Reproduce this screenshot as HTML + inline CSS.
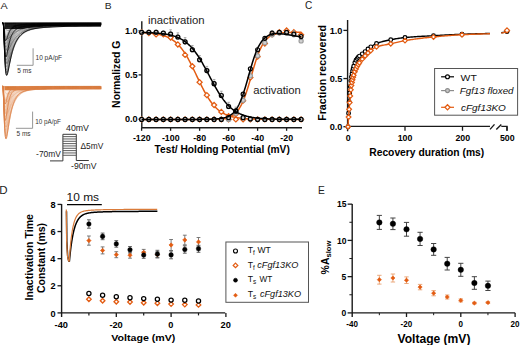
<!DOCTYPE html>
<html><head><meta charset="utf-8"><title>Figure</title>
<style>html,body{margin:0;padding:0;background:#fff;width:520px;height:345px;overflow:hidden;font-family:"Liberation Sans",sans-serif}svg{display:block}</style>
</head><body>
<svg width="520" height="345" viewBox="0 0 520 345" font-family="'Liberation Sans', sans-serif"><text x="0.5" y="8.8" font-size="9.000" font-weight="normal" font-style="normal" fill="#222" textLength="7.19" lengthAdjust="spacingAndGlyphs">A</text>
<text x="104.83" y="8.75" font-size="9.643" font-weight="normal" font-style="normal" fill="#222" textLength="6.85" lengthAdjust="spacingAndGlyphs">B</text>
<text x="305.1" y="9.4" font-size="10.714" font-weight="normal" font-style="normal" fill="#222" textLength="7.28" lengthAdjust="spacingAndGlyphs">C</text>
<text x="-0.86" y="193.75" font-size="11.643" font-weight="normal" font-style="normal" fill="#222" textLength="8.31" lengthAdjust="spacingAndGlyphs">D</text>
<text x="317.98" y="193.75" font-size="11.643" font-weight="normal" font-style="normal" fill="#222" textLength="6.85" lengthAdjust="spacingAndGlyphs">E</text>
<path d="M4.5,22.4 L6.14,22.4 L7.79,22.4 L9.43,22.4 L11.08,22.4 L12.72,22.4 L14.36,22.4 L16.01,22.4 L17.65,22.4 L19.3,22.4 L20.94,22.4 L22.58,22.4 L24.23,22.4 L25.87,22.4 L27.52,22.4 L29.16,22.4 L30.81,22.4 L32.45,22.4 L34.09,22.4 L35.74,22.4 L37.38,22.4 L39.03,22.4 L40.67,22.4 L42.31,22.4 L43.96,22.4 L45.6,22.4 L47.25,22.4 L48.89,22.4 L50.53,22.4 L52.18,22.4 L53.82,22.4 L55.47,22.4 L57.11,22.4 L58.75,22.4 L60.4,22.4 L62.04,22.4 L63.69,22.4 L65.33,22.4 L66.97,22.4 L68.62,22.4 L70.26,22.4 L71.91,22.4 L73.55,22.4 L75.19,22.4 L76.84,22.4 L78.48,22.4 L80.13,22.4 L81.77,22.4 L83.42,22.4 L85.06,22.4 L86.7,22.4 L88.35,22.4 L89.99,22.4 L91.64,22.4 L93.28,22.4 L94.92,22.4 L96.57,22.4 L98.21,22.4 L99.86,22.4 L101.5,22.4 L101.5,25.37 L99.86,25.38 L98.21,25.38 L96.57,25.39 L94.92,25.4 L93.28,25.41 L91.64,25.41 L89.99,25.42 L88.35,25.43 L86.7,25.45 L85.06,25.46 L83.42,25.47 L81.77,25.49 L80.13,25.5 L78.48,25.52 L76.84,25.54 L75.19,25.56 L73.55,25.58 L71.91,25.61 L70.26,25.63 L68.62,25.66 L66.97,25.69 L65.33,25.73 L63.69,25.76 L62.04,25.8 L60.4,25.85 L58.75,25.89 L57.11,25.94 L55.47,26 L53.82,26.06 L52.18,26.12 L50.53,26.19 L48.89,26.27 L47.25,26.35 L45.6,26.44 L43.96,26.54 L42.31,26.65 L40.67,26.76 L39.03,26.89 L37.38,27.02 L35.74,27.17 L34.09,27.33 L32.45,27.5 L30.81,27.69 L29.16,27.9 L27.52,28.12 L25.87,28.36 L24.23,28.63 L22.58,28.91 L20.94,29 L19.3,29 L17.65,29 L16.01,29 L14.36,29 L12.72,29 L11.08,29 L9.43,29 L7.79,29 L6.14,29 L4.5,29 Z" fill="#000"/>
<path d="M2.7,22.9 L3,22.9 L3.22,23.35 L3.45,25.58 L3.67,29.72 L3.89,35.19 L4.12,41.28 L4.34,47.4 L4.57,53.23 L4.79,58.49 L5.01,62.99 L5.24,66.7 L5.46,69.63 L5.68,71.83 L5.91,73.39 L6.13,74.38 L6.36,75 L6.58,75.33 L6.8,75.32 L7.03,75.04 L7.25,74.53 L7.47,73.85 L7.7,73.03 L7.92,72.1 L8.15,71.09 L8.37,70.02 L8.59,68.91 L8.82,67.78 L9.04,66.64 L9.26,65.5 L9.49,64.36 L9.71,63.24 L9.94,62.13 L10.16,61.04 L10.38,59.98 L10.61,59.02 L10.83,58.12 L11.05,57.24 L11.28,56.39 L11.5,55.55 L11.73,54.73 L11.95,53.94 L12.17,53.17 L12.4,52.42 L12.62,51.69 L12.84,50.98 L13.07,50.3 L13.29,49.63 L13.52,48.98 L13.74,48.35 L13.96,47.74 L14.19,47.15 L14.41,46.58 L14.63,46.03 L14.86,45.49 L15.08,44.97 L15.31,44.46 L15.53,43.97 L15.75,43.49 L15.98,43.03 L16.2,42.59 L16.53,41.95 L17.61,40.06 L18.69,38.43 L19.78,37.02 L20.86,35.8 L21.94,34.75 L23.02,33.83 L24.1,33.03 L25.19,32.33 L26.27,31.72 L27.35,31.19 L28.43,30.72 L29.51,30.3 L30.59,29.93 L31.68,29.61 L32.76,29.32 L33.84,29.06 L34.92,28.82 L36,28.61 L37.09,28.42 L38.17,28.25 L39.25,28.1 L40,22.9 Z" fill="#888" fill-opacity="0.25"/>
<g fill="none" stroke="#000" stroke-width="0.5" stroke-opacity="0.5"><path d="M2.7,22.9 L3,22.9 L3.22,22.9 L3.45,22.91 L3.67,22.92 L3.89,22.94 L4.12,22.96 L4.34,22.98 L4.57,23 L4.79,23.03 L5.01,23.05 L5.24,23.07 L5.46,23.08 L5.68,23.1 L5.91,23.11 L6.13,23.12 L6.36,23.13 L6.58,23.14 L6.8,23.15 L7.03,23.15 L7.25,23.15 L7.47,23.16 L7.7,23.16 L7.92,23.16 L8.15,23.16 L8.37,23.16 L8.59,23.16 L8.82,23.16 L9.04,23.16 L9.26,23.16 L9.49,23.16 L9.71,23.16 L9.94,23.16 L10.16,23.16 L10.38,23.16 L10.61,23.16 L10.83,23.16 L11.05,23.15 L11.28,23.15 L11.5,23.15 L11.73,23.15 L11.95,23.15 L12.17,23.15 L12.4,23.15 L12.62,23.14 L12.84,23.14 L13.07,23.14 L13.29,23.14 L13.52,23.14 L13.74,23.14 L13.96,23.14 L14.19,23.13 L14.41,23.13 L14.63,23.13 L14.86,23.13 L15.08,23.13 L15.31,23.13 L15.53,23.12 L15.75,23.12 L15.98,23.12 L16.2,23.12 L16.53,23.12 L17.61,23.11 L18.69,23.1 L19.78,23.1 L20.86,23.09 L21.94,23.09 L23.02,23.08 L24.1,23.08 L25.19,23.07 L26.27,23.07 L27.35,23.06 L28.43,23.06 L29.51,23.05 L30.59,23.05 L31.68,23.04 L32.76,23.04 L33.84,23.03 L34.92,23.03 L36,23.03 L37.09,23.02 L38.17,23.02 L39.25,23.02 L40.33,23.01 L41.41,23.01 L42.5,23.01 L43.58,23 L44.66,23 L45.74,23 L46.82,23 L47.91,22.99 L48.99,22.99 L50.07,22.99 L51.15,22.99 L52.23,22.99 L53.31,22.98 L54.4,22.98 L55.48,22.98 L56.56,22.98 L57.64,22.98 L58.72,22.97 L59.81,22.97 L60.89,22.97 L61.97,22.97 L63.05,22.97 L64.13,22.97 L65.22,22.96 L66.3,22.96 L67.38,22.96 L68.46,22.96 L69.54,22.96 L70.62,22.96 L71.71,22.96 L72.79,22.96 L73.87,22.95 L74.95,22.95 L76.03,22.95 L77.12,22.95 L78.2,22.95 L79.28,22.95 L80.36,22.95 L81.44,22.95 L82.53,22.95 L83.61,22.95 L84.69,22.95 L85.77,22.94 L86.85,22.94 L87.94,22.94 L89.02,22.94 L90.1,22.94 L91.18,22.94 L92.26,22.94 L93.34,22.94 L94.43,22.94 L95.51,22.94 L96.59,22.94 L97.67,22.94 L98.75,22.94 L99.84,22.94 L100.92,22.94"/><path d="M2.7,22.9 L3,22.9 L3.22,22.9 L3.45,22.92 L3.67,22.95 L3.89,22.99 L4.12,23.04 L4.34,23.1 L4.57,23.15 L4.79,23.2 L5.01,23.25 L5.24,23.3 L5.46,23.34 L5.68,23.37 L5.91,23.4 L6.13,23.43 L6.36,23.45 L6.58,23.47 L6.8,23.48 L7.03,23.49 L7.25,23.5 L7.47,23.51 L7.7,23.51 L7.92,23.52 L8.15,23.52 L8.37,23.52 L8.59,23.52 L8.82,23.52 L9.04,23.52 L9.26,23.51 L9.49,23.51 L9.71,23.51 L9.94,23.5 L10.16,23.5 L10.38,23.5 L10.61,23.49 L10.83,23.49 L11.05,23.49 L11.28,23.48 L11.5,23.48 L11.73,23.47 L11.95,23.47 L12.17,23.46 L12.4,23.46 L12.62,23.46 L12.84,23.45 L13.07,23.45 L13.29,23.44 L13.52,23.44 L13.74,23.43 L13.96,23.43 L14.19,23.43 L14.41,23.42 L14.63,23.42 L14.86,23.41 L15.08,23.41 L15.31,23.41 L15.53,23.4 L15.75,23.4 L15.98,23.39 L16.2,23.39 L16.53,23.38 L17.61,23.37 L18.69,23.35 L19.78,23.33 L20.86,23.32 L21.94,23.3 L23.02,23.29 L24.1,23.27 L25.19,23.26 L26.27,23.25 L27.35,23.23 L28.43,23.22 L29.51,23.21 L30.59,23.2 L31.68,23.19 L32.76,23.18 L33.84,23.17 L34.92,23.16 L36,23.15 L37.09,23.15 L38.17,23.14 L39.25,23.13 L40.33,23.12 L41.41,23.12 L42.5,23.11 L43.58,23.1 L44.66,23.1 L45.74,23.09 L46.82,23.09 L47.91,23.08 L48.99,23.07 L50.07,23.07 L51.15,23.07 L52.23,23.06 L53.31,23.06 L54.4,23.05 L55.48,23.05 L56.56,23.04 L57.64,23.04 L58.72,23.04 L59.81,23.03 L60.89,23.03 L61.97,23.03 L63.05,23.02 L64.13,23.02 L65.22,23.02 L66.3,23.02 L67.38,23.01 L68.46,23.01 L69.54,23.01 L70.62,23.01 L71.71,23 L72.79,23 L73.87,23 L74.95,23 L76.03,23 L77.12,23 L78.2,22.99 L79.28,22.99 L80.36,22.99 L81.44,22.99 L82.53,22.99 L83.61,22.99 L84.69,22.98 L85.77,22.98 L86.85,22.98 L87.94,22.98 L89.02,22.98 L90.1,22.98 L91.18,22.98 L92.26,22.98 L93.34,22.98 L94.43,22.97 L95.51,22.97 L96.59,22.97 L97.67,22.97 L98.75,22.97 L99.84,22.97 L100.92,22.97"/><path d="M2.7,22.9 L3,22.9 L3.22,22.91 L3.45,22.95 L3.67,23.02 L3.89,23.12 L4.12,23.25 L4.34,23.38 L4.57,23.51 L4.79,23.64 L5.01,23.76 L5.24,23.86 L5.46,23.96 L5.68,24.04 L5.91,24.11 L6.13,24.17 L6.36,24.22 L6.58,24.25 L6.8,24.29 L7.03,24.31 L7.25,24.33 L7.47,24.34 L7.7,24.35 L7.92,24.36 L8.15,24.36 L8.37,24.36 L8.59,24.35 L8.82,24.35 L9.04,24.34 L9.26,24.34 L9.49,24.33 L9.71,24.32 L9.94,24.31 L10.16,24.3 L10.38,24.29 L10.61,24.27 L10.83,24.26 L11.05,24.25 L11.28,24.24 L11.5,24.23 L11.73,24.21 L11.95,24.2 L12.17,24.19 L12.4,24.18 L12.62,24.17 L12.84,24.15 L13.07,24.14 L13.29,24.13 L13.52,24.12 L13.74,24.11 L13.96,24.1 L14.19,24.08 L14.41,24.07 L14.63,24.06 L14.86,24.05 L15.08,24.04 L15.31,24.03 L15.53,24.02 L15.75,24.01 L15.98,24 L16.2,23.99 L16.53,23.97 L17.61,23.92 L18.69,23.88 L19.78,23.83 L20.86,23.79 L21.94,23.75 L23.02,23.72 L24.1,23.68 L25.19,23.65 L26.27,23.62 L27.35,23.59 L28.43,23.56 L29.51,23.53 L30.59,23.51 L31.68,23.48 L32.76,23.46 L33.84,23.44 L34.92,23.42 L36,23.4 L37.09,23.38 L38.17,23.36 L39.25,23.35 L40.33,23.33 L41.41,23.32 L42.5,23.3 L43.58,23.29 L44.66,23.28 L45.74,23.26 L46.82,23.25 L47.91,23.24 L48.99,23.23 L50.07,23.22 L51.15,23.21 L52.23,23.2 L53.31,23.19 L54.4,23.19 L55.48,23.18 L56.56,23.17 L57.64,23.16 L58.72,23.16 L59.81,23.15 L60.89,23.15 L61.97,23.14 L63.05,23.13 L64.13,23.13 L65.22,23.12 L66.3,23.12 L67.38,23.11 L68.46,23.11 L69.54,23.11 L70.62,23.1 L71.71,23.1 L72.79,23.09 L73.87,23.09 L74.95,23.09 L76.03,23.08 L77.12,23.08 L78.2,23.08 L79.28,23.08 L80.36,23.07 L81.44,23.07 L82.53,23.07 L83.61,23.07 L84.69,23.06 L85.77,23.06 L86.85,23.06 L87.94,23.06 L89.02,23.06 L90.1,23.05 L91.18,23.05 L92.26,23.05 L93.34,23.05 L94.43,23.05 L95.51,23.05 L96.59,23.04 L97.67,23.04 L98.75,23.04 L99.84,23.04 L100.92,23.04"/><path d="M2.7,22.9 L3,22.9 L3.22,22.92 L3.45,23.01 L3.67,23.19 L3.89,23.44 L4.12,23.74 L4.34,24.05 L4.57,24.37 L4.79,24.67 L5.01,24.95 L5.24,25.19 L5.46,25.41 L5.68,25.6 L5.91,25.76 L6.13,25.89 L6.36,26 L6.58,26.08 L6.8,26.15 L7.03,26.2 L7.25,26.24 L7.47,26.26 L7.7,26.27 L7.92,26.28 L8.15,26.27 L8.37,26.27 L8.59,26.25 L8.82,26.23 L9.04,26.21 L9.26,26.19 L9.49,26.16 L9.71,26.13 L9.94,26.1 L10.16,26.07 L10.38,26.04 L10.61,26.01 L10.83,25.98 L11.05,25.94 L11.28,25.91 L11.5,25.88 L11.73,25.84 L11.95,25.81 L12.17,25.78 L12.4,25.74 L12.62,25.71 L12.84,25.68 L13.07,25.65 L13.29,25.62 L13.52,25.58 L13.74,25.55 L13.96,25.52 L14.19,25.49 L14.41,25.46 L14.63,25.43 L14.86,25.4 L15.08,25.37 L15.31,25.35 L15.53,25.32 L15.75,25.29 L15.98,25.26 L16.2,25.24 L16.53,25.2 L17.61,25.07 L18.69,24.96 L19.78,24.85 L20.86,24.75 L21.94,24.66 L23.02,24.57 L24.1,24.48 L25.19,24.41 L26.27,24.33 L27.35,24.26 L28.43,24.2 L29.51,24.14 L30.59,24.08 L31.68,24.03 L32.76,23.98 L33.84,23.94 L34.92,23.89 L36,23.85 L37.09,23.81 L38.17,23.78 L39.25,23.74 L40.33,23.71 L41.41,23.68 L42.5,23.65 L43.58,23.63 L44.66,23.6 L45.74,23.58 L46.82,23.56 L47.91,23.53 L48.99,23.51 L50.07,23.5 L51.15,23.48 L52.23,23.46 L53.31,23.45 L54.4,23.43 L55.48,23.42 L56.56,23.41 L57.64,23.39 L58.72,23.38 L59.81,23.37 L60.89,23.36 L61.97,23.35 L63.05,23.34 L64.13,23.33 L65.22,23.32 L66.3,23.31 L67.38,23.31 L68.46,23.3 L69.54,23.29 L70.62,23.29 L71.71,23.28 L72.79,23.27 L73.87,23.27 L74.95,23.26 L76.03,23.26 L77.12,23.25 L78.2,23.25 L79.28,23.24 L80.36,23.24 L81.44,23.23 L82.53,23.23 L83.61,23.23 L84.69,23.22 L85.77,23.22 L86.85,23.22 L87.94,23.21 L89.02,23.21 L90.1,23.21 L91.18,23.2 L92.26,23.2 L93.34,23.2 L94.43,23.2 L95.51,23.19 L96.59,23.19 L97.67,23.19 L98.75,23.19 L99.84,23.18 L100.92,23.18"/><path d="M2.7,22.9 L3,22.9 L3.22,22.94 L3.45,23.16 L3.67,23.58 L3.89,24.17 L4.12,24.85 L4.34,25.58 L4.57,26.3 L4.79,26.99 L5.01,27.61 L5.24,28.17 L5.46,28.66 L5.68,29.07 L5.91,29.42 L6.13,29.7 L6.36,29.93 L6.58,30.1 L6.8,30.23 L7.03,30.33 L7.25,30.39 L7.47,30.42 L7.7,30.43 L7.92,30.42 L8.15,30.4 L8.37,30.36 L8.59,30.31 L8.82,30.25 L9.04,30.19 L9.26,30.12 L9.49,30.04 L9.71,29.96 L9.94,29.88 L10.16,29.79 L10.38,29.71 L10.61,29.62 L10.83,29.54 L11.05,29.45 L11.28,29.36 L11.5,29.28 L11.73,29.19 L11.95,29.1 L12.17,29.02 L12.4,28.94 L12.62,28.85 L12.84,28.77 L13.07,28.69 L13.29,28.61 L13.52,28.53 L13.74,28.45 L13.96,28.38 L14.19,28.3 L14.41,28.23 L14.63,28.16 L14.86,28.08 L15.08,28.01 L15.31,27.94 L15.53,27.88 L15.75,27.81 L15.98,27.74 L16.2,27.68 L16.53,27.58 L17.61,27.29 L18.69,27.02 L19.78,26.76 L20.86,26.53 L21.94,26.32 L23.02,26.12 L24.1,25.94 L25.19,25.77 L26.27,25.61 L27.35,25.47 L28.43,25.33 L29.51,25.21 L30.59,25.09 L31.68,24.98 L32.76,24.88 L33.84,24.79 L34.92,24.71 L36,24.63 L37.09,24.55 L38.17,24.49 L39.25,24.42 L40.33,24.36 L41.41,24.31 L42.5,24.26 L43.58,24.21 L44.66,24.16 L45.74,24.12 L46.82,24.08 L47.91,24.05 L48.99,24.01 L50.07,23.98 L51.15,23.95 L52.23,23.92 L53.31,23.9 L54.4,23.87 L55.48,23.85 L56.56,23.83 L57.64,23.81 L58.72,23.79 L59.81,23.77 L60.89,23.75 L61.97,23.74 L63.05,23.72 L64.13,23.71 L65.22,23.69 L66.3,23.68 L67.38,23.67 L68.46,23.66 L69.54,23.65 L70.62,23.64 L71.71,23.63 L72.79,23.62 L73.87,23.61 L74.95,23.6 L76.03,23.59 L77.12,23.58 L78.2,23.58 L79.28,23.57 L80.36,23.56 L81.44,23.55 L82.53,23.55 L83.61,23.54 L84.69,23.54 L85.77,23.53 L86.85,23.52 L87.94,23.52 L89.02,23.51 L90.1,23.51 L91.18,23.51 L92.26,23.5 L93.34,23.5 L94.43,23.49 L95.51,23.49 L96.59,23.48 L97.67,23.48 L98.75,23.48 L99.84,23.47 L100.92,23.47"/><path d="M2.7,22.9 L3,22.9 L3.22,22.99 L3.45,23.47 L3.67,24.38 L3.89,25.64 L4.12,27.11 L4.34,28.66 L4.57,30.19 L4.79,31.63 L5.01,32.95 L5.24,34.1 L5.46,35.1 L5.68,35.94 L5.91,36.63 L6.13,37.18 L6.36,37.61 L6.58,37.93 L6.8,38.16 L7.03,38.31 L7.25,38.39 L7.47,38.41 L7.7,38.39 L7.92,38.33 L8.15,38.23 L8.37,38.11 L8.59,37.97 L8.82,37.81 L9.04,37.63 L9.26,37.45 L9.49,37.25 L9.71,37.05 L9.94,36.85 L10.16,36.65 L10.38,36.44 L10.61,36.23 L10.83,36.02 L11.05,35.82 L11.28,35.61 L11.5,35.41 L11.73,35.21 L11.95,35.01 L12.17,34.81 L12.4,34.62 L12.62,34.43 L12.84,34.24 L13.07,34.06 L13.29,33.88 L13.52,33.7 L13.74,33.52 L13.96,33.35 L14.19,33.18 L14.41,33.02 L14.63,32.85 L14.86,32.69 L15.08,32.54 L15.31,32.38 L15.53,32.23 L15.75,32.09 L15.98,31.94 L16.2,31.8 L16.53,31.6 L17.61,30.96 L18.69,30.39 L19.78,29.87 L20.86,29.39 L21.94,28.96 L23.02,28.56 L24.1,28.21 L25.19,27.88 L26.27,27.58 L27.35,27.3 L28.43,27.05 L29.51,26.83 L30.59,26.62 L31.68,26.43 L32.76,26.25 L33.84,26.09 L34.92,25.94 L36,25.81 L37.09,25.68 L38.17,25.57 L39.25,25.46 L40.33,25.37 L41.41,25.28 L42.5,25.2 L43.58,25.12 L44.66,25.05 L45.74,24.98 L46.82,24.92 L47.91,24.87 L48.99,24.81 L50.07,24.76 L51.15,24.72 L52.23,24.68 L53.31,24.64 L54.4,24.6 L55.48,24.57 L56.56,24.53 L57.64,24.5 L58.72,24.47 L59.81,24.45 L60.89,24.42 L61.97,24.4 L63.05,24.37 L64.13,24.35 L65.22,24.33 L66.3,24.31 L67.38,24.29 L68.46,24.28 L69.54,24.26 L70.62,24.24 L71.71,24.23 L72.79,24.21 L73.87,24.2 L74.95,24.19 L76.03,24.17 L77.12,24.16 L78.2,24.15 L79.28,24.14 L80.36,24.13 L81.44,24.12 L82.53,24.11 L83.61,24.1 L84.69,24.09 L85.77,24.08 L86.85,24.07 L87.94,24.06 L89.02,24.06 L90.1,24.05 L91.18,24.04 L92.26,24.03 L93.34,24.03 L94.43,24.02 L95.51,24.02 L96.59,24.01 L97.67,24 L98.75,24 L99.84,23.99 L100.92,23.99"/><path d="M2.7,22.9 L3,22.9 L3.22,23.08 L3.45,23.97 L3.67,25.7 L3.89,28.06 L4.12,30.8 L4.34,33.66 L4.57,36.48 L4.79,39.11 L5.01,41.48 L5.24,43.54 L5.46,45.3 L5.68,46.76 L5.91,47.94 L6.13,48.86 L6.36,49.55 L6.58,50.04 L6.8,50.36 L7.03,50.54 L7.25,50.59 L7.47,50.54 L7.7,50.41 L7.92,50.21 L8.15,49.96 L8.37,49.65 L8.59,49.32 L8.82,48.95 L9.04,48.57 L9.26,48.16 L9.49,47.75 L9.71,47.33 L9.94,46.91 L10.16,46.48 L10.38,46.06 L10.61,45.63 L10.83,45.21 L11.05,44.8 L11.28,44.39 L11.5,43.98 L11.73,43.58 L11.95,43.19 L12.17,42.8 L12.4,42.43 L12.62,42.06 L12.84,41.69 L13.07,41.34 L13.29,40.99 L13.52,40.65 L13.74,40.31 L13.96,39.99 L14.19,39.67 L14.41,39.36 L14.63,39.05 L14.86,38.75 L15.08,38.46 L15.31,38.18 L15.53,37.9 L15.75,37.63 L15.98,37.36 L16.2,37.1 L16.53,36.73 L17.61,35.59 L18.69,34.57 L19.78,33.66 L20.86,32.84 L21.94,32.11 L23.02,31.46 L24.1,30.87 L25.19,30.34 L26.27,29.86 L27.35,29.44 L28.43,29.05 L29.51,28.7 L30.59,28.39 L31.68,28.1 L32.76,27.85 L33.84,27.61 L34.92,27.4 L36,27.21 L37.09,27.03 L38.17,26.87 L39.25,26.73 L40.33,26.59 L41.41,26.47 L42.5,26.36 L43.58,26.25 L44.66,26.16 L45.74,26.07 L46.82,25.99 L47.91,25.92 L48.99,25.85 L50.07,25.78 L51.15,25.72 L52.23,25.66 L53.31,25.61 L54.4,25.56 L55.48,25.52 L56.56,25.47 L57.64,25.43 L58.72,25.39 L59.81,25.36 L60.89,25.32 L61.97,25.29 L63.05,25.26 L64.13,25.23 L65.22,25.2 L66.3,25.18 L67.38,25.15 L68.46,25.13 L69.54,25.1 L70.62,25.08 L71.71,25.06 L72.79,25.04 L73.87,25.02 L74.95,25 L76.03,24.99 L77.12,24.97 L78.2,24.95 L79.28,24.94 L80.36,24.92 L81.44,24.91 L82.53,24.9 L83.61,24.88 L84.69,24.87 L85.77,24.86 L86.85,24.85 L87.94,24.83 L89.02,24.82 L90.1,24.81 L91.18,24.8 L92.26,24.79 L93.34,24.78 L94.43,24.77 L95.51,24.77 L96.59,24.76 L97.67,24.75 L98.75,24.74 L99.84,24.73 L100.92,24.73"/><path d="M2.7,22.9 L3,22.9 L3.22,23.17 L3.45,24.58 L3.67,27.26 L3.89,30.9 L4.12,35.09 L4.34,39.45 L4.57,43.7 L4.79,47.63 L5.01,51.13 L5.24,54.16 L5.46,56.69 L5.68,58.75 L5.91,60.37 L6.13,61.6 L6.36,62.49 L6.58,63.07 L6.8,63.4 L7.03,63.51 L7.25,63.44 L7.47,63.22 L7.7,62.89 L7.92,62.45 L8.15,61.94 L8.37,61.37 L8.59,60.76 L8.82,60.1 L9.04,59.43 L9.26,58.73 L9.49,58.03 L9.71,57.32 L9.94,56.61 L10.16,55.91 L10.38,55.2 L10.61,54.51 L10.83,53.83 L11.05,53.16 L11.28,52.5 L11.5,51.85 L11.73,51.21 L11.95,50.59 L12.17,49.99 L12.4,49.39 L12.62,48.82 L12.84,48.25 L13.07,47.7 L13.29,47.17 L13.52,46.64 L13.74,46.13 L13.96,45.64 L14.19,45.15 L14.41,44.68 L14.63,44.22 L14.86,43.78 L15.08,43.34 L15.31,42.92 L15.53,42.51 L15.75,42.11 L15.98,41.72 L16.2,41.34 L16.53,40.79 L17.61,39.16 L18.69,37.72 L19.78,36.46 L20.86,35.35 L21.94,34.37 L23.02,33.5 L24.1,32.74 L25.19,32.06 L26.27,31.46 L27.35,30.93 L28.43,30.45 L29.51,30.03 L30.59,29.65 L31.68,29.32 L32.76,29.01 L33.84,28.74 L34.92,28.5 L36,28.28 L37.09,28.08 L38.17,27.9 L39.25,27.73 L40.33,27.58 L41.41,27.44 L42.5,27.32 L43.58,27.2 L44.66,27.1 L45.74,27 L46.82,26.91 L47.91,26.82 L48.99,26.74 L50.07,26.67 L51.15,26.6 L52.23,26.54 L53.31,26.48 L54.4,26.42 L55.48,26.37 L56.56,26.32 L57.64,26.27 L58.72,26.23 L59.81,26.19 L60.89,26.15 L61.97,26.11 L63.05,26.07 L64.13,26.04 L65.22,26.01 L66.3,25.98 L67.38,25.95 L68.46,25.92 L69.54,25.89 L70.62,25.87 L71.71,25.84 L72.79,25.82 L73.87,25.8 L74.95,25.78 L76.03,25.76 L77.12,25.74 L78.2,25.72 L79.28,25.7 L80.36,25.68 L81.44,25.67 L82.53,25.65 L83.61,25.64 L84.69,25.62 L85.77,25.61 L86.85,25.6 L87.94,25.58 L89.02,25.57 L90.1,25.56 L91.18,25.55 L92.26,25.54 L93.34,25.53 L94.43,25.52 L95.51,25.51 L96.59,25.5 L97.67,25.49 L98.75,25.48 L99.84,25.47 L100.92,25.46"/><path d="M2.7,22.9 L3,22.9 L3.22,23.26 L3.45,25.07 L3.67,28.52 L3.89,33.17 L4.12,38.48 L4.34,43.97 L4.57,49.26 L4.79,54.11 L5.01,58.38 L5.24,62.02 L5.46,65.01 L5.68,67.4 L5.91,69.22 L6.13,70.54 L6.36,71.43 L6.58,71.95 L6.8,72.15 L7.03,72.09 L7.25,71.82 L7.47,71.37 L7.7,70.78 L7.92,70.08 L8.15,69.29 L8.37,68.44 L8.59,67.55 L8.82,66.62 L9.04,65.66 L9.26,64.7 L9.49,63.73 L9.71,62.77 L9.94,61.81 L10.16,60.87 L10.38,59.93 L10.61,59.02 L10.83,58.12 L11.05,57.24 L11.28,56.39 L11.5,55.55 L11.73,54.73 L11.95,53.94 L12.17,53.17 L12.4,52.42 L12.62,51.69 L12.84,50.98 L13.07,50.3 L13.29,49.63 L13.52,48.98 L13.74,48.35 L13.96,47.74 L14.19,47.15 L14.41,46.58 L14.63,46.03 L14.86,45.49 L15.08,44.97 L15.31,44.46 L15.53,43.97 L15.75,43.49 L15.98,43.03 L16.2,42.59 L16.53,41.95 L17.61,40.06 L18.69,38.43 L19.78,37.02 L20.86,35.8 L21.94,34.75 L23.02,33.83 L24.1,33.03 L25.19,32.33 L26.27,31.72 L27.35,31.19 L28.43,30.72 L29.51,30.3 L30.59,29.93 L31.68,29.61 L32.76,29.32 L33.84,29.06 L34.92,28.82 L36,28.61 L37.09,28.42 L38.17,28.25 L39.25,28.1 L40.33,27.95 L41.41,27.82 L42.5,27.7 L43.58,27.59 L44.66,27.49 L45.74,27.4 L46.82,27.31 L47.91,27.23 L48.99,27.15 L50.07,27.08 L51.15,27.01 L52.23,26.95 L53.31,26.89 L54.4,26.84 L55.48,26.79 L56.56,26.74 L57.64,26.69 L58.72,26.65 L59.81,26.6 L60.89,26.57 L61.97,26.53 L63.05,26.49 L64.13,26.46 L65.22,26.43 L66.3,26.4 L67.38,26.37 L68.46,26.34 L69.54,26.32 L70.62,26.29 L71.71,26.27 L72.79,26.24 L73.87,26.22 L74.95,26.2 L76.03,26.18 L77.12,26.17 L78.2,26.15 L79.28,26.13 L80.36,26.11 L81.44,26.1 L82.53,26.09 L83.61,26.07 L84.69,26.06 L85.77,26.05 L86.85,26.03 L87.94,26.02 L89.02,26.01 L90.1,26 L91.18,25.99 L92.26,25.98 L93.34,25.97 L94.43,25.96 L95.51,25.96 L96.59,25.95 L97.67,25.94 L98.75,25.93 L99.84,25.93 L100.92,25.92"/><path d="M2.7,22.9 L3,22.9 L3.22,23.31 L3.45,25.37 L3.67,29.26 L3.89,34.48 L4.12,40.39 L4.34,46.43 L4.57,52.21 L4.79,57.44 L5.01,62 L5.24,65.81 L5.46,68.89 L5.68,71.28 L5.91,73.05 L6.13,74.26 L6.36,75 L6.58,75.33 L6.8,75.32 L7.03,75.04 L7.25,74.53 L7.47,73.85 L7.7,73.03 L7.92,72.1 L8.15,71.09 L8.37,70.02 L8.59,68.91 L8.82,67.78 L9.04,66.64 L9.26,65.5 L9.49,64.36 L9.71,63.24 L9.94,62.13 L10.16,61.04 L10.38,59.98 L10.61,58.94 L10.83,57.93 L11.05,56.94 L11.28,55.99 L11.5,55.06 L11.73,54.16 L11.95,53.29 L12.17,52.45 L12.4,51.63 L12.62,50.84 L12.84,50.08 L13.07,49.34 L13.29,48.63 L13.52,47.95 L13.74,47.28 L13.96,46.64 L14.19,46.02 L14.41,45.43 L14.63,44.85 L14.86,44.29 L15.08,43.76 L15.31,43.24 L15.53,42.74 L15.75,42.25 L15.98,41.79 L16.2,41.34 L16.53,40.7 L17.61,38.83 L18.69,37.24 L19.78,35.9 L20.86,34.75 L21.94,33.77 L23.02,32.93 L24.1,32.21 L25.19,31.59 L26.27,31.06 L27.35,30.59 L28.43,30.18 L29.51,29.82 L30.59,29.5 L31.68,29.22 L32.76,28.97 L33.84,28.75 L34.92,28.55 L36,28.37 L37.09,28.21 L38.17,28.06 L39.25,27.93 L40.33,27.8 L41.41,27.69 L42.5,27.59 L43.58,27.49 L44.66,27.4 L45.74,27.32 L46.82,27.24 L47.91,27.17 L48.99,27.1 L50.07,27.04 L51.15,26.98 L52.23,26.92 L53.31,26.87 L54.4,26.82 L55.48,26.78 L56.56,26.73 L57.64,26.69 L58.72,26.65 L59.81,26.62 L60.89,26.58 L61.97,26.55 L63.05,26.52 L64.13,26.49 L65.22,26.46 L66.3,26.44 L67.38,26.41 L68.46,26.39 L69.54,26.37 L70.62,26.35 L71.71,26.33 L72.79,26.31 L73.87,26.29 L74.95,26.27 L76.03,26.26 L77.12,26.24 L78.2,26.23 L79.28,26.22 L80.36,26.2 L81.44,26.19 L82.53,26.18 L83.61,26.17 L84.69,26.16 L85.77,26.15 L86.85,26.14 L87.94,26.13 L89.02,26.12 L90.1,26.11 L91.18,26.11 L92.26,26.1 L93.34,26.09 L94.43,26.09 L95.51,26.08 L96.59,26.08 L97.67,26.07 L98.75,26.07 L99.84,26.06 L100.92,26.06"/><path d="M2.7,22.9 L3,22.9 L3.22,23.33 L3.45,25.52 L3.67,29.61 L3.89,35.06 L4.12,41.17 L4.34,47.37 L4.57,53.23 L4.79,58.49 L5.01,62.99 L5.24,66.7 L5.46,69.63 L5.68,71.83 L5.91,73.39 L6.13,74.38 L6.36,74.89 L6.58,74.99 L6.8,74.76 L7.03,74.26 L7.25,73.55 L7.47,72.67 L7.7,71.66 L7.92,70.56 L8.15,69.4 L8.37,68.19 L8.59,66.96 L8.82,65.71 L9.04,64.46 L9.26,63.23 L9.49,62.01 L9.71,60.81 L9.94,59.64 L10.16,58.5 L10.38,57.39 L10.61,56.32 L10.83,55.27 L11.05,54.27 L11.28,53.29 L11.5,52.35 L11.73,51.44 L11.95,50.57 L12.17,49.73 L12.4,48.92 L12.62,48.14 L12.84,47.39 L13.07,46.67 L13.29,45.98 L13.52,45.31 L13.74,44.67 L13.96,44.06 L14.19,43.46 L14.41,42.89 L14.63,42.35 L14.86,41.82 L15.08,41.32 L15.31,40.83 L15.53,40.36 L15.75,39.91 L15.98,39.48 L16.2,39.06 L16.53,38.48 L17.61,36.78 L18.69,35.37 L19.78,34.19 L20.86,33.2 L21.94,32.36 L23.02,31.65 L24.1,31.05 L25.19,30.54 L26.27,30.09 L27.35,29.71 L28.43,29.37 L29.51,29.08 L30.59,28.82 L31.68,28.59 L32.76,28.39 L33.84,28.2 L34.92,28.04 L36,27.89 L37.09,27.76 L38.17,27.63 L39.25,27.52 L40.33,27.42 L41.41,27.32 L42.5,27.23 L43.58,27.15 L44.66,27.07 L45.74,27 L46.82,26.94 L47.91,26.88 L48.99,26.82 L50.07,26.77 L51.15,26.72 L52.23,26.67 L53.31,26.63 L54.4,26.59 L55.48,26.55 L56.56,26.51 L57.64,26.48 L58.72,26.45 L59.81,26.42 L60.89,26.39 L61.97,26.36 L63.05,26.34 L64.13,26.32 L65.22,26.3 L66.3,26.27 L67.38,26.26 L68.46,26.24 L69.54,26.22 L70.62,26.2 L71.71,26.19 L72.79,26.18 L73.87,26.16 L74.95,26.15 L76.03,26.14 L77.12,26.13 L78.2,26.12 L79.28,26.11 L80.36,26.1 L81.44,26.09 L82.53,26.08 L83.61,26.07 L84.69,26.07 L85.77,26.06 L86.85,26.05 L87.94,26.05 L89.02,26.04 L90.1,26.04 L91.18,26.03 L92.26,26.03 L93.34,26.02 L94.43,26.02 L95.51,26.02 L96.59,26.01 L97.67,26.01 L98.75,26 L99.84,26 L100.92,26"/><path d="M2.7,22.9 L3,22.9 L3.22,23.35 L3.45,25.58 L3.67,29.72 L3.89,35.19 L4.12,41.28 L4.34,47.4 L4.57,53.12 L4.79,58.18 L5.01,62.46 L5.24,65.92 L5.46,68.58 L5.68,70.52 L5.91,71.81 L6.13,72.54 L6.36,72.81 L6.58,72.69 L6.8,72.26 L7.03,71.57 L7.25,70.7 L7.47,69.67 L7.7,68.54 L7.92,67.33 L8.15,66.08 L8.37,64.79 L8.59,63.5 L8.82,62.2 L9.04,60.92 L9.26,59.66 L9.49,58.42 L9.71,57.22 L9.94,56.05 L10.16,54.92 L10.38,53.82 L10.61,52.77 L10.83,51.75 L11.05,50.77 L11.28,49.83 L11.5,48.93 L11.73,48.06 L11.95,47.23 L12.17,46.43 L12.4,45.67 L12.62,44.94 L12.84,44.24 L13.07,43.57 L13.29,42.93 L13.52,42.31 L13.74,41.73 L13.96,41.16 L14.19,40.62 L14.41,40.11 L14.63,39.61 L14.86,39.14 L15.08,38.69 L15.31,38.26 L15.53,37.84 L15.75,37.44 L15.98,37.06 L16.2,36.7 L16.53,36.19 L17.61,34.72 L18.69,33.51 L19.78,32.52 L20.86,31.69 L21.94,31 L23.02,30.43 L24.1,29.94 L25.19,29.52 L26.27,29.16 L27.35,28.85 L28.43,28.58 L29.51,28.34 L30.59,28.13 L31.68,27.94 L32.76,27.78 L33.84,27.62 L34.92,27.49 L36,27.37 L37.09,27.25 L38.17,27.15 L39.25,27.06 L40.33,26.97 L41.41,26.89 L42.5,26.82 L43.58,26.75 L44.66,26.69 L45.74,26.63 L46.82,26.57 L47.91,26.52 L48.99,26.48 L50.07,26.43 L51.15,26.39 L52.23,26.35 L53.31,26.32 L54.4,26.29 L55.48,26.26 L56.56,26.23 L57.64,26.2 L58.72,26.18 L59.81,26.15 L60.89,26.13 L61.97,26.11 L63.05,26.09 L64.13,26.08 L65.22,26.06 L66.3,26.04 L67.38,26.03 L68.46,26.02 L69.54,26 L70.62,25.99 L71.71,25.98 L72.79,25.97 L73.87,25.96 L74.95,25.95 L76.03,25.95 L77.12,25.94 L78.2,25.93 L79.28,25.92 L80.36,25.92 L81.44,25.91 L82.53,25.91 L83.61,25.9 L84.69,25.9 L85.77,25.89 L86.85,25.89 L87.94,25.89 L89.02,25.88 L90.1,25.88 L91.18,25.88 L92.26,25.87 L93.34,25.87 L94.43,25.87 L95.51,25.86 L96.59,25.86 L97.67,25.86 L98.75,25.86 L99.84,25.86 L100.92,25.86"/><path d="M2.7,22.9 L3,22.9 L3.22,23.35 L3.45,25.58 L3.67,29.69 L3.89,35.08 L4.12,41.04 L4.34,46.96 L4.57,52.43 L4.79,57.22 L5.01,61.2 L5.24,64.35 L5.46,66.72 L5.68,68.37 L5.91,69.4 L6.13,69.89 L6.36,69.94 L6.58,69.63 L6.8,69.02 L7.03,68.2 L7.25,67.2 L7.47,66.08 L7.7,64.87 L7.92,63.6 L8.15,62.3 L8.37,60.99 L8.59,59.68 L8.82,58.38 L9.04,57.11 L9.26,55.86 L9.49,54.65 L9.71,53.48 L9.94,52.35 L10.16,51.26 L10.38,50.21 L10.61,49.2 L10.83,48.24 L11.05,47.32 L11.28,46.44 L11.5,45.59 L11.73,44.79 L11.95,44.02 L12.17,43.29 L12.4,42.59 L12.62,41.92 L12.84,41.29 L13.07,40.68 L13.29,40.1 L13.52,39.55 L13.74,39.03 L13.96,38.53 L14.19,38.05 L14.41,37.6 L14.63,37.16 L14.86,36.75 L15.08,36.35 L15.31,35.97 L15.53,35.61 L15.75,35.27 L15.98,34.94 L16.2,34.63 L16.53,34.19 L17.61,32.94 L18.69,31.93 L19.78,31.11 L20.86,30.43 L21.94,29.86 L23.02,29.39 L24.1,28.99 L25.19,28.65 L26.27,28.36 L27.35,28.11 L28.43,27.88 L29.51,27.69 L30.59,27.51 L31.68,27.36 L32.76,27.22 L33.84,27.09 L34.92,26.98 L36,26.88 L37.09,26.78 L38.17,26.7 L39.25,26.62 L40.33,26.55 L41.41,26.48 L42.5,26.42 L43.58,26.36 L44.66,26.31 L45.74,26.26 L46.82,26.22 L47.91,26.18 L48.99,26.14 L50.07,26.1 L51.15,26.07 L52.23,26.04 L53.31,26.01 L54.4,25.99 L55.48,25.96 L56.56,25.94 L57.64,25.92 L58.72,25.9 L59.81,25.89 L60.89,25.87 L61.97,25.85 L63.05,25.84 L64.13,25.83 L65.22,25.82 L66.3,25.8 L67.38,25.79 L68.46,25.79 L69.54,25.78 L70.62,25.77 L71.71,25.76 L72.79,25.75 L73.87,25.75 L74.95,25.74 L76.03,25.74 L77.12,25.73 L78.2,25.73 L79.28,25.72 L80.36,25.72 L81.44,25.71 L82.53,25.71 L83.61,25.71 L84.69,25.7 L85.77,25.7 L86.85,25.7 L87.94,25.7 L89.02,25.69 L90.1,25.69 L91.18,25.69 L92.26,25.69 L93.34,25.69 L94.43,25.69 L95.51,25.68 L96.59,25.68 L97.67,25.68 L98.75,25.68 L99.84,25.68 L100.92,25.68"/><path d="M2.7,22.9 L3,22.9 L3.22,23.34 L3.45,25.54 L3.67,29.56 L3.89,34.8 L4.12,40.53 L4.34,46.17 L4.57,51.34 L4.79,55.8 L5.01,59.45 L5.24,62.29 L5.46,64.35 L5.68,65.73 L5.91,66.51 L6.13,66.79 L6.36,66.65 L6.58,66.18 L6.8,65.46 L7.03,64.53 L7.25,63.46 L7.47,62.29 L7.7,61.04 L7.92,59.76 L8.15,58.46 L8.37,57.16 L8.59,55.87 L8.82,54.6 L9.04,53.37 L9.26,52.17 L9.49,51.02 L9.71,49.9 L9.94,48.83 L10.16,47.81 L10.38,46.83 L10.61,45.89 L10.83,45 L11.05,44.15 L11.28,43.34 L11.5,42.57 L11.73,41.84 L11.95,41.14 L12.17,40.48 L12.4,39.86 L12.62,39.26 L12.84,38.69 L13.07,38.15 L13.29,37.64 L13.52,37.16 L13.74,36.7 L13.96,36.26 L14.19,35.84 L14.41,35.45 L14.63,35.07 L14.86,34.71 L15.08,34.37 L15.31,34.05 L15.53,33.74 L15.75,33.44 L15.98,33.16 L16.2,32.9 L16.53,32.53 L17.61,31.48 L18.69,30.63 L19.78,29.95 L20.86,29.39 L21.94,28.93 L23.02,28.54 L24.1,28.21 L25.19,27.93 L26.27,27.68 L27.35,27.47 L28.43,27.29 L29.51,27.12 L30.59,26.98 L31.68,26.85 L32.76,26.73 L33.84,26.62 L34.92,26.53 L36,26.44 L37.09,26.36 L38.17,26.29 L39.25,26.22 L40.33,26.16 L41.41,26.11 L42.5,26.06 L43.58,26.01 L44.66,25.97 L45.74,25.93 L46.82,25.89 L47.91,25.86 L48.99,25.83 L50.07,25.8 L51.15,25.77 L52.23,25.75 L53.31,25.73 L54.4,25.71 L55.48,25.69 L56.56,25.68 L57.64,25.66 L58.72,25.65 L59.81,25.63 L60.89,25.62 L61.97,25.61 L63.05,25.6 L64.13,25.59 L65.22,25.58 L66.3,25.57 L67.38,25.57 L68.46,25.56 L69.54,25.55 L70.62,25.55 L71.71,25.54 L72.79,25.54 L73.87,25.53 L74.95,25.53 L76.03,25.53 L77.12,25.52 L78.2,25.52 L79.28,25.52 L80.36,25.51 L81.44,25.51 L82.53,25.51 L83.61,25.51 L84.69,25.51 L85.77,25.5 L86.85,25.5 L87.94,25.5 L89.02,25.5 L90.1,25.5 L91.18,25.5 L92.26,25.5 L93.34,25.49 L94.43,25.49 L95.51,25.49 L96.59,25.49 L97.67,25.49 L98.75,25.49 L99.84,25.49 L100.92,25.49"/><path d="M2.7,22.9 L3,22.9 L3.22,23.34 L3.45,25.48 L3.67,29.37 L3.89,34.4 L4.12,39.86 L4.34,45.19 L4.57,50.02 L4.79,54.14 L5.01,57.46 L5.24,59.99 L5.46,61.78 L5.68,62.91 L5.91,63.47 L6.13,63.57 L6.36,63.29 L6.58,62.71 L6.8,61.9 L7.03,60.91 L7.25,59.8 L7.47,58.61 L7.7,57.37 L7.92,56.1 L8.15,54.83 L8.37,53.57 L8.59,52.33 L8.82,51.12 L9.04,49.94 L9.26,48.81 L9.49,47.72 L9.71,46.68 L9.94,45.69 L10.16,44.74 L10.38,43.84 L10.61,42.98 L10.83,42.16 L11.05,41.39 L11.28,40.66 L11.5,39.96 L11.73,39.3 L11.95,38.68 L12.17,38.09 L12.4,37.53 L12.62,37 L12.84,36.5 L13.07,36.03 L13.29,35.58 L13.52,35.16 L13.74,34.75 L13.96,34.37 L14.19,34.01 L14.41,33.67 L14.63,33.34 L14.86,33.03 L15.08,32.74 L15.31,32.46 L15.53,32.2 L15.75,31.95 L15.98,31.71 L16.2,31.49 L16.53,31.17 L17.61,30.29 L18.69,29.58 L19.78,29.01 L20.86,28.54 L21.94,28.15 L23.02,27.83 L24.1,27.55 L25.19,27.32 L26.27,27.11 L27.35,26.93 L28.43,26.77 L29.51,26.63 L30.59,26.51 L31.68,26.4 L32.76,26.3 L33.84,26.21 L34.92,26.13 L36,26.05 L37.09,25.99 L38.17,25.92 L39.25,25.87 L40.33,25.82 L41.41,25.77 L42.5,25.73 L43.58,25.69 L44.66,25.66 L45.74,25.63 L46.82,25.6 L47.91,25.57 L48.99,25.55 L50.07,25.53 L51.15,25.51 L52.23,25.49 L53.31,25.47 L54.4,25.46 L55.48,25.44 L56.56,25.43 L57.64,25.42 L58.72,25.41 L59.81,25.4 L60.89,25.39 L61.97,25.38 L63.05,25.37 L64.13,25.37 L65.22,25.36 L66.3,25.35 L67.38,25.35 L68.46,25.34 L69.54,25.34 L70.62,25.34 L71.71,25.33 L72.79,25.33 L73.87,25.33 L74.95,25.32 L76.03,25.32 L77.12,25.32 L78.2,25.32 L79.28,25.31 L80.36,25.31 L81.44,25.31 L82.53,25.31 L83.61,25.31 L84.69,25.31 L85.77,25.31 L86.85,25.3 L87.94,25.3 L89.02,25.3 L90.1,25.3 L91.18,25.3 L92.26,25.3 L93.34,25.3 L94.43,25.3 L95.51,25.3 L96.59,25.3 L97.67,25.3 L98.75,25.3 L99.84,25.3 L100.92,25.3"/><path d="M2.7,22.9 L3,22.9 L3.22,23.32 L3.45,25.37 L3.67,29.09 L3.89,33.85 L4.12,38.98 L4.34,43.96 L4.57,48.42 L4.79,52.18 L5.01,55.17 L5.24,57.4 L5.46,58.92 L5.68,59.84 L5.91,60.22 L6.13,60.18 L6.36,59.79 L6.58,59.14 L6.8,58.28 L7.03,57.28 L7.25,56.17 L7.47,55 L7.7,53.79 L7.92,52.57 L8.15,51.35 L8.37,50.15 L8.59,48.98 L8.82,47.85 L9.04,46.76 L9.26,45.71 L9.49,44.7 L9.71,43.75 L9.94,42.84 L10.16,41.97 L10.38,41.15 L10.61,40.37 L10.83,39.64 L11.05,38.95 L11.28,38.29 L11.5,37.67 L11.73,37.09 L11.95,36.53 L12.17,36.01 L12.4,35.52 L12.62,35.06 L12.84,34.62 L13.07,34.21 L13.29,33.82 L13.52,33.45 L13.74,33.1 L13.96,32.77 L14.19,32.46 L14.41,32.16 L14.63,31.89 L14.86,31.62 L15.08,31.37 L15.31,31.14 L15.53,30.91 L15.75,30.7 L15.98,30.5 L16.2,30.3 L16.53,30.04 L17.61,29.29 L18.69,28.7 L19.78,28.21 L20.86,27.82 L21.94,27.5 L23.02,27.22 L24.1,26.99 L25.19,26.79 L26.27,26.61 L27.35,26.46 L28.43,26.32 L29.51,26.2 L30.59,26.1 L31.68,26 L32.76,25.91 L33.84,25.84 L34.92,25.77 L36,25.71 L37.09,25.65 L38.17,25.6 L39.25,25.55 L40.33,25.51 L41.41,25.47 L42.5,25.44 L43.58,25.41 L44.66,25.38 L45.74,25.35 L46.82,25.33 L47.91,25.31 L48.99,25.29 L50.07,25.27 L51.15,25.26 L52.23,25.24 L53.31,25.23 L54.4,25.22 L55.48,25.21 L56.56,25.2 L57.64,25.19 L58.72,25.18 L59.81,25.17 L60.89,25.17 L61.97,25.16 L63.05,25.16 L64.13,25.15 L65.22,25.15 L66.3,25.14 L67.38,25.14 L68.46,25.14 L69.54,25.13 L70.62,25.13 L71.71,25.13 L72.79,25.12 L73.87,25.12 L74.95,25.12 L76.03,25.12 L77.12,25.12 L78.2,25.12 L79.28,25.11 L80.36,25.11 L81.44,25.11 L82.53,25.11 L83.61,25.11 L84.69,25.11 L85.77,25.11 L86.85,25.11 L87.94,25.11 L89.02,25.11 L90.1,25.11 L91.18,25.11 L92.26,25.11 L93.34,25.11 L94.43,25.11 L95.51,25.11 L96.59,25.11 L97.67,25.1 L98.75,25.1 L99.84,25.1 L100.92,25.1"/><path d="M2.7,22.9 L3,22.9 L3.22,23.3 L3.45,25.25 L3.67,28.75 L3.89,33.21 L4.12,37.99 L4.34,42.58 L4.57,46.67 L4.79,50.07 L5.01,52.74 L5.24,54.69 L5.46,55.99 L5.68,56.71 L5.91,56.96 L6.13,56.81 L6.36,56.36 L6.58,55.66 L6.8,54.8 L7.03,53.8 L7.25,52.72 L7.47,51.6 L7.7,50.44 L7.92,49.29 L8.15,48.15 L8.37,47.03 L8.59,45.94 L8.82,44.89 L9.04,43.89 L9.26,42.93 L9.49,42.01 L9.71,41.14 L9.94,40.32 L10.16,39.54 L10.38,38.8 L10.61,38.1 L10.83,37.45 L11.05,36.83 L11.28,36.25 L11.5,35.7 L11.73,35.18 L11.95,34.7 L12.17,34.24 L12.4,33.81 L12.62,33.41 L12.84,33.02 L13.07,32.67 L13.29,32.33 L13.52,32.01 L13.74,31.71 L13.96,31.42 L14.19,31.15 L14.41,30.9 L14.63,30.66 L14.86,30.44 L15.08,30.22 L15.31,30.02 L15.53,29.83 L15.75,29.65 L15.98,29.47 L16.2,29.31 L16.53,29.09 L17.61,28.45 L18.69,27.95 L19.78,27.54 L20.86,27.21 L21.94,26.93 L23.02,26.69 L24.1,26.49 L25.19,26.32 L26.27,26.17 L27.35,26.04 L28.43,25.92 L29.51,25.82 L30.59,25.73 L31.68,25.64 L32.76,25.57 L33.84,25.51 L34.92,25.45 L36,25.39 L37.09,25.35 L38.17,25.3 L39.25,25.26 L40.33,25.23 L41.41,25.2 L42.5,25.17 L43.58,25.14 L44.66,25.12 L45.74,25.1 L46.82,25.08 L47.91,25.07 L48.99,25.05 L50.07,25.04 L51.15,25.02 L52.23,25.01 L53.31,25 L54.4,24.99 L55.48,24.99 L56.56,24.98 L57.64,24.97 L58.72,24.97 L59.81,24.96 L60.89,24.96 L61.97,24.95 L63.05,24.95 L64.13,24.94 L65.22,24.94 L66.3,24.94 L67.38,24.93 L68.46,24.93 L69.54,24.93 L70.62,24.93 L71.71,24.93 L72.79,24.92 L73.87,24.92 L74.95,24.92 L76.03,24.92 L77.12,24.92 L78.2,24.92 L79.28,24.92 L80.36,24.92 L81.44,24.92 L82.53,24.92 L83.61,24.92 L84.69,24.91 L85.77,24.91 L86.85,24.91 L87.94,24.91 L89.02,24.91 L90.1,24.91 L91.18,24.91 L92.26,24.91 L93.34,24.91 L94.43,24.91 L95.51,24.91 L96.59,24.91 L97.67,24.91 L98.75,24.91 L99.84,24.91 L100.92,24.91"/><path d="M2.7,22.9 L3,22.9 L3.22,23.28 L3.45,25.09 L3.67,28.35 L3.89,32.48 L4.12,36.87 L4.34,41.07 L4.57,44.77 L4.79,47.83 L5.01,50.19 L5.24,51.89 L5.46,52.98 L5.68,53.55 L5.91,53.69 L6.13,53.47 L6.36,52.98 L6.58,52.28 L6.8,51.43 L7.03,50.47 L7.25,49.45 L7.47,48.38 L7.7,47.31 L7.92,46.23 L8.15,45.18 L8.37,44.15 L8.59,43.15 L8.82,42.2 L9.04,41.29 L9.26,40.42 L9.49,39.59 L9.71,38.81 L9.94,38.07 L10.16,37.37 L10.38,36.72 L10.61,36.1 L10.83,35.52 L11.05,34.97 L11.28,34.46 L11.5,33.98 L11.73,33.53 L11.95,33.1 L12.17,32.71 L12.4,32.33 L12.62,31.98 L12.84,31.65 L13.07,31.34 L13.29,31.04 L13.52,30.77 L13.74,30.51 L13.96,30.26 L14.19,30.03 L14.41,29.82 L14.63,29.61 L14.86,29.42 L15.08,29.24 L15.31,29.06 L15.53,28.9 L15.75,28.74 L15.98,28.6 L16.2,28.46 L16.53,28.26 L17.61,27.72 L18.69,27.3 L19.78,26.95 L20.86,26.66 L21.94,26.42 L23.02,26.22 L24.1,26.05 L25.19,25.9 L26.27,25.77 L27.35,25.66 L28.43,25.56 L29.51,25.47 L30.59,25.39 L31.68,25.32 L32.76,25.26 L33.84,25.2 L34.92,25.15 L36,25.11 L37.09,25.07 L38.17,25.03 L39.25,25 L40.33,24.97 L41.41,24.94 L42.5,24.92 L43.58,24.9 L44.66,24.88 L45.74,24.86 L46.82,24.85 L47.91,24.84 L48.99,24.82 L50.07,24.81 L51.15,24.8 L52.23,24.79 L53.31,24.79 L54.4,24.78 L55.48,24.77 L56.56,24.77 L57.64,24.76 L58.72,24.76 L59.81,24.75 L60.89,24.75 L61.97,24.75 L63.05,24.74 L64.13,24.74 L65.22,24.74 L66.3,24.74 L67.38,24.73 L68.46,24.73 L69.54,24.73 L70.62,24.73 L71.71,24.73 L72.79,24.73 L73.87,24.73 L74.95,24.72 L76.03,24.72 L77.12,24.72 L78.2,24.72 L79.28,24.72 L80.36,24.72 L81.44,24.72 L82.53,24.72 L83.61,24.72 L84.69,24.72 L85.77,24.72 L86.85,24.72 L87.94,24.72 L89.02,24.72 L90.1,24.72 L91.18,24.72 L92.26,24.72 L93.34,24.72 L94.43,24.72 L95.51,24.72 L96.59,24.72 L97.67,24.72 L98.75,24.72 L99.84,24.72 L100.92,24.72"/><path d="M2.7,22.9 L3,22.9 L3.22,23.25 L3.45,24.92 L3.67,27.9 L3.89,31.66 L4.12,35.64 L4.34,39.42 L4.57,42.73 L4.79,45.44 L5.01,47.51 L5.24,48.98 L5.46,49.89 L5.68,50.34 L5.91,50.39 L6.13,50.13 L6.36,49.63 L6.58,48.95 L6.8,48.14 L7.03,47.24 L7.25,46.29 L7.47,45.31 L7.7,44.32 L7.92,43.35 L8.15,42.39 L8.37,41.46 L8.59,40.56 L8.82,39.7 L9.04,38.89 L9.26,38.11 L9.49,37.38 L9.71,36.69 L9.94,36.03 L10.16,35.42 L10.38,34.84 L10.61,34.3 L10.83,33.79 L11.05,33.31 L11.28,32.87 L11.5,32.45 L11.73,32.05 L11.95,31.69 L12.17,31.34 L12.4,31.02 L12.62,30.71 L12.84,30.43 L13.07,30.16 L13.29,29.91 L13.52,29.67 L13.74,29.45 L13.96,29.24 L14.19,29.04 L14.41,28.86 L14.63,28.68 L14.86,28.52 L15.08,28.36 L15.31,28.22 L15.53,28.08 L15.75,27.94 L15.98,27.82 L16.2,27.7 L16.53,27.54 L17.61,27.08 L18.69,26.71 L19.78,26.42 L20.86,26.17 L21.94,25.97 L23.02,25.79 L24.1,25.65 L25.19,25.52 L26.27,25.41 L27.35,25.31 L28.43,25.22 L29.51,25.15 L30.59,25.08 L31.68,25.02 L32.76,24.97 L33.84,24.92 L34.92,24.88 L36,24.84 L37.09,24.81 L38.17,24.78 L39.25,24.75 L40.33,24.72 L41.41,24.7 L42.5,24.68 L43.58,24.67 L44.66,24.65 L45.74,24.64 L46.82,24.63 L47.91,24.61 L48.99,24.61 L50.07,24.6 L51.15,24.59 L52.23,24.58 L53.31,24.58 L54.4,24.57 L55.48,24.57 L56.56,24.56 L57.64,24.56 L58.72,24.55 L59.81,24.55 L60.89,24.55 L61.97,24.54 L63.05,24.54 L64.13,24.54 L65.22,24.54 L66.3,24.54 L67.38,24.54 L68.46,24.53 L69.54,24.53 L70.62,24.53 L71.71,24.53 L72.79,24.53 L73.87,24.53 L74.95,24.53 L76.03,24.53 L77.12,24.53 L78.2,24.53 L79.28,24.53 L80.36,24.53 L81.44,24.53 L82.53,24.53 L83.61,24.53 L84.69,24.53 L85.77,24.53 L86.85,24.53 L87.94,24.53 L89.02,24.52 L90.1,24.52 L91.18,24.52 L92.26,24.52 L93.34,24.52 L94.43,24.52 L95.51,24.52 L96.59,24.52 L97.67,24.52 L98.75,24.52 L99.84,24.52 L100.92,24.52"/><path d="M2.7,22.9 L3,22.9 L3.22,23.21 L3.45,24.72 L3.67,27.39 L3.89,30.76 L4.12,34.3 L4.34,37.65 L4.57,40.56 L4.79,42.93 L5.01,44.73 L5.24,45.97 L5.46,46.73 L5.68,47.07 L5.91,47.07 L6.13,46.79 L6.36,46.31 L6.58,45.67 L6.8,44.92 L7.03,44.1 L7.25,43.24 L7.47,42.35 L7.7,41.47 L7.92,40.59 L8.15,39.74 L8.37,38.92 L8.59,38.12 L8.82,37.37 L9.04,36.65 L9.26,35.97 L9.49,35.33 L9.71,34.72 L9.94,34.15 L10.16,33.62 L10.38,33.12 L10.61,32.65 L10.83,32.21 L11.05,31.8 L11.28,31.41 L11.5,31.05 L11.73,30.72 L11.95,30.4 L12.17,30.1 L12.4,29.83 L12.62,29.57 L12.84,29.33 L13.07,29.1 L13.29,28.88 L13.52,28.68 L13.74,28.49 L13.96,28.32 L14.19,28.15 L14.41,27.99 L14.63,27.84 L14.86,27.7 L15.08,27.57 L15.31,27.45 L15.53,27.33 L15.75,27.22 L15.98,27.11 L16.2,27.01 L16.53,26.87 L17.61,26.48 L18.69,26.18 L19.78,25.92 L20.86,25.72 L21.94,25.54 L23.02,25.4 L24.1,25.27 L25.19,25.16 L26.27,25.07 L27.35,24.98 L28.43,24.91 L29.51,24.84 L30.59,24.79 L31.68,24.74 L32.76,24.69 L33.84,24.65 L34.92,24.62 L36,24.58 L37.09,24.56 L38.17,24.53 L39.25,24.51 L40.33,24.49 L41.41,24.47 L42.5,24.46 L43.58,24.44 L44.66,24.43 L45.74,24.42 L46.82,24.41 L47.91,24.4 L48.99,24.39 L50.07,24.39 L51.15,24.38 L52.23,24.37 L53.31,24.37 L54.4,24.37 L55.48,24.36 L56.56,24.36 L57.64,24.36 L58.72,24.35 L59.81,24.35 L60.89,24.35 L61.97,24.35 L63.05,24.34 L64.13,24.34 L65.22,24.34 L66.3,24.34 L67.38,24.34 L68.46,24.34 L69.54,24.34 L70.62,24.34 L71.71,24.34 L72.79,24.34 L73.87,24.33 L74.95,24.33 L76.03,24.33 L77.12,24.33 L78.2,24.33 L79.28,24.33 L80.36,24.33 L81.44,24.33 L82.53,24.33 L83.61,24.33 L84.69,24.33 L85.77,24.33 L86.85,24.33 L87.94,24.33 L89.02,24.33 L90.1,24.33 L91.18,24.33 L92.26,24.33 L93.34,24.33 L94.43,24.33 L95.51,24.33 L96.59,24.33 L97.67,24.33 L98.75,24.33 L99.84,24.33 L100.92,24.33"/><path d="M2.7,22.9 L3,22.9 L3.22,23.18 L3.45,24.5 L3.67,26.85 L3.89,29.8 L4.12,32.89 L4.34,35.8 L4.57,38.32 L4.79,40.35 L5.01,41.88 L5.24,42.93 L5.46,43.55 L5.68,43.8 L5.91,43.77 L6.13,43.49 L6.36,43.04 L6.58,42.46 L6.8,41.79 L7.03,41.06 L7.25,40.3 L7.47,39.52 L7.7,38.74 L7.92,37.98 L8.15,37.23 L8.37,36.52 L8.59,35.83 L8.82,35.18 L9.04,34.56 L9.26,33.97 L9.49,33.42 L9.71,32.9 L9.94,32.41 L10.16,31.96 L10.38,31.53 L10.61,31.13 L10.83,30.76 L11.05,30.41 L11.28,30.08 L11.5,29.78 L11.73,29.49 L11.95,29.22 L12.17,28.97 L12.4,28.74 L12.62,28.52 L12.84,28.32 L13.07,28.13 L13.29,27.95 L13.52,27.78 L13.74,27.62 L13.96,27.47 L14.19,27.33 L14.41,27.2 L14.63,27.07 L14.86,26.96 L15.08,26.85 L15.31,26.74 L15.53,26.64 L15.75,26.55 L15.98,26.46 L16.2,26.38 L16.53,26.26 L17.61,25.94 L18.69,25.68 L19.78,25.47 L20.86,25.29 L21.94,25.15 L23.02,25.02 L24.1,24.92 L25.19,24.82 L26.27,24.74 L27.35,24.67 L28.43,24.61 L29.51,24.56 L30.59,24.51 L31.68,24.47 L32.76,24.43 L33.84,24.4 L34.92,24.37 L36,24.34 L37.09,24.32 L38.17,24.3 L39.25,24.28 L40.33,24.26 L41.41,24.25 L42.5,24.24 L43.58,24.23 L44.66,24.22 L45.74,24.21 L46.82,24.2 L47.91,24.19 L48.99,24.19 L50.07,24.18 L51.15,24.18 L52.23,24.17 L53.31,24.17 L54.4,24.16 L55.48,24.16 L56.56,24.16 L57.64,24.16 L58.72,24.15 L59.81,24.15 L60.89,24.15 L61.97,24.15 L63.05,24.15 L64.13,24.15 L65.22,24.15 L66.3,24.14 L67.38,24.14 L68.46,24.14 L69.54,24.14 L70.62,24.14 L71.71,24.14 L72.79,24.14 L73.87,24.14 L74.95,24.14 L76.03,24.14 L77.12,24.14 L78.2,24.14 L79.28,24.14 L80.36,24.14 L81.44,24.14 L82.53,24.14 L83.61,24.14 L84.69,24.14 L85.77,24.14 L86.85,24.14 L87.94,24.14 L89.02,24.14 L90.1,24.14 L91.18,24.14 L92.26,24.14 L93.34,24.14 L94.43,24.14 L95.51,24.14 L96.59,24.14 L97.67,24.14 L98.75,24.14 L99.84,24.14 L100.92,24.14"/><path d="M2.7,22.9 L3,22.9 L3.22,23.14 L3.45,24.28 L3.67,26.29 L3.89,28.8 L4.12,31.42 L4.34,33.89 L4.57,36.01 L4.79,37.72 L5.01,38.99 L5.24,39.85 L5.46,40.35 L5.68,40.54 L5.91,40.48 L6.13,40.23 L6.36,39.83 L6.58,39.32 L6.8,38.73 L7.03,38.1 L7.25,37.44 L7.47,36.78 L7.7,36.12 L7.92,35.47 L8.15,34.83 L8.37,34.23 L8.59,33.65 L8.82,33.1 L9.04,32.57 L9.26,32.08 L9.49,31.62 L9.71,31.19 L9.94,30.78 L10.16,30.4 L10.38,30.04 L10.61,29.71 L10.83,29.4 L11.05,29.11 L11.28,28.84 L11.5,28.58 L11.73,28.35 L11.95,28.13 L12.17,27.92 L12.4,27.73 L12.62,27.55 L12.84,27.38 L13.07,27.22 L13.29,27.07 L13.52,26.93 L13.74,26.8 L13.96,26.68 L14.19,26.56 L14.41,26.46 L14.63,26.35 L14.86,26.26 L15.08,26.17 L15.31,26.08 L15.53,26 L15.75,25.92 L15.98,25.85 L16.2,25.78 L16.53,25.69 L17.61,25.42 L18.69,25.21 L19.78,25.03 L20.86,24.89 L21.94,24.77 L23.02,24.67 L24.1,24.58 L25.19,24.5 L26.27,24.44 L27.35,24.38 L28.43,24.33 L29.51,24.28 L30.59,24.24 L31.68,24.21 L32.76,24.18 L33.84,24.15 L34.92,24.13 L36,24.11 L37.09,24.09 L38.17,24.07 L39.25,24.06 L40.33,24.04 L41.41,24.03 L42.5,24.02 L43.58,24.01 L44.66,24 L45.74,24 L46.82,23.99 L47.91,23.99 L48.99,23.98 L50.07,23.98 L51.15,23.97 L52.23,23.97 L53.31,23.97 L54.4,23.96 L55.48,23.96 L56.56,23.96 L57.64,23.96 L58.72,23.96 L59.81,23.95 L60.89,23.95 L61.97,23.95 L63.05,23.95 L64.13,23.95 L65.22,23.95 L66.3,23.95 L67.38,23.95 L68.46,23.95 L69.54,23.95 L70.62,23.95 L71.71,23.95 L72.79,23.95 L73.87,23.95 L74.95,23.95 L76.03,23.95 L77.12,23.95 L78.2,23.95 L79.28,23.94 L80.36,23.94 L81.44,23.94 L82.53,23.94 L83.61,23.94 L84.69,23.94 L85.77,23.94 L86.85,23.94 L87.94,23.94 L89.02,23.94 L90.1,23.94 L91.18,23.94 L92.26,23.94 L93.34,23.94 L94.43,23.94 L95.51,23.94 L96.59,23.94 L97.67,23.94 L98.75,23.94 L99.84,23.94 L100.92,23.94"/><path d="M2.7,22.9 L3,22.9 L3.22,23.1 L3.45,24.04 L3.67,25.69 L3.89,27.76 L4.12,29.91 L4.34,31.92 L4.57,33.65 L4.79,35.03 L5.01,36.06 L5.24,36.74 L5.46,37.13 L5.68,37.27 L5.91,37.21 L6.13,36.98 L6.36,36.64 L6.58,36.22 L6.8,35.73 L7.03,35.21 L7.25,34.66 L7.47,34.11 L7.7,33.57 L7.92,33.04 L8.15,32.52 L8.37,32.02 L8.59,31.55 L8.82,31.1 L9.04,30.68 L9.26,30.28 L9.49,29.9 L9.71,29.55 L9.94,29.22 L10.16,28.92 L10.38,28.63 L10.61,28.36 L10.83,28.11 L11.05,27.88 L11.28,27.66 L11.5,27.45 L11.73,27.26 L11.95,27.09 L12.17,26.92 L12.4,26.77 L12.62,26.62 L12.84,26.49 L13.07,26.36 L13.29,26.24 L13.52,26.13 L13.74,26.03 L13.96,25.93 L14.19,25.84 L14.41,25.75 L14.63,25.67 L14.86,25.6 L15.08,25.52 L15.31,25.45 L15.53,25.39 L15.75,25.33 L15.98,25.27 L16.2,25.22 L16.53,25.14 L17.61,24.93 L18.69,24.76 L19.78,24.62 L20.86,24.5 L21.94,24.41 L23.02,24.32 L24.1,24.25 L25.19,24.19 L26.27,24.14 L27.35,24.09 L28.43,24.05 L29.51,24.02 L30.59,23.98 L31.68,23.96 L32.76,23.93 L33.84,23.91 L34.92,23.89 L36,23.88 L37.09,23.86 L38.17,23.85 L39.25,23.84 L40.33,23.83 L41.41,23.82 L42.5,23.81 L43.58,23.8 L44.66,23.8 L45.74,23.79 L46.82,23.79 L47.91,23.78 L48.99,23.78 L50.07,23.78 L51.15,23.77 L52.23,23.77 L53.31,23.77 L54.4,23.77 L55.48,23.76 L56.56,23.76 L57.64,23.76 L58.72,23.76 L59.81,23.76 L60.89,23.76 L61.97,23.76 L63.05,23.76 L64.13,23.76 L65.22,23.75 L66.3,23.75 L67.38,23.75 L68.46,23.75 L69.54,23.75 L70.62,23.75 L71.71,23.75 L72.79,23.75 L73.87,23.75 L74.95,23.75 L76.03,23.75 L77.12,23.75 L78.2,23.75 L79.28,23.75 L80.36,23.75 L81.44,23.75 L82.53,23.75 L83.61,23.75 L84.69,23.75 L85.77,23.75 L86.85,23.75 L87.94,23.75 L89.02,23.75 L90.1,23.75 L91.18,23.75 L92.26,23.75 L93.34,23.75 L94.43,23.75 L95.51,23.75 L96.59,23.75 L97.67,23.75 L98.75,23.75 L99.84,23.75 L100.92,23.75"/></g>
<g fill="none" stroke="#000" stroke-width="0.9" stroke-opacity="0.9"><path d="M2.7,22.9 L3,22.9 L3.22,23.3 L3.45,25.25 L3.67,28.75 L3.89,33.21 L4.12,37.99 L4.34,42.58 L4.57,46.67 L4.79,50.07 L5.01,52.74 L5.24,54.69 L5.46,55.99 L5.68,56.71 L5.91,56.96 L6.13,56.81 L6.36,56.36 L6.58,55.66 L6.8,54.8 L7.03,53.8 L7.25,52.72 L7.47,51.6 L7.7,50.44 L7.92,49.29 L8.15,48.15 L8.37,47.03 L8.59,45.94 L8.82,44.89 L9.04,43.89 L9.26,42.93 L9.49,42.01 L9.71,41.14 L9.94,40.32 L10.16,39.54 L10.38,38.8 L10.61,38.1 L10.83,37.45 L11.05,36.83 L11.28,36.25 L11.5,35.7 L11.73,35.18 L11.95,34.7 L12.17,34.24 L12.4,33.81 L12.62,33.41 L12.84,33.02 L13.07,32.67 L13.29,32.33 L13.52,32.01 L13.74,31.71 L13.96,31.42 L14.19,31.15 L14.41,30.9 L14.63,30.66 L14.86,30.44 L15.08,30.22 L15.31,30.02 L15.53,29.83 L15.75,29.65 L15.98,29.47 L16.2,29.31 L16.53,29.09 L17.61,28.45 L18.69,27.95 L19.78,27.54 L20.86,27.21 L21.94,26.93 L23.02,26.69 L24.1,26.49 L25.19,26.32 L26.27,26.17 L27.35,26.04 L28.43,25.92 L29.51,25.82 L30.59,25.73 L31.68,25.64 L32.76,25.57 L33.84,25.51 L34.92,25.45 L36,25.39 L37.09,25.35 L38.17,25.3 L39.25,25.26 L40.33,25.23 L41.41,25.2 L42.5,25.17 L43.58,25.14 L44.66,25.12 L45.74,25.1 L46.82,25.08 L47.91,25.07 L48.99,25.05 L50.07,25.04 L51.15,25.02 L52.23,25.01 L53.31,25 L54.4,24.99 L55.48,24.99 L56.56,24.98 L57.64,24.97 L58.72,24.97 L59.81,24.96 L60.89,24.96 L61.97,24.95 L63.05,24.95 L64.13,24.94 L65.22,24.94 L66.3,24.94 L67.38,24.93 L68.46,24.93 L69.54,24.93 L70.62,24.93 L71.71,24.93 L72.79,24.92 L73.87,24.92 L74.95,24.92 L76.03,24.92 L77.12,24.92 L78.2,24.92 L79.28,24.92 L80.36,24.92 L81.44,24.92 L82.53,24.92 L83.61,24.92 L84.69,24.91 L85.77,24.91 L86.85,24.91 L87.94,24.91 L89.02,24.91 L90.1,24.91 L91.18,24.91 L92.26,24.91 L93.34,24.91 L94.43,24.91 L95.51,24.91 L96.59,24.91 L97.67,24.91 L98.75,24.91 L99.84,24.91 L100.92,24.91"/><path d="M2.7,22.9 L3,22.9 L3.22,23.14 L3.45,24.28 L3.67,26.29 L3.89,28.8 L4.12,31.42 L4.34,33.89 L4.57,36.01 L4.79,37.72 L5.01,38.99 L5.24,39.85 L5.46,40.35 L5.68,40.54 L5.91,40.48 L6.13,40.23 L6.36,39.83 L6.58,39.32 L6.8,38.73 L7.03,38.1 L7.25,37.44 L7.47,36.78 L7.7,36.12 L7.92,35.47 L8.15,34.83 L8.37,34.23 L8.59,33.65 L8.82,33.1 L9.04,32.57 L9.26,32.08 L9.49,31.62 L9.71,31.19 L9.94,30.78 L10.16,30.4 L10.38,30.04 L10.61,29.71 L10.83,29.4 L11.05,29.11 L11.28,28.84 L11.5,28.58 L11.73,28.35 L11.95,28.13 L12.17,27.92 L12.4,27.73 L12.62,27.55 L12.84,27.38 L13.07,27.22 L13.29,27.07 L13.52,26.93 L13.74,26.8 L13.96,26.68 L14.19,26.56 L14.41,26.46 L14.63,26.35 L14.86,26.26 L15.08,26.17 L15.31,26.08 L15.53,26 L15.75,25.92 L15.98,25.85 L16.2,25.78 L16.53,25.69 L17.61,25.42 L18.69,25.21 L19.78,25.03 L20.86,24.89 L21.94,24.77 L23.02,24.67 L24.1,24.58 L25.19,24.5 L26.27,24.44 L27.35,24.38 L28.43,24.33 L29.51,24.28 L30.59,24.24 L31.68,24.21 L32.76,24.18 L33.84,24.15 L34.92,24.13 L36,24.11 L37.09,24.09 L38.17,24.07 L39.25,24.06 L40.33,24.04 L41.41,24.03 L42.5,24.02 L43.58,24.01 L44.66,24 L45.74,24 L46.82,23.99 L47.91,23.99 L48.99,23.98 L50.07,23.98 L51.15,23.97 L52.23,23.97 L53.31,23.97 L54.4,23.96 L55.48,23.96 L56.56,23.96 L57.64,23.96 L58.72,23.96 L59.81,23.95 L60.89,23.95 L61.97,23.95 L63.05,23.95 L64.13,23.95 L65.22,23.95 L66.3,23.95 L67.38,23.95 L68.46,23.95 L69.54,23.95 L70.62,23.95 L71.71,23.95 L72.79,23.95 L73.87,23.95 L74.95,23.95 L76.03,23.95 L77.12,23.95 L78.2,23.95 L79.28,23.94 L80.36,23.94 L81.44,23.94 L82.53,23.94 L83.61,23.94 L84.69,23.94 L85.77,23.94 L86.85,23.94 L87.94,23.94 L89.02,23.94 L90.1,23.94 L91.18,23.94 L92.26,23.94 L93.34,23.94 L94.43,23.94 L95.51,23.94 L96.59,23.94 L97.67,23.94 L98.75,23.94 L99.84,23.94 L100.92,23.94"/><path d="M2.7,22.9 L3,22.9 L3.22,23.31 L3.45,25.37 L3.67,29.26 L3.89,34.48 L4.12,40.39 L4.34,46.43 L4.57,52.21 L4.79,57.44 L5.01,62 L5.24,65.81 L5.46,68.89 L5.68,71.28 L5.91,73.05 L6.13,74.26 L6.36,75 L6.58,75.33 L6.8,75.32 L7.03,75.04 L7.25,74.53 L7.47,73.85 L7.7,73.03 L7.92,72.1 L8.15,71.09 L8.37,70.02 L8.59,68.91 L8.82,67.78 L9.04,66.64 L9.26,65.5 L9.49,64.36 L9.71,63.24 L9.94,62.13 L10.16,61.04 L10.38,59.98 L10.61,58.94 L10.83,57.93 L11.05,56.94 L11.28,55.99 L11.5,55.06 L11.73,54.16 L11.95,53.29 L12.17,52.45 L12.4,51.63 L12.62,50.84 L12.84,50.08 L13.07,49.34 L13.29,48.63 L13.52,47.95 L13.74,47.28 L13.96,46.64 L14.19,46.02 L14.41,45.43 L14.63,44.85 L14.86,44.29 L15.08,43.76 L15.31,43.24 L15.53,42.74 L15.75,42.25 L15.98,41.79 L16.2,41.34 L16.53,40.7 L17.61,38.83 L18.69,37.24 L19.78,35.9 L20.86,34.75 L21.94,33.77 L23.02,32.93 L24.1,32.21 L25.19,31.59 L26.27,31.06 L27.35,30.59 L28.43,30.18 L29.51,29.82 L30.59,29.5 L31.68,29.22 L32.76,28.97 L33.84,28.75 L34.92,28.55 L36,28.37 L37.09,28.21 L38.17,28.06 L39.25,27.93 L40.33,27.8 L41.41,27.69 L42.5,27.59 L43.58,27.49 L44.66,27.4 L45.74,27.32 L46.82,27.24 L47.91,27.17 L48.99,27.1 L50.07,27.04 L51.15,26.98 L52.23,26.92 L53.31,26.87 L54.4,26.82 L55.48,26.78 L56.56,26.73 L57.64,26.69 L58.72,26.65 L59.81,26.62 L60.89,26.58 L61.97,26.55 L63.05,26.52 L64.13,26.49 L65.22,26.46 L66.3,26.44 L67.38,26.41 L68.46,26.39 L69.54,26.37 L70.62,26.35 L71.71,26.33 L72.79,26.31 L73.87,26.29 L74.95,26.27 L76.03,26.26 L77.12,26.24 L78.2,26.23 L79.28,26.22 L80.36,26.2 L81.44,26.19 L82.53,26.18 L83.61,26.17 L84.69,26.16 L85.77,26.15 L86.85,26.14 L87.94,26.13 L89.02,26.12 L90.1,26.11 L91.18,26.11 L92.26,26.1 L93.34,26.09 L94.43,26.09 L95.51,26.08 L96.59,26.08 L97.67,26.07 L98.75,26.07 L99.84,26.06 L100.92,26.06"/></g>
<path d="M4.5,86.2 L6.14,86.2 L7.79,86.2 L9.43,86.2 L11.08,86.2 L12.72,86.2 L14.36,86.2 L16.01,86.2 L17.65,86.2 L19.3,86.2 L20.94,86.2 L22.58,86.2 L24.23,86.2 L25.87,86.2 L27.52,86.2 L29.16,86.2 L30.81,86.2 L32.45,86.2 L34.09,86.2 L35.74,86.2 L37.38,86.2 L39.03,86.2 L40.67,86.2 L42.31,86.2 L43.96,86.2 L45.6,86.2 L47.25,86.2 L48.89,86.2 L50.53,86.2 L52.18,86.2 L53.82,86.2 L55.47,86.2 L57.11,86.2 L58.75,86.2 L60.4,86.2 L62.04,86.2 L63.69,86.2 L65.33,86.2 L66.97,86.2 L68.62,86.2 L70.26,86.2 L71.91,86.2 L73.55,86.2 L75.19,86.2 L76.84,86.2 L78.48,86.2 L80.13,86.2 L81.77,86.2 L83.42,86.2 L85.06,86.2 L86.7,86.2 L88.35,86.2 L89.99,86.2 L91.64,86.2 L93.28,86.2 L94.92,86.2 L96.57,86.2 L98.21,86.2 L99.86,86.2 L101.5,86.2 L101.5,89.2 L99.86,89.2 L98.21,89.2 L96.57,89.2 L94.92,89.2 L93.28,89.2 L91.64,89.2 L89.99,89.2 L88.35,89.21 L86.7,89.21 L85.06,89.21 L83.42,89.21 L81.77,89.21 L80.13,89.21 L78.48,89.21 L76.84,89.21 L75.19,89.22 L73.55,89.22 L71.91,89.22 L70.26,89.22 L68.62,89.23 L66.97,89.23 L65.33,89.23 L63.69,89.24 L62.04,89.25 L60.4,89.25 L58.75,89.26 L57.11,89.27 L55.47,89.28 L53.82,89.29 L52.18,89.3 L50.53,89.32 L48.89,89.34 L47.25,89.36 L45.6,89.38 L43.96,89.41 L42.31,89.44 L40.67,89.47 L39.03,89.51 L37.38,89.56 L35.74,89.61 L34.09,89.67 L32.45,89.74 L30.81,89.82 L29.16,89.91 L27.52,90.01 L25.87,90.13 L24.23,90.2 L22.58,90.2 L20.94,90.2 L19.3,90.2 L17.65,90.2 L16.01,90.2 L14.36,90.2 L12.72,90.2 L11.08,90.2 L9.43,90.2 L7.79,90.2 L6.14,90.2 L4.5,90.2 Z" fill="#D6722F"/>
<path d="M2.4,86.3 L2.7,86.3 L2.92,86.85 L3.15,89.54 L3.37,94.39 L3.59,100.6 L3.82,107.38 L4.04,113.99 L4.27,119.96 L4.49,125.22 L4.71,129.57 L4.94,132.96 L5.16,135.44 L5.38,137.09 L5.61,138.03 L5.83,138.64 L6.06,138.78 L6.28,138.51 L6.5,137.91 L6.73,137.05 L6.95,135.98 L7.17,134.77 L7.4,133.44 L7.62,132.04 L7.85,130.6 L8.07,129.13 L8.29,127.65 L8.52,126.18 L8.74,124.82 L8.96,123.58 L9.19,122.36 L9.41,121.17 L9.64,120 L9.86,118.86 L10.08,117.76 L10.31,116.69 L10.53,115.65 L10.75,114.64 L10.98,113.67 L11.2,112.74 L11.43,111.83 L11.65,110.96 L11.87,110.13 L12.1,109.32 L12.32,108.55 L12.54,107.8 L12.77,107.09 L12.99,106.4 L13.22,105.73 L13.44,105.1 L13.66,104.49 L13.89,103.9 L14.11,103.34 L14.33,102.8 L14.56,102.28 L14.78,101.78 L15.01,101.3 L15.23,100.83 L15.45,100.39 L15.68,99.97 L15.9,99.56 L16.23,98.99 L17.31,97.38 L18.39,96.08 L19.48,94.98 L20.56,94.05 L21.64,93.27 L22.72,92.6 L23.8,92.03 L24.89,91.54 L25.97,91.13 L27.05,90.81 L28.13,90.54 L29.21,90.31 L30.29,90.12 L31.38,89.96 L32.46,89.82 L33.54,89.69 L34.62,89.59 L35.7,89.5 L36.79,89.41 L37.87,89.34 L38.95,89.28 L40,86.3 Z" fill="#EBA878" fill-opacity="0.22"/>
<g fill="none" stroke="#DC7F45" stroke-width="0.5" stroke-opacity="0.5"><path d="M2.4,86.3 L2.7,86.3 L2.92,86.3 L3.15,86.31 L3.37,86.32 L3.59,86.34 L3.82,86.36 L4.04,86.39 L4.27,86.41 L4.49,86.43 L4.71,86.45 L4.94,86.47 L5.16,86.49 L5.38,86.5 L5.61,86.52 L5.83,86.53 L6.06,86.54 L6.28,86.54 L6.5,86.55 L6.73,86.55 L6.95,86.56 L7.17,86.56 L7.4,86.56 L7.62,86.56 L7.85,86.56 L8.07,86.56 L8.29,86.56 L8.52,86.56 L8.74,86.56 L8.96,86.56 L9.19,86.56 L9.41,86.56 L9.64,86.56 L9.86,86.56 L10.08,86.55 L10.31,86.55 L10.53,86.55 L10.75,86.55 L10.98,86.55 L11.2,86.54 L11.43,86.54 L11.65,86.54 L11.87,86.54 L12.1,86.54 L12.32,86.53 L12.54,86.53 L12.77,86.53 L12.99,86.53 L13.22,86.53 L13.44,86.52 L13.66,86.52 L13.89,86.52 L14.11,86.52 L14.33,86.52 L14.56,86.51 L14.78,86.51 L15.01,86.51 L15.23,86.51 L15.45,86.51 L15.68,86.51 L15.9,86.5 L16.23,86.5 L17.31,86.49 L18.39,86.49 L19.48,86.48 L20.56,86.47 L21.64,86.46 L22.72,86.46 L23.8,86.45 L24.89,86.44 L25.97,86.44 L27.05,86.43 L28.13,86.43 L29.21,86.42 L30.29,86.42 L31.38,86.41 L32.46,86.41 L33.54,86.4 L34.62,86.4 L35.7,86.4 L36.79,86.39 L37.87,86.39 L38.95,86.39 L40.03,86.38 L41.11,86.38 L42.2,86.38 L43.28,86.37 L44.36,86.37 L45.44,86.37 L46.52,86.37 L47.61,86.37 L48.69,86.36 L49.77,86.36 L50.85,86.36 L51.93,86.36 L53.01,86.36 L54.1,86.35 L55.18,86.35 L56.26,86.35 L57.34,86.35 L58.42,86.35 L59.51,86.35 L60.59,86.34 L61.67,86.34 L62.75,86.34 L63.83,86.34 L64.92,86.34 L66,86.34 L67.08,86.34 L68.16,86.34 L69.24,86.34 L70.32,86.33 L71.41,86.33 L72.49,86.33 L73.57,86.33 L74.65,86.33 L75.73,86.33 L76.82,86.33 L77.9,86.33 L78.98,86.33 L80.06,86.33 L81.14,86.33 L82.23,86.33 L83.31,86.33 L84.39,86.33 L85.47,86.33 L86.55,86.33 L87.64,86.32 L88.72,86.32 L89.8,86.32 L90.88,86.32 L91.96,86.32 L93.04,86.32 L94.13,86.32 L95.21,86.32 L96.29,86.32 L97.37,86.32 L98.45,86.32 L99.54,86.32 L100.62,86.32"/><path d="M2.4,86.3 L2.7,86.3 L2.92,86.3 L3.15,86.32 L3.37,86.35 L3.59,86.4 L3.82,86.45 L4.04,86.51 L4.27,86.56 L4.49,86.62 L4.71,86.67 L4.94,86.71 L5.16,86.75 L5.38,86.79 L5.61,86.82 L5.83,86.84 L6.06,86.86 L6.28,86.88 L6.5,86.89 L6.73,86.9 L6.95,86.91 L7.17,86.91 L7.4,86.92 L7.62,86.92 L7.85,86.92 L8.07,86.92 L8.29,86.92 L8.52,86.91 L8.74,86.91 L8.96,86.91 L9.19,86.9 L9.41,86.9 L9.64,86.89 L9.86,86.89 L10.08,86.88 L10.31,86.88 L10.53,86.87 L10.75,86.87 L10.98,86.86 L11.2,86.85 L11.43,86.85 L11.65,86.84 L11.87,86.84 L12.1,86.83 L12.32,86.83 L12.54,86.82 L12.77,86.82 L12.99,86.81 L13.22,86.8 L13.44,86.8 L13.66,86.79 L13.89,86.79 L14.11,86.78 L14.33,86.78 L14.56,86.77 L14.78,86.77 L15.01,86.76 L15.23,86.76 L15.45,86.75 L15.68,86.75 L15.9,86.74 L16.23,86.74 L17.31,86.72 L18.39,86.69 L19.48,86.68 L20.56,86.66 L21.64,86.64 L22.72,86.62 L23.8,86.61 L24.89,86.59 L25.97,86.58 L27.05,86.57 L28.13,86.55 L29.21,86.54 L30.29,86.53 L31.38,86.52 L32.46,86.51 L33.54,86.5 L34.62,86.49 L35.7,86.48 L36.79,86.47 L37.87,86.47 L38.95,86.46 L40.03,86.45 L41.11,86.45 L42.2,86.44 L43.28,86.44 L44.36,86.43 L45.44,86.43 L46.52,86.42 L47.61,86.42 L48.69,86.41 L49.77,86.41 L50.85,86.4 L51.93,86.4 L53.01,86.4 L54.1,86.39 L55.18,86.39 L56.26,86.39 L57.34,86.38 L58.42,86.38 L59.51,86.38 L60.59,86.38 L61.67,86.37 L62.75,86.37 L63.83,86.37 L64.92,86.37 L66,86.37 L67.08,86.37 L68.16,86.36 L69.24,86.36 L70.32,86.36 L71.41,86.36 L72.49,86.36 L73.57,86.36 L74.65,86.36 L75.73,86.35 L76.82,86.35 L77.9,86.35 L78.98,86.35 L80.06,86.35 L81.14,86.35 L82.23,86.35 L83.31,86.35 L84.39,86.35 L85.47,86.35 L86.55,86.35 L87.64,86.35 L88.72,86.34 L89.8,86.34 L90.88,86.34 L91.96,86.34 L93.04,86.34 L94.13,86.34 L95.21,86.34 L96.29,86.34 L97.37,86.34 L98.45,86.34 L99.54,86.34 L100.62,86.34"/><path d="M2.4,86.3 L2.7,86.3 L2.92,86.31 L3.15,86.35 L3.37,86.43 L3.59,86.54 L3.82,86.67 L4.04,86.81 L4.27,86.94 L4.49,87.08 L4.71,87.2 L4.94,87.3 L5.16,87.4 L5.38,87.48 L5.61,87.55 L5.83,87.6 L6.06,87.65 L6.28,87.68 L6.5,87.71 L6.73,87.73 L6.95,87.74 L7.17,87.75 L7.4,87.76 L7.62,87.76 L7.85,87.75 L8.07,87.75 L8.29,87.74 L8.52,87.73 L8.74,87.72 L8.96,87.71 L9.19,87.7 L9.41,87.68 L9.64,87.67 L9.86,87.65 L10.08,87.64 L10.31,87.62 L10.53,87.61 L10.75,87.59 L10.98,87.57 L11.2,87.56 L11.43,87.54 L11.65,87.53 L11.87,87.51 L12.1,87.5 L12.32,87.48 L12.54,87.47 L12.77,87.45 L12.99,87.44 L13.22,87.42 L13.44,87.41 L13.66,87.39 L13.89,87.38 L14.11,87.36 L14.33,87.35 L14.56,87.34 L14.78,87.32 L15.01,87.31 L15.23,87.3 L15.45,87.28 L15.68,87.27 L15.9,87.26 L16.23,87.24 L17.31,87.18 L18.39,87.13 L19.48,87.08 L20.56,87.04 L21.64,86.99 L22.72,86.95 L23.8,86.92 L24.89,86.88 L25.97,86.85 L27.05,86.82 L28.13,86.79 L29.21,86.76 L30.29,86.74 L31.38,86.71 L32.46,86.69 L33.54,86.67 L34.62,86.65 L35.7,86.64 L36.79,86.62 L37.87,86.61 L38.95,86.59 L40.03,86.58 L41.11,86.56 L42.2,86.55 L43.28,86.54 L44.36,86.53 L45.44,86.52 L46.52,86.51 L47.61,86.51 L48.69,86.5 L49.77,86.49 L50.85,86.48 L51.93,86.48 L53.01,86.47 L54.1,86.47 L55.18,86.46 L56.26,86.45 L57.34,86.45 L58.42,86.45 L59.51,86.44 L60.59,86.44 L61.67,86.43 L62.75,86.43 L63.83,86.43 L64.92,86.42 L66,86.42 L67.08,86.42 L68.16,86.42 L69.24,86.41 L70.32,86.41 L71.41,86.41 L72.49,86.41 L73.57,86.41 L74.65,86.4 L75.73,86.4 L76.82,86.4 L77.9,86.4 L78.98,86.4 L80.06,86.4 L81.14,86.4 L82.23,86.4 L83.31,86.39 L84.39,86.39 L85.47,86.39 L86.55,86.39 L87.64,86.39 L88.72,86.39 L89.8,86.39 L90.88,86.39 L91.96,86.39 L93.04,86.39 L94.13,86.39 L95.21,86.38 L96.29,86.38 L97.37,86.38 L98.45,86.38 L99.54,86.38 L100.62,86.38"/><path d="M2.4,86.3 L2.7,86.3 L2.92,86.32 L3.15,86.42 L3.37,86.61 L3.59,86.88 L3.82,87.2 L4.04,87.53 L4.27,87.86 L4.49,88.17 L4.71,88.45 L4.94,88.7 L5.16,88.92 L5.38,89.11 L5.61,89.26 L5.83,89.38 L6.06,89.48 L6.28,89.55 L6.5,89.61 L6.73,89.64 L6.95,89.67 L7.17,89.68 L7.4,89.68 L7.62,89.67 L7.85,89.65 L8.07,89.63 L8.29,89.6 L8.52,89.57 L8.74,89.53 L8.96,89.5 L9.19,89.46 L9.41,89.42 L9.64,89.38 L9.86,89.33 L10.08,89.29 L10.31,89.25 L10.53,89.21 L10.75,89.16 L10.98,89.12 L11.2,89.08 L11.43,89.03 L11.65,88.99 L11.87,88.95 L12.1,88.91 L12.32,88.87 L12.54,88.83 L12.77,88.79 L12.99,88.75 L13.22,88.71 L13.44,88.68 L13.66,88.64 L13.89,88.6 L14.11,88.57 L14.33,88.53 L14.56,88.5 L14.78,88.46 L15.01,88.43 L15.23,88.4 L15.45,88.36 L15.68,88.33 L15.9,88.3 L16.23,88.26 L17.31,88.12 L18.39,87.99 L19.48,87.87 L20.56,87.76 L21.64,87.66 L22.72,87.57 L23.8,87.48 L24.89,87.4 L25.97,87.33 L27.05,87.27 L28.13,87.21 L29.21,87.15 L30.29,87.1 L31.38,87.05 L32.46,87.01 L33.54,86.97 L34.62,86.93 L35.7,86.9 L36.79,86.87 L37.87,86.84 L38.95,86.81 L40.03,86.79 L41.11,86.76 L42.2,86.74 L43.28,86.72 L44.36,86.71 L45.44,86.69 L46.52,86.68 L47.61,86.66 L48.69,86.65 L49.77,86.64 L50.85,86.62 L51.93,86.61 L53.01,86.61 L54.1,86.6 L55.18,86.59 L56.26,86.58 L57.34,86.57 L58.42,86.57 L59.51,86.56 L60.59,86.55 L61.67,86.55 L62.75,86.54 L63.83,86.54 L64.92,86.54 L66,86.53 L67.08,86.53 L68.16,86.52 L69.24,86.52 L70.32,86.52 L71.41,86.52 L72.49,86.51 L73.57,86.51 L74.65,86.51 L75.73,86.51 L76.82,86.5 L77.9,86.5 L78.98,86.5 L80.06,86.5 L81.14,86.5 L82.23,86.49 L83.31,86.49 L84.39,86.49 L85.47,86.49 L86.55,86.49 L87.64,86.49 L88.72,86.49 L89.8,86.49 L90.88,86.48 L91.96,86.48 L93.04,86.48 L94.13,86.48 L95.21,86.48 L96.29,86.48 L97.37,86.48 L98.45,86.48 L99.54,86.48 L100.62,86.48"/><path d="M2.4,86.3 L2.7,86.3 L2.92,86.35 L3.15,86.58 L3.37,87.04 L3.59,87.67 L3.82,88.4 L4.04,89.17 L4.27,89.93 L4.49,90.64 L4.71,91.28 L4.94,91.85 L5.16,92.33 L5.38,92.73 L5.61,93.05 L5.83,93.31 L6.06,93.51 L6.28,93.65 L6.5,93.75 L6.73,93.81 L6.95,93.83 L7.17,93.83 L7.4,93.8 L7.62,93.75 L7.85,93.69 L8.07,93.62 L8.29,93.53 L8.52,93.44 L8.74,93.34 L8.96,93.24 L9.19,93.13 L9.41,93.02 L9.64,92.91 L9.86,92.8 L10.08,92.68 L10.31,92.57 L10.53,92.46 L10.75,92.35 L10.98,92.24 L11.2,92.13 L11.43,92.02 L11.65,91.92 L11.87,91.81 L12.1,91.71 L12.32,91.61 L12.54,91.51 L12.77,91.42 L12.99,91.32 L13.22,91.23 L13.44,91.14 L13.66,91.05 L13.89,90.96 L14.11,90.87 L14.33,90.79 L14.56,90.7 L14.78,90.62 L15.01,90.54 L15.23,90.46 L15.45,90.39 L15.68,90.31 L15.9,90.24 L16.23,90.14 L17.31,89.81 L18.39,89.52 L19.48,89.26 L20.56,89.02 L21.64,88.8 L22.72,88.61 L23.8,88.43 L24.89,88.28 L25.97,88.13 L27.05,88 L28.13,87.88 L29.21,87.78 L30.29,87.68 L31.38,87.59 L32.46,87.52 L33.54,87.44 L34.62,87.38 L35.7,87.32 L36.79,87.27 L37.87,87.22 L38.95,87.17 L40.03,87.13 L41.11,87.1 L42.2,87.06 L43.28,87.03 L44.36,87 L45.44,86.98 L46.52,86.96 L47.61,86.93 L48.69,86.92 L49.77,86.9 L50.85,86.88 L51.93,86.87 L53.01,86.85 L54.1,86.84 L55.18,86.83 L56.26,86.82 L57.34,86.81 L58.42,86.8 L59.51,86.79 L60.59,86.78 L61.67,86.78 L62.75,86.77 L63.83,86.76 L64.92,86.76 L66,86.75 L67.08,86.75 L68.16,86.74 L69.24,86.74 L70.32,86.73 L71.41,86.73 L72.49,86.73 L73.57,86.72 L74.65,86.72 L75.73,86.72 L76.82,86.71 L77.9,86.71 L78.98,86.71 L80.06,86.7 L81.14,86.7 L82.23,86.7 L83.31,86.7 L84.39,86.7 L85.47,86.69 L86.55,86.69 L87.64,86.69 L88.72,86.69 L89.8,86.69 L90.88,86.69 L91.96,86.68 L93.04,86.68 L94.13,86.68 L95.21,86.68 L96.29,86.68 L97.37,86.68 L98.45,86.68 L99.54,86.68 L100.62,86.67"/><path d="M2.4,86.3 L2.7,86.3 L2.92,86.4 L3.15,86.93 L3.37,87.93 L3.59,89.3 L3.82,90.88 L4.04,92.53 L4.27,94.14 L4.49,95.64 L4.71,96.97 L4.94,98.13 L5.16,99.11 L5.38,99.9 L5.61,100.54 L5.83,101.02 L6.06,101.37 L6.28,101.61 L6.5,101.75 L6.73,101.81 L6.95,101.8 L7.17,101.73 L7.4,101.61 L7.62,101.46 L7.85,101.27 L8.07,101.06 L8.29,100.84 L8.52,100.6 L8.74,100.34 L8.96,100.09 L9.19,99.82 L9.41,99.55 L9.64,99.29 L9.86,99.02 L10.08,98.75 L10.31,98.49 L10.53,98.23 L10.75,97.97 L10.98,97.71 L11.2,97.47 L11.43,97.22 L11.65,96.98 L11.87,96.75 L12.1,96.52 L12.32,96.29 L12.54,96.07 L12.77,95.85 L12.99,95.64 L13.22,95.44 L13.44,95.24 L13.66,95.04 L13.89,94.85 L14.11,94.67 L14.33,94.48 L14.56,94.31 L14.78,94.13 L15.01,93.96 L15.23,93.8 L15.45,93.64 L15.68,93.48 L15.9,93.33 L16.23,93.11 L17.31,92.45 L18.39,91.86 L19.48,91.34 L20.56,90.88 L21.64,90.48 L22.72,90.11 L23.8,89.79 L24.89,89.51 L25.97,89.26 L27.05,89.03 L28.13,88.83 L29.21,88.66 L30.29,88.5 L31.38,88.36 L32.46,88.23 L33.54,88.12 L34.62,88.02 L35.7,87.93 L36.79,87.85 L37.87,87.78 L38.95,87.72 L40.03,87.66 L41.11,87.61 L42.2,87.56 L43.28,87.52 L44.36,87.48 L45.44,87.45 L46.52,87.42 L47.61,87.39 L48.69,87.36 L49.77,87.34 L50.85,87.32 L51.93,87.3 L53.01,87.28 L54.1,87.27 L55.18,87.25 L56.26,87.24 L57.34,87.23 L58.42,87.21 L59.51,87.2 L60.59,87.19 L61.67,87.18 L62.75,87.18 L63.83,87.17 L64.92,87.16 L66,87.15 L67.08,87.15 L68.16,87.14 L69.24,87.13 L70.32,87.13 L71.41,87.12 L72.49,87.12 L73.57,87.11 L74.65,87.11 L75.73,87.1 L76.82,87.1 L77.9,87.1 L78.98,87.09 L80.06,87.09 L81.14,87.09 L82.23,87.08 L83.31,87.08 L84.39,87.08 L85.47,87.07 L86.55,87.07 L87.64,87.07 L88.72,87.07 L89.8,87.06 L90.88,87.06 L91.96,87.06 L93.04,87.06 L94.13,87.06 L95.21,87.05 L96.29,87.05 L97.37,87.05 L98.45,87.05 L99.54,87.05 L100.62,87.04"/><path d="M2.4,86.3 L2.7,86.3 L2.92,86.5 L3.15,87.51 L3.37,89.42 L3.59,92.01 L3.82,94.98 L4.04,98.04 L4.27,101 L4.49,103.73 L4.71,106.13 L4.94,108.18 L5.16,109.88 L5.38,111.23 L5.61,112.27 L5.83,113.03 L6.06,113.55 L6.28,113.85 L6.5,113.98 L6.73,113.96 L6.95,113.81 L7.17,113.57 L7.4,113.25 L7.62,112.86 L7.85,112.42 L8.07,111.94 L8.29,111.44 L8.52,110.92 L8.74,110.38 L8.96,109.83 L9.19,109.28 L9.41,108.73 L9.64,108.19 L9.86,107.65 L10.08,107.11 L10.31,106.59 L10.53,106.07 L10.75,105.57 L10.98,105.07 L11.2,104.59 L11.43,104.12 L11.65,103.66 L11.87,103.21 L12.1,102.77 L12.32,102.35 L12.54,101.93 L12.77,101.53 L12.99,101.14 L13.22,100.76 L13.44,100.39 L13.66,100.03 L13.89,99.69 L14.11,99.35 L14.33,99.02 L14.56,98.7 L14.78,98.39 L15.01,98.09 L15.23,97.8 L15.45,97.52 L15.68,97.24 L15.9,96.98 L16.23,96.6 L17.31,95.46 L18.39,94.48 L19.48,93.63 L20.56,92.9 L21.64,92.26 L22.72,91.7 L23.8,91.22 L24.89,90.8 L25.97,90.44 L27.05,90.12 L28.13,89.84 L29.21,89.6 L30.29,89.39 L31.38,89.2 L32.46,89.04 L33.54,88.9 L34.62,88.77 L35.7,88.66 L36.79,88.56 L37.87,88.48 L38.95,88.4 L40.03,88.33 L41.11,88.27 L42.2,88.22 L43.28,88.17 L44.36,88.12 L45.44,88.08 L46.52,88.05 L47.61,88.02 L48.69,87.99 L49.77,87.96 L50.85,87.94 L51.93,87.91 L53.01,87.89 L54.1,87.87 L55.18,87.86 L56.26,87.84 L57.34,87.83 L58.42,87.81 L59.51,87.8 L60.59,87.79 L61.67,87.78 L62.75,87.76 L63.83,87.75 L64.92,87.75 L66,87.74 L67.08,87.73 L68.16,87.72 L69.24,87.71 L70.32,87.71 L71.41,87.7 L72.49,87.69 L73.57,87.69 L74.65,87.68 L75.73,87.68 L76.82,87.67 L77.9,87.66 L78.98,87.66 L80.06,87.66 L81.14,87.65 L82.23,87.65 L83.31,87.64 L84.39,87.64 L85.47,87.64 L86.55,87.63 L87.64,87.63 L88.72,87.63 L89.8,87.62 L90.88,87.62 L91.96,87.62 L93.04,87.61 L94.13,87.61 L95.21,87.61 L96.29,87.61 L97.37,87.61 L98.45,87.6 L99.54,87.6 L100.62,87.6"/><path d="M2.4,86.3 L2.7,86.3 L2.92,86.61 L3.15,88.21 L3.37,91.21 L3.59,95.25 L3.82,99.82 L4.04,104.5 L4.27,108.98 L4.49,113.04 L4.71,116.57 L4.94,119.53 L5.16,121.92 L5.38,123.77 L5.61,125.14 L5.83,126.08 L6.06,126.64 L6.28,126.89 L6.5,126.87 L6.73,126.64 L6.95,126.23 L7.17,125.68 L7.4,125.02 L7.62,124.28 L7.85,123.47 L8.07,122.62 L8.29,121.74 L8.52,120.83 L8.74,119.92 L8.96,119.01 L9.19,118.09 L9.41,117.19 L9.64,116.3 L9.86,115.43 L10.08,114.57 L10.31,113.74 L10.53,112.92 L10.75,112.13 L10.98,111.36 L11.2,110.61 L11.43,109.88 L11.65,109.17 L11.87,108.49 L12.1,107.83 L12.32,107.19 L12.54,106.57 L12.77,105.97 L12.99,105.39 L13.22,104.83 L13.44,104.29 L13.66,103.77 L13.89,103.27 L14.11,102.78 L14.33,102.31 L14.56,101.85 L14.78,101.41 L15.01,100.99 L15.23,100.58 L15.45,100.18 L15.68,99.8 L15.9,99.43 L16.23,98.91 L17.31,97.38 L18.39,96.08 L19.48,94.98 L20.56,94.05 L21.64,93.27 L22.72,92.6 L23.8,92.03 L24.89,91.54 L25.97,91.13 L27.05,90.78 L28.13,90.47 L29.21,90.21 L30.29,89.99 L31.38,89.8 L32.46,89.63 L33.54,89.49 L34.62,89.36 L35.7,89.25 L36.79,89.15 L37.87,89.07 L38.95,88.99 L40.03,88.93 L41.11,88.87 L42.2,88.81 L43.28,88.76 L44.36,88.72 L45.44,88.68 L46.52,88.65 L47.61,88.62 L48.69,88.59 L49.77,88.56 L50.85,88.53 L51.93,88.51 L53.01,88.49 L54.1,88.47 L55.18,88.45 L56.26,88.44 L57.34,88.42 L58.42,88.4 L59.51,88.39 L60.59,88.38 L61.67,88.37 L62.75,88.35 L63.83,88.34 L64.92,88.33 L66,88.32 L67.08,88.31 L68.16,88.31 L69.24,88.3 L70.32,88.29 L71.41,88.28 L72.49,88.27 L73.57,88.27 L74.65,88.26 L75.73,88.26 L76.82,88.25 L77.9,88.24 L78.98,88.24 L80.06,88.23 L81.14,88.23 L82.23,88.23 L83.31,88.22 L84.39,88.22 L85.47,88.21 L86.55,88.21 L87.64,88.21 L88.72,88.2 L89.8,88.2 L90.88,88.2 L91.96,88.2 L93.04,88.19 L94.13,88.19 L95.21,88.19 L96.29,88.19 L97.37,88.18 L98.45,88.18 L99.54,88.18 L100.62,88.18"/><path d="M2.4,86.3 L2.7,86.3 L2.92,86.72 L3.15,88.81 L3.37,92.71 L3.59,97.91 L3.82,103.75 L4.04,109.66 L4.27,115.24 L4.49,120.22 L4.71,124.49 L4.94,127.99 L5.16,130.74 L5.38,132.79 L5.61,134.22 L5.83,135.1 L6.06,135.52 L6.28,135.56 L6.5,135.27 L6.73,134.73 L6.95,133.98 L7.17,133.08 L7.4,132.05 L7.62,130.94 L7.85,129.76 L8.07,128.55 L8.29,127.31 L8.52,126.06 L8.74,124.82 L8.96,123.58 L9.19,122.36 L9.41,121.17 L9.64,120 L9.86,118.86 L10.08,117.76 L10.31,116.69 L10.53,115.65 L10.75,114.64 L10.98,113.67 L11.2,112.74 L11.43,111.83 L11.65,110.96 L11.87,110.13 L12.1,109.32 L12.32,108.55 L12.54,107.8 L12.77,107.09 L12.99,106.4 L13.22,105.73 L13.44,105.1 L13.66,104.49 L13.89,103.9 L14.11,103.34 L14.33,102.8 L14.56,102.28 L14.78,101.78 L15.01,101.3 L15.23,100.83 L15.45,100.39 L15.68,99.97 L15.9,99.56 L16.23,98.99 L17.31,97.33 L18.39,95.96 L19.48,94.83 L20.56,93.9 L21.64,93.12 L22.72,92.48 L23.8,91.94 L24.89,91.5 L25.97,91.12 L27.05,90.81 L28.13,90.54 L29.21,90.31 L30.29,90.12 L31.38,89.96 L32.46,89.82 L33.54,89.69 L34.62,89.59 L35.7,89.5 L36.79,89.41 L37.87,89.34 L38.95,89.28 L40.03,89.22 L41.11,89.17 L42.2,89.13 L43.28,89.09 L44.36,89.05 L45.44,89.01 L46.52,88.98 L47.61,88.95 L48.69,88.93 L49.77,88.9 L50.85,88.88 L51.93,88.86 L53.01,88.84 L54.1,88.82 L55.18,88.8 L56.26,88.79 L57.34,88.77 L58.42,88.76 L59.51,88.75 L60.59,88.73 L61.67,88.72 L62.75,88.71 L63.83,88.7 L64.92,88.69 L66,88.68 L67.08,88.68 L68.16,88.67 L69.24,88.66 L70.32,88.65 L71.41,88.65 L72.49,88.64 L73.57,88.63 L74.65,88.63 L75.73,88.62 L76.82,88.62 L77.9,88.61 L78.98,88.61 L80.06,88.61 L81.14,88.6 L82.23,88.6 L83.31,88.59 L84.39,88.59 L85.47,88.59 L86.55,88.58 L87.64,88.58 L88.72,88.58 L89.8,88.58 L90.88,88.57 L91.96,88.57 L93.04,88.57 L94.13,88.57 L95.21,88.57 L96.29,88.57 L97.37,88.56 L98.45,88.56 L99.54,88.56 L100.62,88.56"/><path d="M2.4,86.3 L2.7,86.3 L2.92,86.78 L3.15,89.19 L3.37,93.65 L3.59,99.52 L3.82,106.05 L4.04,112.58 L4.27,118.65 L4.49,124 L4.71,128.49 L4.94,132.08 L5.16,134.81 L5.38,136.75 L5.61,137.99 L5.83,138.64 L6.06,138.78 L6.28,138.51 L6.5,137.91 L6.73,137.05 L6.95,135.98 L7.17,134.77 L7.4,133.44 L7.62,132.04 L7.85,130.6 L8.07,129.13 L8.29,127.65 L8.52,126.18 L8.74,124.73 L8.96,123.3 L9.19,121.91 L9.41,120.56 L9.64,119.25 L9.86,117.98 L10.08,116.76 L10.31,115.58 L10.53,114.45 L10.75,113.36 L10.98,112.32 L11.2,111.32 L11.43,110.36 L11.65,109.45 L11.87,108.57 L12.1,107.73 L12.32,106.93 L12.54,106.16 L12.77,105.43 L12.99,104.73 L13.22,104.06 L13.44,103.43 L13.66,102.82 L13.89,102.23 L14.11,101.68 L14.33,101.15 L14.56,100.64 L14.78,100.15 L15.01,99.69 L15.23,99.25 L15.45,98.83 L15.68,98.43 L15.9,98.04 L16.23,97.5 L17.31,95.98 L18.39,94.75 L19.48,93.76 L20.56,92.96 L21.64,92.31 L22.72,91.78 L23.8,91.35 L24.89,90.99 L25.97,90.7 L27.05,90.45 L28.13,90.25 L29.21,90.07 L30.29,89.93 L31.38,89.8 L32.46,89.69 L33.54,89.6 L34.62,89.52 L35.7,89.45 L36.79,89.38 L37.87,89.33 L38.95,89.28 L40.03,89.23 L41.11,89.19 L42.2,89.15 L43.28,89.12 L44.36,89.09 L45.44,89.06 L46.52,89.03 L47.61,89.01 L48.69,88.99 L49.77,88.97 L50.85,88.95 L51.93,88.93 L53.01,88.91 L54.1,88.9 L55.18,88.89 L56.26,88.87 L57.34,88.86 L58.42,88.85 L59.51,88.84 L60.59,88.83 L61.67,88.82 L62.75,88.81 L63.83,88.8 L64.92,88.79 L66,88.79 L67.08,88.78 L68.16,88.77 L69.24,88.77 L70.32,88.76 L71.41,88.76 L72.49,88.75 L73.57,88.75 L74.65,88.74 L75.73,88.74 L76.82,88.74 L77.9,88.73 L78.98,88.73 L80.06,88.73 L81.14,88.72 L82.23,88.72 L83.31,88.72 L84.39,88.72 L85.47,88.72 L86.55,88.71 L87.64,88.71 L88.72,88.71 L89.8,88.71 L90.88,88.71 L91.96,88.71 L93.04,88.7 L94.13,88.7 L95.21,88.7 L96.29,88.7 L97.37,88.7 L98.45,88.7 L99.54,88.7 L100.62,88.7"/><path d="M2.4,86.3 L2.7,86.3 L2.92,86.82 L3.15,89.4 L3.37,94.13 L3.59,100.3 L3.82,107.08 L4.04,113.77 L4.27,119.91 L4.49,125.22 L4.71,129.57 L4.94,132.96 L5.16,135.44 L5.38,137.09 L5.61,138.03 L5.83,138.35 L6.06,138.18 L6.28,137.61 L6.5,136.72 L6.73,135.59 L6.95,134.27 L7.17,132.83 L7.4,131.3 L7.62,129.72 L7.85,128.11 L8.07,126.5 L8.29,124.91 L8.52,123.33 L8.74,121.8 L8.96,120.31 L9.19,118.86 L9.41,117.47 L9.64,116.13 L9.86,114.85 L10.08,113.62 L10.31,112.44 L10.53,111.32 L10.75,110.25 L10.98,109.23 L11.2,108.25 L11.43,107.33 L11.65,106.45 L11.87,105.61 L12.1,104.82 L12.32,104.07 L12.54,103.35 L12.77,102.67 L12.99,102.02 L13.22,101.41 L13.44,100.83 L13.66,100.27 L13.89,99.75 L14.11,99.25 L14.33,98.77 L14.56,98.32 L14.78,97.9 L15.01,97.49 L15.23,97.11 L15.45,96.74 L15.68,96.39 L15.9,96.06 L16.23,95.61 L17.31,94.32 L18.39,93.32 L19.48,92.53 L20.56,91.9 L21.64,91.4 L22.72,91 L23.8,90.67 L24.89,90.4 L25.97,90.19 L27.05,90.01 L28.13,89.86 L29.21,89.73 L30.29,89.62 L31.38,89.53 L32.46,89.44 L33.54,89.37 L34.62,89.31 L35.7,89.26 L36.79,89.21 L37.87,89.16 L38.95,89.12 L40.03,89.09 L41.11,89.05 L42.2,89.02 L43.28,89 L44.36,88.97 L45.44,88.95 L46.52,88.93 L47.61,88.91 L48.69,88.89 L49.77,88.87 L50.85,88.86 L51.93,88.84 L53.01,88.83 L54.1,88.82 L55.18,88.81 L56.26,88.8 L57.34,88.79 L58.42,88.78 L59.51,88.77 L60.59,88.76 L61.67,88.76 L62.75,88.75 L63.83,88.74 L64.92,88.74 L66,88.73 L67.08,88.73 L68.16,88.72 L69.24,88.72 L70.32,88.72 L71.41,88.71 L72.49,88.71 L73.57,88.71 L74.65,88.7 L75.73,88.7 L76.82,88.7 L77.9,88.7 L78.98,88.7 L80.06,88.69 L81.14,88.69 L82.23,88.69 L83.31,88.69 L84.39,88.69 L85.47,88.69 L86.55,88.68 L87.64,88.68 L88.72,88.68 L89.8,88.68 L90.88,88.68 L91.96,88.68 L93.04,88.68 L94.13,88.68 L95.21,88.68 L96.29,88.68 L97.37,88.68 L98.45,88.68 L99.54,88.68 L100.62,88.68"/><path d="M2.4,86.3 L2.7,86.3 L2.92,86.84 L3.15,89.51 L3.37,94.35 L3.59,100.6 L3.82,107.38 L4.04,113.99 L4.27,119.96 L4.49,125.02 L4.71,129.09 L4.94,132.15 L5.16,134.28 L5.38,135.58 L5.61,136.18 L5.83,136.18 L6.06,135.72 L6.28,134.88 L6.5,133.75 L6.73,132.41 L6.95,130.92 L7.17,129.33 L7.4,127.68 L7.62,126 L7.85,124.33 L8.07,122.66 L8.29,121.03 L8.52,119.45 L8.74,117.91 L8.96,116.43 L9.19,115.01 L9.41,113.65 L9.64,112.35 L9.86,111.12 L10.08,109.94 L10.31,108.83 L10.53,107.77 L10.75,106.77 L10.98,105.82 L11.2,104.93 L11.43,104.08 L11.65,103.28 L11.87,102.52 L12.1,101.81 L12.32,101.13 L12.54,100.5 L12.77,99.9 L12.99,99.33 L13.22,98.79 L13.44,98.29 L13.66,97.81 L13.89,97.36 L14.11,96.93 L14.33,96.53 L14.56,96.15 L14.78,95.79 L15.01,95.45 L15.23,95.13 L15.45,94.83 L15.68,94.55 L15.9,94.28 L16.23,93.9 L17.31,92.88 L18.39,92.09 L19.48,91.48 L20.56,91 L21.64,90.63 L22.72,90.33 L23.8,90.09 L24.89,89.89 L25.97,89.73 L27.05,89.59 L28.13,89.48 L29.21,89.39 L30.29,89.3 L31.38,89.23 L32.46,89.17 L33.54,89.11 L34.62,89.06 L35.7,89.02 L36.79,88.98 L37.87,88.95 L38.95,88.91 L40.03,88.88 L41.11,88.86 L42.2,88.83 L43.28,88.81 L44.36,88.79 L45.44,88.77 L46.52,88.76 L47.61,88.74 L48.69,88.73 L49.77,88.72 L50.85,88.7 L51.93,88.69 L53.01,88.68 L54.1,88.67 L55.18,88.67 L56.26,88.66 L57.34,88.65 L58.42,88.65 L59.51,88.64 L60.59,88.63 L61.67,88.63 L62.75,88.62 L63.83,88.62 L64.92,88.62 L66,88.61 L67.08,88.61 L68.16,88.61 L69.24,88.6 L70.32,88.6 L71.41,88.6 L72.49,88.6 L73.57,88.6 L74.65,88.59 L75.73,88.59 L76.82,88.59 L77.9,88.59 L78.98,88.59 L80.06,88.59 L81.14,88.59 L82.23,88.59 L83.31,88.58 L84.39,88.58 L85.47,88.58 L86.55,88.58 L87.64,88.58 L88.72,88.58 L89.8,88.58 L90.88,88.58 L91.96,88.58 L93.04,88.58 L94.13,88.58 L95.21,88.58 L96.29,88.58 L97.37,88.58 L98.45,88.58 L99.54,88.58 L100.62,88.58"/><path d="M2.4,86.3 L2.7,86.3 L2.92,86.85 L3.15,89.54 L3.37,94.39 L3.59,100.58 L3.82,107.21 L4.04,113.59 L4.27,119.27 L4.49,123.99 L4.71,127.68 L4.94,130.36 L5.16,132.13 L5.38,133.08 L5.61,133.36 L5.83,133.08 L6.06,132.37 L6.28,131.32 L6.5,130.02 L6.73,128.54 L6.95,126.95 L7.17,125.28 L7.4,123.58 L7.62,121.88 L7.85,120.19 L8.07,118.54 L8.29,116.94 L8.52,115.4 L8.74,113.92 L8.96,112.5 L9.19,111.15 L9.41,109.87 L9.64,108.66 L9.86,107.51 L10.08,106.43 L10.31,105.4 L10.53,104.44 L10.75,103.54 L10.98,102.68 L11.2,101.88 L11.43,101.13 L11.65,100.43 L11.87,99.76 L12.1,99.14 L12.32,98.55 L12.54,98.01 L12.77,97.49 L12.99,97.01 L13.22,96.55 L13.44,96.13 L13.66,95.73 L13.89,95.35 L14.11,95 L14.33,94.67 L14.56,94.35 L14.78,94.06 L15.01,93.79 L15.23,93.53 L15.45,93.28 L15.68,93.05 L15.9,92.84 L16.23,92.54 L17.31,91.74 L18.39,91.13 L19.48,90.66 L20.56,90.3 L21.64,90.02 L22.72,89.79 L23.8,89.61 L24.89,89.46 L25.97,89.34 L27.05,89.24 L28.13,89.15 L29.21,89.08 L30.29,89.01 L31.38,88.95 L32.46,88.9 L33.54,88.86 L34.62,88.82 L35.7,88.78 L36.79,88.75 L37.87,88.72 L38.95,88.7 L40.03,88.67 L41.11,88.65 L42.2,88.63 L43.28,88.62 L44.36,88.6 L45.44,88.59 L46.52,88.57 L47.61,88.56 L48.69,88.55 L49.77,88.54 L50.85,88.53 L51.93,88.53 L53.01,88.52 L54.1,88.51 L55.18,88.51 L56.26,88.5 L57.34,88.5 L58.42,88.49 L59.51,88.49 L60.59,88.48 L61.67,88.48 L62.75,88.48 L63.83,88.47 L64.92,88.47 L66,88.47 L67.08,88.47 L68.16,88.47 L69.24,88.46 L70.32,88.46 L71.41,88.46 L72.49,88.46 L73.57,88.46 L74.65,88.46 L75.73,88.46 L76.82,88.46 L77.9,88.45 L78.98,88.45 L80.06,88.45 L81.14,88.45 L82.23,88.45 L83.31,88.45 L84.39,88.45 L85.47,88.45 L86.55,88.45 L87.64,88.45 L88.72,88.45 L89.8,88.45 L90.88,88.45 L91.96,88.45 L93.04,88.45 L94.13,88.45 L95.21,88.45 L96.29,88.45 L97.37,88.45 L98.45,88.45 L99.54,88.45 L100.62,88.45"/><path d="M2.4,86.3 L2.7,86.3 L2.92,86.85 L3.15,89.53 L3.37,94.31 L3.59,100.36 L3.82,106.76 L4.04,112.84 L4.27,118.15 L4.49,122.49 L4.71,125.8 L4.94,128.1 L5.16,129.52 L5.38,130.16 L5.61,130.16 L5.83,129.65 L6.06,128.75 L6.28,127.55 L6.5,126.14 L6.73,124.58 L6.95,122.94 L7.17,121.25 L7.4,119.55 L7.62,117.87 L7.85,116.23 L8.07,114.64 L8.29,113.1 L8.52,111.64 L8.74,110.24 L8.96,108.92 L9.19,107.67 L9.41,106.48 L9.64,105.37 L9.86,104.33 L10.08,103.35 L10.31,102.43 L10.53,101.57 L10.75,100.77 L10.98,100.02 L11.2,99.32 L11.43,98.66 L11.65,98.05 L11.87,97.48 L12.1,96.94 L12.32,96.44 L12.54,95.98 L12.77,95.54 L12.99,95.14 L13.22,94.76 L13.44,94.4 L13.66,94.07 L13.89,93.76 L14.11,93.47 L14.33,93.2 L14.56,92.95 L14.78,92.71 L15.01,92.49 L15.23,92.28 L15.45,92.09 L15.68,91.9 L15.9,91.73 L16.23,91.5 L17.31,90.86 L18.39,90.39 L19.48,90.03 L20.56,89.76 L21.64,89.54 L22.72,89.37 L23.8,89.23 L24.89,89.11 L25.97,89.01 L27.05,88.93 L28.13,88.86 L29.21,88.8 L30.29,88.75 L31.38,88.7 L32.46,88.66 L33.54,88.62 L34.62,88.59 L35.7,88.56 L36.79,88.53 L37.87,88.51 L38.95,88.49 L40.03,88.47 L41.11,88.46 L42.2,88.44 L43.28,88.43 L44.36,88.41 L45.44,88.4 L46.52,88.39 L47.61,88.38 L48.69,88.38 L49.77,88.37 L50.85,88.36 L51.93,88.36 L53.01,88.35 L54.1,88.35 L55.18,88.34 L56.26,88.34 L57.34,88.34 L58.42,88.33 L59.51,88.33 L60.59,88.33 L61.67,88.33 L62.75,88.32 L63.83,88.32 L64.92,88.32 L66,88.32 L67.08,88.32 L68.16,88.32 L69.24,88.31 L70.32,88.31 L71.41,88.31 L72.49,88.31 L73.57,88.31 L74.65,88.31 L75.73,88.31 L76.82,88.31 L77.9,88.31 L78.98,88.31 L80.06,88.31 L81.14,88.31 L82.23,88.31 L83.31,88.31 L84.39,88.31 L85.47,88.31 L86.55,88.31 L87.64,88.31 L88.72,88.31 L89.8,88.31 L90.88,88.31 L91.96,88.31 L93.04,88.31 L94.13,88.31 L95.21,88.31 L96.29,88.31 L97.37,88.31 L98.45,88.31 L99.54,88.31 L100.62,88.31"/><path d="M2.4,86.3 L2.7,86.3 L2.92,86.85 L3.15,89.47 L3.37,94.12 L3.59,99.94 L3.82,106.03 L4.04,111.75 L4.27,116.67 L4.49,120.61 L4.71,123.52 L4.94,125.48 L5.16,126.57 L5.38,126.94 L5.61,126.73 L5.83,126.04 L6.06,125.01 L6.28,123.72 L6.5,122.25 L6.73,120.67 L6.95,119.03 L7.17,117.37 L7.4,115.73 L7.62,114.11 L7.85,112.55 L8.07,111.04 L8.29,109.61 L8.52,108.24 L8.74,106.95 L8.96,105.74 L9.19,104.6 L9.41,103.53 L9.64,102.53 L9.86,101.6 L10.08,100.72 L10.31,99.91 L10.53,99.16 L10.75,98.45 L10.98,97.8 L11.2,97.19 L11.43,96.63 L11.65,96.1 L11.87,95.62 L12.1,95.16 L12.32,94.74 L12.54,94.35 L12.77,93.99 L12.99,93.65 L13.22,93.33 L13.44,93.04 L13.66,92.77 L13.89,92.51 L14.11,92.28 L14.33,92.06 L14.56,91.85 L14.78,91.66 L15.01,91.48 L15.23,91.31 L15.45,91.16 L15.68,91.01 L15.9,90.87 L16.23,90.69 L17.31,90.19 L18.39,89.82 L19.48,89.54 L20.56,89.32 L21.64,89.15 L22.72,89.01 L23.8,88.9 L24.89,88.8 L25.97,88.73 L27.05,88.66 L28.13,88.6 L29.21,88.55 L30.29,88.51 L31.38,88.47 L32.46,88.43 L33.54,88.4 L34.62,88.38 L35.7,88.35 L36.79,88.33 L37.87,88.31 L38.95,88.3 L40.03,88.28 L41.11,88.27 L42.2,88.26 L43.28,88.25 L44.36,88.24 L45.44,88.23 L46.52,88.22 L47.61,88.21 L48.69,88.21 L49.77,88.2 L50.85,88.2 L51.93,88.19 L53.01,88.19 L54.1,88.19 L55.18,88.18 L56.26,88.18 L57.34,88.18 L58.42,88.18 L59.51,88.17 L60.59,88.17 L61.67,88.17 L62.75,88.17 L63.83,88.17 L64.92,88.17 L66,88.17 L67.08,88.16 L68.16,88.16 L69.24,88.16 L70.32,88.16 L71.41,88.16 L72.49,88.16 L73.57,88.16 L74.65,88.16 L75.73,88.16 L76.82,88.16 L77.9,88.16 L78.98,88.16 L80.06,88.16 L81.14,88.16 L82.23,88.16 L83.31,88.16 L84.39,88.16 L85.47,88.16 L86.55,88.16 L87.64,88.16 L88.72,88.16 L89.8,88.16 L90.88,88.16 L91.96,88.16 L93.04,88.16 L94.13,88.16 L95.21,88.16 L96.29,88.16 L97.37,88.16 L98.45,88.16 L99.54,88.16 L100.62,88.16"/><path d="M2.4,86.3 L2.7,86.3 L2.92,86.83 L3.15,89.38 L3.37,93.85 L3.59,99.39 L3.82,105.13 L4.04,110.45 L4.27,114.97 L4.49,118.52 L4.71,121.08 L4.94,122.71 L5.16,123.54 L5.38,123.69 L5.61,123.3 L5.83,122.5 L6.06,121.38 L6.28,120.05 L6.5,118.58 L6.73,117.02 L6.95,115.42 L7.17,113.83 L7.4,112.26 L7.62,110.73 L7.85,109.27 L8.07,107.87 L8.29,106.54 L8.52,105.29 L8.74,104.12 L8.96,103.02 L9.19,101.99 L9.41,101.03 L9.64,100.14 L9.86,99.31 L10.08,98.54 L10.31,97.83 L10.53,97.17 L10.75,96.56 L10.98,96 L11.2,95.47 L11.43,94.99 L11.65,94.54 L11.87,94.13 L12.1,93.74 L12.32,93.39 L12.54,93.06 L12.77,92.76 L12.99,92.47 L13.22,92.21 L13.44,91.97 L13.66,91.75 L13.89,91.54 L14.11,91.34 L14.33,91.16 L14.56,91 L14.78,90.84 L15.01,90.7 L15.23,90.56 L15.45,90.43 L15.68,90.32 L15.9,90.21 L16.23,90.06 L17.31,89.66 L18.39,89.36 L19.48,89.13 L20.56,88.96 L21.64,88.82 L22.72,88.71 L23.8,88.61 L24.89,88.54 L25.97,88.47 L27.05,88.41 L28.13,88.37 L29.21,88.32 L30.29,88.29 L31.38,88.25 L32.46,88.23 L33.54,88.2 L34.62,88.18 L35.7,88.16 L36.79,88.14 L37.87,88.13 L38.95,88.11 L40.03,88.1 L41.11,88.09 L42.2,88.08 L43.28,88.07 L44.36,88.07 L45.44,88.06 L46.52,88.05 L47.61,88.05 L48.69,88.04 L49.77,88.04 L50.85,88.04 L51.93,88.03 L53.01,88.03 L54.1,88.03 L55.18,88.03 L56.26,88.02 L57.34,88.02 L58.42,88.02 L59.51,88.02 L60.59,88.02 L61.67,88.02 L62.75,88.02 L63.83,88.02 L64.92,88.01 L66,88.01 L67.08,88.01 L68.16,88.01 L69.24,88.01 L70.32,88.01 L71.41,88.01 L72.49,88.01 L73.57,88.01 L74.65,88.01 L75.73,88.01 L76.82,88.01 L77.9,88.01 L78.98,88.01 L80.06,88.01 L81.14,88.01 L82.23,88.01 L83.31,88.01 L84.39,88.01 L85.47,88.01 L86.55,88.01 L87.64,88.01 L88.72,88.01 L89.8,88.01 L90.88,88.01 L91.96,88.01 L93.04,88.01 L94.13,88.01 L95.21,88.01 L96.29,88.01 L97.37,88.01 L98.45,88.01 L99.54,88.01 L100.62,88.01"/><path d="M2.4,86.3 L2.7,86.3 L2.92,86.81 L3.15,89.24 L3.37,93.47 L3.59,98.67 L3.82,104.01 L4.04,108.9 L4.27,113 L4.49,116.16 L4.71,118.38 L4.94,119.73 L5.16,120.33 L5.38,120.32 L5.61,119.82 L5.83,118.94 L6.06,117.8 L6.28,116.48 L6.5,115.04 L6.73,113.54 L6.95,112.03 L7.17,110.53 L7.4,109.06 L7.62,107.65 L7.85,106.3 L8.07,105.02 L8.29,103.81 L8.52,102.68 L8.74,101.63 L8.96,100.64 L9.19,99.73 L9.41,98.88 L9.64,98.09 L9.86,97.37 L10.08,96.7 L10.31,96.08 L10.53,95.51 L10.75,94.98 L10.98,94.5 L11.2,94.05 L11.43,93.64 L11.65,93.26 L11.87,92.91 L12.1,92.58 L12.32,92.29 L12.54,92.01 L12.77,91.76 L12.99,91.52 L13.22,91.31 L13.44,91.1 L13.66,90.92 L13.89,90.75 L14.11,90.59 L14.33,90.44 L14.56,90.3 L14.78,90.18 L15.01,90.06 L15.23,89.95 L15.45,89.84 L15.68,89.75 L15.9,89.66 L16.23,89.54 L17.31,89.21 L18.39,88.97 L19.48,88.79 L20.56,88.64 L21.64,88.53 L22.72,88.44 L23.8,88.36 L24.89,88.29 L25.97,88.24 L27.05,88.19 L28.13,88.15 L29.21,88.11 L30.29,88.08 L31.38,88.05 L32.46,88.03 L33.54,88.01 L34.62,87.99 L35.7,87.98 L36.79,87.96 L37.87,87.95 L38.95,87.94 L40.03,87.93 L41.11,87.92 L42.2,87.91 L43.28,87.91 L44.36,87.9 L45.44,87.9 L46.52,87.89 L47.61,87.89 L48.69,87.88 L49.77,87.88 L50.85,87.88 L51.93,87.88 L53.01,87.87 L54.1,87.87 L55.18,87.87 L56.26,87.87 L57.34,87.87 L58.42,87.87 L59.51,87.87 L60.59,87.87 L61.67,87.86 L62.75,87.86 L63.83,87.86 L64.92,87.86 L66,87.86 L67.08,87.86 L68.16,87.86 L69.24,87.86 L70.32,87.86 L71.41,87.86 L72.49,87.86 L73.57,87.86 L74.65,87.86 L75.73,87.86 L76.82,87.86 L77.9,87.86 L78.98,87.86 L80.06,87.86 L81.14,87.86 L82.23,87.86 L83.31,87.86 L84.39,87.86 L85.47,87.86 L86.55,87.86 L87.64,87.86 L88.72,87.86 L89.8,87.86 L90.88,87.86 L91.96,87.86 L93.04,87.86 L94.13,87.86 L95.21,87.86 L96.29,87.86 L97.37,87.86 L98.45,87.86 L99.54,87.86 L100.62,87.86"/><path d="M2.4,86.3 L2.7,86.3 L2.92,86.78 L3.15,89.06 L3.37,93 L3.59,97.81 L3.82,102.72 L4.04,107.16 L4.27,110.84 L4.49,113.63 L4.71,115.54 L4.94,116.64 L5.16,117.06 L5.38,116.93 L5.61,116.36 L5.83,115.46 L6.06,114.34 L6.28,113.06 L6.5,111.69 L6.73,110.29 L6.95,108.87 L7.17,107.49 L7.4,106.14 L7.62,104.86 L7.85,103.63 L8.07,102.48 L8.29,101.4 L8.52,100.39 L8.74,99.45 L8.96,98.58 L9.19,97.77 L9.41,97.03 L9.64,96.34 L9.86,95.71 L10.08,95.13 L10.31,94.6 L10.53,94.11 L10.75,93.66 L10.98,93.24 L11.2,92.86 L11.43,92.51 L11.65,92.19 L11.87,91.89 L12.1,91.62 L12.32,91.37 L12.54,91.14 L12.77,90.93 L12.99,90.74 L13.22,90.56 L13.44,90.39 L13.66,90.24 L13.89,90.09 L14.11,89.96 L14.33,89.84 L14.56,89.73 L14.78,89.62 L15.01,89.53 L15.23,89.43 L15.45,89.35 L15.68,89.27 L15.9,89.2 L16.23,89.1 L17.31,88.83 L18.39,88.64 L19.48,88.48 L20.56,88.36 L21.64,88.27 L22.72,88.19 L23.8,88.12 L24.89,88.07 L25.97,88.02 L27.05,87.98 L28.13,87.94 L29.21,87.91 L30.29,87.89 L31.38,87.87 L32.46,87.85 L33.54,87.83 L34.62,87.81 L35.7,87.8 L36.79,87.79 L37.87,87.78 L38.95,87.77 L40.03,87.76 L41.11,87.76 L42.2,87.75 L43.28,87.74 L44.36,87.74 L45.44,87.74 L46.52,87.73 L47.61,87.73 L48.69,87.73 L49.77,87.73 L50.85,87.72 L51.93,87.72 L53.01,87.72 L54.1,87.72 L55.18,87.72 L56.26,87.72 L57.34,87.72 L58.42,87.71 L59.51,87.71 L60.59,87.71 L61.67,87.71 L62.75,87.71 L63.83,87.71 L64.92,87.71 L66,87.71 L67.08,87.71 L68.16,87.71 L69.24,87.71 L70.32,87.71 L71.41,87.71 L72.49,87.71 L73.57,87.71 L74.65,87.71 L75.73,87.71 L76.82,87.71 L77.9,87.71 L78.98,87.71 L80.06,87.71 L81.14,87.71 L82.23,87.71 L83.31,87.71 L84.39,87.71 L85.47,87.71 L86.55,87.71 L87.64,87.71 L88.72,87.71 L89.8,87.71 L90.88,87.71 L91.96,87.71 L93.04,87.71 L94.13,87.71 L95.21,87.71 L96.29,87.71 L97.37,87.71 L98.45,87.71 L99.54,87.71 L100.62,87.71"/><path d="M2.4,86.3 L2.7,86.3 L2.92,86.75 L3.15,88.85 L3.37,92.47 L3.59,96.86 L3.82,101.3 L4.04,105.29 L4.27,108.55 L4.49,110.99 L4.71,112.61 L4.94,113.51 L5.16,113.79 L5.38,113.58 L5.61,112.98 L5.83,112.1 L6.06,111.02 L6.28,109.82 L6.5,108.55 L6.73,107.25 L6.95,105.96 L7.17,104.7 L7.4,103.49 L7.62,102.33 L7.85,101.24 L8.07,100.22 L8.29,99.26 L8.52,98.37 L8.74,97.54 L8.96,96.78 L9.19,96.08 L9.41,95.43 L9.64,94.84 L9.86,94.29 L10.08,93.79 L10.31,93.34 L10.53,92.92 L10.75,92.53 L10.98,92.18 L11.2,91.86 L11.43,91.56 L11.65,91.29 L11.87,91.04 L12.1,90.81 L12.32,90.6 L12.54,90.41 L12.77,90.23 L12.99,90.07 L13.22,89.92 L13.44,89.78 L13.66,89.66 L13.89,89.54 L14.11,89.43 L14.33,89.33 L14.56,89.24 L14.78,89.15 L15.01,89.07 L15.23,88.99 L15.45,88.92 L15.68,88.86 L15.9,88.8 L16.23,88.72 L17.31,88.5 L18.39,88.33 L19.48,88.21 L20.56,88.11 L21.64,88.02 L22.72,87.96 L23.8,87.9 L24.89,87.86 L25.97,87.82 L27.05,87.78 L28.13,87.75 L29.21,87.73 L30.29,87.7 L31.38,87.68 L32.46,87.67 L33.54,87.65 L34.62,87.64 L35.7,87.63 L36.79,87.62 L37.87,87.61 L38.95,87.61 L40.03,87.6 L41.11,87.6 L42.2,87.59 L43.28,87.59 L44.36,87.58 L45.44,87.58 L46.52,87.58 L47.61,87.57 L48.69,87.57 L49.77,87.57 L50.85,87.57 L51.93,87.57 L53.01,87.57 L54.1,87.57 L55.18,87.57 L56.26,87.56 L57.34,87.56 L58.42,87.56 L59.51,87.56 L60.59,87.56 L61.67,87.56 L62.75,87.56 L63.83,87.56 L64.92,87.56 L66,87.56 L67.08,87.56 L68.16,87.56 L69.24,87.56 L70.32,87.56 L71.41,87.56 L72.49,87.56 L73.57,87.56 L74.65,87.56 L75.73,87.56 L76.82,87.56 L77.9,87.56 L78.98,87.56 L80.06,87.56 L81.14,87.56 L82.23,87.56 L83.31,87.56 L84.39,87.56 L85.47,87.56 L86.55,87.56 L87.64,87.56 L88.72,87.56 L89.8,87.56 L90.88,87.56 L91.96,87.56 L93.04,87.56 L94.13,87.56 L95.21,87.56 L96.29,87.56 L97.37,87.56 L98.45,87.56 L99.54,87.56 L100.62,87.56"/><path d="M2.4,86.3 L2.7,86.3 L2.92,86.71 L3.15,88.61 L3.37,91.87 L3.59,95.81 L3.82,99.76 L4.04,103.29 L4.27,106.14 L4.49,108.25 L4.71,109.62 L4.94,110.35 L5.16,110.52 L5.38,110.26 L5.61,109.66 L5.83,108.83 L6.06,107.83 L6.28,106.73 L6.5,105.58 L6.73,104.41 L6.95,103.25 L7.17,102.13 L7.4,101.05 L7.62,100.03 L7.85,99.07 L8.07,98.17 L8.29,97.33 L8.52,96.56 L8.74,95.84 L8.96,95.18 L9.19,94.58 L9.41,94.02 L9.64,93.52 L9.86,93.05 L10.08,92.62 L10.31,92.23 L10.53,91.88 L10.75,91.55 L10.98,91.26 L11.2,90.98 L11.43,90.74 L11.65,90.51 L11.87,90.3 L12.1,90.11 L12.32,89.94 L12.54,89.78 L12.77,89.63 L12.99,89.49 L13.22,89.37 L13.44,89.25 L13.66,89.15 L13.89,89.05 L14.11,88.96 L14.33,88.88 L14.56,88.8 L14.78,88.73 L15.01,88.66 L15.23,88.6 L15.45,88.55 L15.68,88.49 L15.9,88.44 L16.23,88.37 L17.31,88.19 L18.39,88.06 L19.48,87.95 L20.56,87.87 L21.64,87.8 L22.72,87.74 L23.8,87.69 L24.89,87.65 L25.97,87.62 L27.05,87.59 L28.13,87.57 L29.21,87.54 L30.29,87.53 L31.38,87.51 L32.46,87.5 L33.54,87.49 L34.62,87.47 L35.7,87.47 L36.79,87.46 L37.87,87.45 L38.95,87.45 L40.03,87.44 L41.11,87.44 L42.2,87.43 L43.28,87.43 L44.36,87.43 L45.44,87.42 L46.52,87.42 L47.61,87.42 L48.69,87.42 L49.77,87.42 L50.85,87.42 L51.93,87.42 L53.01,87.42 L54.1,87.41 L55.18,87.41 L56.26,87.41 L57.34,87.41 L58.42,87.41 L59.51,87.41 L60.59,87.41 L61.67,87.41 L62.75,87.41 L63.83,87.41 L64.92,87.41 L66,87.41 L67.08,87.41 L68.16,87.41 L69.24,87.41 L70.32,87.41 L71.41,87.41 L72.49,87.41 L73.57,87.41 L74.65,87.41 L75.73,87.41 L76.82,87.41 L77.9,87.41 L78.98,87.41 L80.06,87.41 L81.14,87.41 L82.23,87.41 L83.31,87.41 L84.39,87.41 L85.47,87.41 L86.55,87.41 L87.64,87.41 L88.72,87.41 L89.8,87.41 L90.88,87.41 L91.96,87.41 L93.04,87.41 L94.13,87.41 L95.21,87.41 L96.29,87.41 L97.37,87.41 L98.45,87.41 L99.54,87.41 L100.62,87.41"/><path d="M2.4,86.3 L2.7,86.3 L2.92,86.66 L3.15,88.35 L3.37,91.22 L3.59,94.68 L3.82,98.13 L4.04,101.18 L4.27,103.64 L4.49,105.43 L4.71,106.58 L4.94,107.15 L5.16,107.25 L5.38,106.97 L5.61,106.41 L5.83,105.64 L6.06,104.74 L6.28,103.76 L6.5,102.74 L6.73,101.71 L6.95,100.7 L7.17,99.72 L7.4,98.78 L7.62,97.9 L7.85,97.07 L8.07,96.29 L8.29,95.58 L8.52,94.91 L8.74,94.3 L8.96,93.74 L9.19,93.23 L9.41,92.76 L9.64,92.33 L9.86,91.94 L10.08,91.58 L10.31,91.25 L10.53,90.96 L10.75,90.68 L10.98,90.44 L11.2,90.21 L11.43,90 L11.65,89.82 L11.87,89.64 L12.1,89.49 L12.32,89.34 L12.54,89.21 L12.77,89.09 L12.99,88.98 L13.22,88.87 L13.44,88.78 L13.66,88.69 L13.89,88.61 L14.11,88.54 L14.33,88.47 L14.56,88.41 L14.78,88.35 L15.01,88.3 L15.23,88.25 L15.45,88.2 L15.68,88.15 L15.9,88.11 L16.23,88.06 L17.31,87.91 L18.39,87.79 L19.48,87.71 L20.56,87.64 L21.64,87.58 L22.72,87.53 L23.8,87.49 L24.89,87.46 L25.97,87.43 L27.05,87.41 L28.13,87.39 L29.21,87.37 L30.29,87.35 L31.38,87.34 L32.46,87.33 L33.54,87.32 L34.62,87.31 L35.7,87.3 L36.79,87.3 L37.87,87.29 L38.95,87.29 L40.03,87.28 L41.11,87.28 L42.2,87.28 L43.28,87.28 L44.36,87.27 L45.44,87.27 L46.52,87.27 L47.61,87.27 L48.69,87.27 L49.77,87.27 L50.85,87.27 L51.93,87.26 L53.01,87.26 L54.1,87.26 L55.18,87.26 L56.26,87.26 L57.34,87.26 L58.42,87.26 L59.51,87.26 L60.59,87.26 L61.67,87.26 L62.75,87.26 L63.83,87.26 L64.92,87.26 L66,87.26 L67.08,87.26 L68.16,87.26 L69.24,87.26 L70.32,87.26 L71.41,87.26 L72.49,87.26 L73.57,87.26 L74.65,87.26 L75.73,87.26 L76.82,87.26 L77.9,87.26 L78.98,87.26 L80.06,87.26 L81.14,87.26 L82.23,87.26 L83.31,87.26 L84.39,87.26 L85.47,87.26 L86.55,87.26 L87.64,87.26 L88.72,87.26 L89.8,87.26 L90.88,87.26 L91.96,87.26 L93.04,87.26 L94.13,87.26 L95.21,87.26 L96.29,87.26 L97.37,87.26 L98.45,87.26 L99.54,87.26 L100.62,87.26"/><path d="M2.4,86.3 L2.7,86.3 L2.92,86.61 L3.15,88.06 L3.37,90.53 L3.59,93.48 L3.82,96.41 L4.04,98.99 L4.27,101.06 L4.49,102.54 L4.71,103.48 L4.94,103.93 L5.16,103.97 L5.38,103.7 L5.61,103.19 L5.83,102.52 L6.06,101.73 L6.28,100.89 L6.5,100.01 L6.73,99.13 L6.95,98.26 L7.17,97.43 L7.4,96.64 L7.62,95.89 L7.85,95.2 L8.07,94.55 L8.29,93.95 L8.52,93.39 L8.74,92.88 L8.96,92.42 L9.19,91.99 L9.41,91.6 L9.64,91.25 L9.86,90.92 L10.08,90.63 L10.31,90.36 L10.53,90.12 L10.75,89.89 L10.98,89.69 L11.2,89.51 L11.43,89.34 L11.65,89.18 L11.87,89.04 L12.1,88.92 L12.32,88.8 L12.54,88.69 L12.77,88.59 L12.99,88.5 L13.22,88.42 L13.44,88.34 L13.66,88.27 L13.89,88.21 L14.11,88.15 L14.33,88.09 L14.56,88.04 L14.78,88 L15.01,87.95 L15.23,87.91 L15.45,87.87 L15.68,87.84 L15.9,87.8 L16.23,87.76 L17.31,87.64 L18.39,87.55 L19.48,87.47 L20.56,87.42 L21.64,87.37 L22.72,87.33 L23.8,87.3 L24.89,87.27 L25.97,87.25 L27.05,87.23 L28.13,87.21 L29.21,87.2 L30.29,87.18 L31.38,87.17 L32.46,87.16 L33.54,87.16 L34.62,87.15 L35.7,87.14 L36.79,87.14 L37.87,87.14 L38.95,87.13 L40.03,87.13 L41.11,87.13 L42.2,87.12 L43.28,87.12 L44.36,87.12 L45.44,87.12 L46.52,87.12 L47.61,87.12 L48.69,87.12 L49.77,87.11 L50.85,87.11 L51.93,87.11 L53.01,87.11 L54.1,87.11 L55.18,87.11 L56.26,87.11 L57.34,87.11 L58.42,87.11 L59.51,87.11 L60.59,87.11 L61.67,87.11 L62.75,87.11 L63.83,87.11 L64.92,87.11 L66,87.11 L67.08,87.11 L68.16,87.11 L69.24,87.11 L70.32,87.11 L71.41,87.11 L72.49,87.11 L73.57,87.11 L74.65,87.11 L75.73,87.11 L76.82,87.11 L77.9,87.11 L78.98,87.11 L80.06,87.11 L81.14,87.11 L82.23,87.11 L83.31,87.11 L84.39,87.11 L85.47,87.11 L86.55,87.11 L87.64,87.11 L88.72,87.11 L89.8,87.11 L90.88,87.11 L91.96,87.11 L93.04,87.11 L94.13,87.11 L95.21,87.11 L96.29,87.11 L97.37,87.11 L98.45,87.11 L99.54,87.11 L100.62,87.11"/><path d="M2.4,86.3 L2.7,86.3 L2.92,86.56 L3.15,87.76 L3.37,89.79 L3.59,92.21 L3.82,94.61 L4.04,96.72 L4.27,98.39 L4.49,99.58 L4.71,100.32 L4.94,100.66 L5.16,100.67 L5.38,100.43 L5.61,100 L5.83,99.43 L6.06,98.77 L6.28,98.07 L6.5,97.34 L6.73,96.62 L6.95,95.91 L7.17,95.23 L7.4,94.59 L7.62,93.98 L7.85,93.41 L8.07,92.89 L8.29,92.4 L8.52,91.96 L8.74,91.55 L8.96,91.17 L9.19,90.83 L9.41,90.52 L9.64,90.24 L9.86,89.98 L10.08,89.74 L10.31,89.53 L10.53,89.33 L10.75,89.16 L10.98,89 L11.2,88.85 L11.43,88.72 L11.65,88.6 L11.87,88.48 L12.1,88.38 L12.32,88.29 L12.54,88.21 L12.77,88.13 L12.99,88.06 L13.22,87.99 L13.44,87.93 L13.66,87.88 L13.89,87.83 L14.11,87.78 L14.33,87.74 L14.56,87.7 L14.78,87.66 L15.01,87.63 L15.23,87.59 L15.45,87.56 L15.68,87.54 L15.9,87.51 L16.23,87.47 L17.31,87.38 L18.39,87.3 L19.48,87.25 L20.56,87.2 L21.64,87.16 L22.72,87.13 L23.8,87.11 L24.89,87.09 L25.97,87.07 L27.05,87.05 L28.13,87.04 L29.21,87.03 L30.29,87.02 L31.38,87.01 L32.46,87 L33.54,87 L34.62,86.99 L35.7,86.99 L36.79,86.98 L37.87,86.98 L38.95,86.98 L40.03,86.97 L41.11,86.97 L42.2,86.97 L43.28,86.97 L44.36,86.97 L45.44,86.97 L46.52,86.97 L47.61,86.96 L48.69,86.96 L49.77,86.96 L50.85,86.96 L51.93,86.96 L53.01,86.96 L54.1,86.96 L55.18,86.96 L56.26,86.96 L57.34,86.96 L58.42,86.96 L59.51,86.96 L60.59,86.96 L61.67,86.96 L62.75,86.96 L63.83,86.96 L64.92,86.96 L66,86.96 L67.08,86.96 L68.16,86.96 L69.24,86.96 L70.32,86.96 L71.41,86.96 L72.49,86.96 L73.57,86.96 L74.65,86.96 L75.73,86.96 L76.82,86.96 L77.9,86.96 L78.98,86.96 L80.06,86.96 L81.14,86.96 L82.23,86.96 L83.31,86.96 L84.39,86.96 L85.47,86.96 L86.55,86.96 L87.64,86.96 L88.72,86.96 L89.8,86.96 L90.88,86.96 L91.96,86.96 L93.04,86.96 L94.13,86.96 L95.21,86.96 L96.29,86.96 L97.37,86.96 L98.45,86.96 L99.54,86.96 L100.62,86.96"/></g>
<g fill="none" stroke="#DC7F45" stroke-width="0.9" stroke-opacity="0.9"><path d="M2.4,86.3 L2.7,86.3 L2.92,86.81 L3.15,89.24 L3.37,93.47 L3.59,98.67 L3.82,104.01 L4.04,108.9 L4.27,113 L4.49,116.16 L4.71,118.38 L4.94,119.73 L5.16,120.33 L5.38,120.32 L5.61,119.82 L5.83,118.94 L6.06,117.8 L6.28,116.48 L6.5,115.04 L6.73,113.54 L6.95,112.03 L7.17,110.53 L7.4,109.06 L7.62,107.65 L7.85,106.3 L8.07,105.02 L8.29,103.81 L8.52,102.68 L8.74,101.63 L8.96,100.64 L9.19,99.73 L9.41,98.88 L9.64,98.09 L9.86,97.37 L10.08,96.7 L10.31,96.08 L10.53,95.51 L10.75,94.98 L10.98,94.5 L11.2,94.05 L11.43,93.64 L11.65,93.26 L11.87,92.91 L12.1,92.58 L12.32,92.29 L12.54,92.01 L12.77,91.76 L12.99,91.52 L13.22,91.31 L13.44,91.1 L13.66,90.92 L13.89,90.75 L14.11,90.59 L14.33,90.44 L14.56,90.3 L14.78,90.18 L15.01,90.06 L15.23,89.95 L15.45,89.84 L15.68,89.75 L15.9,89.66 L16.23,89.54 L17.31,89.21 L18.39,88.97 L19.48,88.79 L20.56,88.64 L21.64,88.53 L22.72,88.44 L23.8,88.36 L24.89,88.29 L25.97,88.24 L27.05,88.19 L28.13,88.15 L29.21,88.11 L30.29,88.08 L31.38,88.05 L32.46,88.03 L33.54,88.01 L34.62,87.99 L35.7,87.98 L36.79,87.96 L37.87,87.95 L38.95,87.94 L40.03,87.93 L41.11,87.92 L42.2,87.91 L43.28,87.91 L44.36,87.9 L45.44,87.9 L46.52,87.89 L47.61,87.89 L48.69,87.88 L49.77,87.88 L50.85,87.88 L51.93,87.88 L53.01,87.87 L54.1,87.87 L55.18,87.87 L56.26,87.87 L57.34,87.87 L58.42,87.87 L59.51,87.87 L60.59,87.87 L61.67,87.86 L62.75,87.86 L63.83,87.86 L64.92,87.86 L66,87.86 L67.08,87.86 L68.16,87.86 L69.24,87.86 L70.32,87.86 L71.41,87.86 L72.49,87.86 L73.57,87.86 L74.65,87.86 L75.73,87.86 L76.82,87.86 L77.9,87.86 L78.98,87.86 L80.06,87.86 L81.14,87.86 L82.23,87.86 L83.31,87.86 L84.39,87.86 L85.47,87.86 L86.55,87.86 L87.64,87.86 L88.72,87.86 L89.8,87.86 L90.88,87.86 L91.96,87.86 L93.04,87.86 L94.13,87.86 L95.21,87.86 L96.29,87.86 L97.37,87.86 L98.45,87.86 L99.54,87.86 L100.62,87.86"/><path d="M2.4,86.3 L2.7,86.3 L2.92,86.61 L3.15,88.06 L3.37,90.53 L3.59,93.48 L3.82,96.41 L4.04,98.99 L4.27,101.06 L4.49,102.54 L4.71,103.48 L4.94,103.93 L5.16,103.97 L5.38,103.7 L5.61,103.19 L5.83,102.52 L6.06,101.73 L6.28,100.89 L6.5,100.01 L6.73,99.13 L6.95,98.26 L7.17,97.43 L7.4,96.64 L7.62,95.89 L7.85,95.2 L8.07,94.55 L8.29,93.95 L8.52,93.39 L8.74,92.88 L8.96,92.42 L9.19,91.99 L9.41,91.6 L9.64,91.25 L9.86,90.92 L10.08,90.63 L10.31,90.36 L10.53,90.12 L10.75,89.89 L10.98,89.69 L11.2,89.51 L11.43,89.34 L11.65,89.18 L11.87,89.04 L12.1,88.92 L12.32,88.8 L12.54,88.69 L12.77,88.59 L12.99,88.5 L13.22,88.42 L13.44,88.34 L13.66,88.27 L13.89,88.21 L14.11,88.15 L14.33,88.09 L14.56,88.04 L14.78,88 L15.01,87.95 L15.23,87.91 L15.45,87.87 L15.68,87.84 L15.9,87.8 L16.23,87.76 L17.31,87.64 L18.39,87.55 L19.48,87.47 L20.56,87.42 L21.64,87.37 L22.72,87.33 L23.8,87.3 L24.89,87.27 L25.97,87.25 L27.05,87.23 L28.13,87.21 L29.21,87.2 L30.29,87.18 L31.38,87.17 L32.46,87.16 L33.54,87.16 L34.62,87.15 L35.7,87.14 L36.79,87.14 L37.87,87.14 L38.95,87.13 L40.03,87.13 L41.11,87.13 L42.2,87.12 L43.28,87.12 L44.36,87.12 L45.44,87.12 L46.52,87.12 L47.61,87.12 L48.69,87.12 L49.77,87.11 L50.85,87.11 L51.93,87.11 L53.01,87.11 L54.1,87.11 L55.18,87.11 L56.26,87.11 L57.34,87.11 L58.42,87.11 L59.51,87.11 L60.59,87.11 L61.67,87.11 L62.75,87.11 L63.83,87.11 L64.92,87.11 L66,87.11 L67.08,87.11 L68.16,87.11 L69.24,87.11 L70.32,87.11 L71.41,87.11 L72.49,87.11 L73.57,87.11 L74.65,87.11 L75.73,87.11 L76.82,87.11 L77.9,87.11 L78.98,87.11 L80.06,87.11 L81.14,87.11 L82.23,87.11 L83.31,87.11 L84.39,87.11 L85.47,87.11 L86.55,87.11 L87.64,87.11 L88.72,87.11 L89.8,87.11 L90.88,87.11 L91.96,87.11 L93.04,87.11 L94.13,87.11 L95.21,87.11 L96.29,87.11 L97.37,87.11 L98.45,87.11 L99.54,87.11 L100.62,87.11"/><path d="M2.4,86.3 L2.7,86.3 L2.92,86.78 L3.15,89.19 L3.37,93.65 L3.59,99.52 L3.82,106.05 L4.04,112.58 L4.27,118.65 L4.49,124 L4.71,128.49 L4.94,132.08 L5.16,134.81 L5.38,136.75 L5.61,137.99 L5.83,138.64 L6.06,138.78 L6.28,138.51 L6.5,137.91 L6.73,137.05 L6.95,135.98 L7.17,134.77 L7.4,133.44 L7.62,132.04 L7.85,130.6 L8.07,129.13 L8.29,127.65 L8.52,126.18 L8.74,124.73 L8.96,123.3 L9.19,121.91 L9.41,120.56 L9.64,119.25 L9.86,117.98 L10.08,116.76 L10.31,115.58 L10.53,114.45 L10.75,113.36 L10.98,112.32 L11.2,111.32 L11.43,110.36 L11.65,109.45 L11.87,108.57 L12.1,107.73 L12.32,106.93 L12.54,106.16 L12.77,105.43 L12.99,104.73 L13.22,104.06 L13.44,103.43 L13.66,102.82 L13.89,102.23 L14.11,101.68 L14.33,101.15 L14.56,100.64 L14.78,100.15 L15.01,99.69 L15.23,99.25 L15.45,98.83 L15.68,98.43 L15.9,98.04 L16.23,97.5 L17.31,95.98 L18.39,94.75 L19.48,93.76 L20.56,92.96 L21.64,92.31 L22.72,91.78 L23.8,91.35 L24.89,90.99 L25.97,90.7 L27.05,90.45 L28.13,90.25 L29.21,90.07 L30.29,89.93 L31.38,89.8 L32.46,89.69 L33.54,89.6 L34.62,89.52 L35.7,89.45 L36.79,89.38 L37.87,89.33 L38.95,89.28 L40.03,89.23 L41.11,89.19 L42.2,89.15 L43.28,89.12 L44.36,89.09 L45.44,89.06 L46.52,89.03 L47.61,89.01 L48.69,88.99 L49.77,88.97 L50.85,88.95 L51.93,88.93 L53.01,88.91 L54.1,88.9 L55.18,88.89 L56.26,88.87 L57.34,88.86 L58.42,88.85 L59.51,88.84 L60.59,88.83 L61.67,88.82 L62.75,88.81 L63.83,88.8 L64.92,88.79 L66,88.79 L67.08,88.78 L68.16,88.77 L69.24,88.77 L70.32,88.76 L71.41,88.76 L72.49,88.75 L73.57,88.75 L74.65,88.74 L75.73,88.74 L76.82,88.74 L77.9,88.73 L78.98,88.73 L80.06,88.73 L81.14,88.72 L82.23,88.72 L83.31,88.72 L84.39,88.72 L85.47,88.72 L86.55,88.71 L87.64,88.71 L88.72,88.71 L89.8,88.71 L90.88,88.71 L91.96,88.71 L93.04,88.7 L94.13,88.7 L95.21,88.7 L96.29,88.7 L97.37,88.7 L98.45,88.7 L99.54,88.7 L100.62,88.7"/></g>
<path d="M16.8,65.3 H33.1 V48.3 M15.9,128.3 H32.6 V111.6" fill="none" stroke="#8a8a8a" stroke-width="0.9"/>
<text x="35.51" y="60.3" font-size="6.571" font-weight="normal" font-style="normal" fill="#333" textLength="26.61" lengthAdjust="spacingAndGlyphs">10 pA/pF</text>
<text x="17.33" y="72.65" font-size="7.500" font-weight="normal" font-style="normal" fill="#333" textLength="14.05" lengthAdjust="spacingAndGlyphs">5 ms</text>
<text x="35.13" y="123.5" font-size="6.857" font-weight="normal" font-style="normal" fill="#333" textLength="25.68" lengthAdjust="spacingAndGlyphs">10 pA/pF</text>
<text x="16.47" y="135.9" font-size="7.143" font-weight="normal" font-style="normal" fill="#333" textLength="14.10" lengthAdjust="spacingAndGlyphs">5 ms</text>
<path d="M50,160.9 H62.9 V134.3 H76.3 V160.5 H88.8" fill="none" stroke="#3a3a3a" stroke-width="1.0"/>
<line x1="62.9" y1="136.63" x2="76.3" y2="136.63" stroke="#4a4a4a" stroke-width="0.9" />
<line x1="62.9" y1="138.96" x2="76.3" y2="138.96" stroke="#4a4a4a" stroke-width="0.9" />
<line x1="62.9" y1="141.29" x2="76.3" y2="141.29" stroke="#4a4a4a" stroke-width="0.9" />
<line x1="62.9" y1="143.62" x2="76.3" y2="143.62" stroke="#4a4a4a" stroke-width="0.9" />
<line x1="62.9" y1="145.95" x2="76.3" y2="145.95" stroke="#4a4a4a" stroke-width="0.9" />
<line x1="62.9" y1="148.28" x2="76.3" y2="148.28" stroke="#4a4a4a" stroke-width="0.9" />
<line x1="62.9" y1="150.61" x2="76.3" y2="150.61" stroke="#4a4a4a" stroke-width="0.9" />
<line x1="62.9" y1="152.94" x2="76.3" y2="152.94" stroke="#4a4a4a" stroke-width="0.9" />
<line x1="62.9" y1="155.27" x2="76.3" y2="155.27" stroke="#4a4a4a" stroke-width="0.9" />
<text x="66.03" y="131.06" font-size="8.229" font-weight="normal" font-style="normal" fill="#222" textLength="22.93" lengthAdjust="spacingAndGlyphs">40mV</text>
<text x="36.08" y="157" font-size="8.714" font-weight="normal" font-style="normal" fill="#222" textLength="24.78" lengthAdjust="spacingAndGlyphs">-70mV</text>
<text x="80.49" y="148.85" font-size="8.929" font-weight="normal" font-style="normal" fill="#222" textLength="22.80" lengthAdjust="spacingAndGlyphs">Δ5mV</text>
<text x="71.07" y="168.85" font-size="8.214" font-weight="normal" font-style="normal" fill="#222" textLength="25.39" lengthAdjust="spacingAndGlyphs">-90mV</text>
<path d="M141.8,21.2 V127.8 H302" fill="none" stroke="#1a1a1a" stroke-width="1.4"/>
<line x1="138.6" y1="119.05" x2="141.6" y2="119.05" stroke="#1a1a1a" stroke-width="1.3" />
<text x="124.95" y="122.45" font-size="9.429" font-weight="bold" font-style="normal" fill="#000" textLength="12.71" lengthAdjust="spacingAndGlyphs">0.0</text>
<line x1="138.6" y1="74.9" x2="141.6" y2="74.9" stroke="#1a1a1a" stroke-width="1.3" />
<text x="124.95" y="78.3" font-size="9.429" font-weight="bold" font-style="normal" fill="#000" textLength="12.71" lengthAdjust="spacingAndGlyphs">0.5</text>
<line x1="138.6" y1="30.75" x2="141.6" y2="30.75" stroke="#1a1a1a" stroke-width="1.3" />
<text x="124.95" y="34.15" font-size="9.429" font-weight="bold" font-style="normal" fill="#000" textLength="12.71" lengthAdjust="spacingAndGlyphs">1.0</text>
<line x1="141.6" y1="127.8" x2="141.6" y2="130.8" stroke="#1a1a1a" stroke-width="1.3" />
<text x="132.88" y="140.8" font-size="9.286" font-weight="bold" font-style="normal" fill="#000" textLength="17.66" lengthAdjust="spacingAndGlyphs">-120</text>
<line x1="170.6" y1="127.8" x2="170.6" y2="130.8" stroke="#1a1a1a" stroke-width="1.3" />
<text x="161.88" y="140.8" font-size="9.286" font-weight="bold" font-style="normal" fill="#000" textLength="17.66" lengthAdjust="spacingAndGlyphs">-100</text>
<line x1="199.6" y1="127.8" x2="199.6" y2="130.8" stroke="#1a1a1a" stroke-width="1.3" />
<text x="193.3" y="140.8" font-size="9.286" font-weight="bold" font-style="normal" fill="#000" textLength="12.75" lengthAdjust="spacingAndGlyphs">-80</text>
<line x1="228.6" y1="127.8" x2="228.6" y2="130.8" stroke="#1a1a1a" stroke-width="1.3" />
<text x="222.3" y="140.8" font-size="9.286" font-weight="bold" font-style="normal" fill="#000" textLength="12.75" lengthAdjust="spacingAndGlyphs">-60</text>
<line x1="257.6" y1="127.8" x2="257.6" y2="130.8" stroke="#1a1a1a" stroke-width="1.3" />
<text x="251.3" y="140.8" font-size="9.286" font-weight="bold" font-style="normal" fill="#000" textLength="12.75" lengthAdjust="spacingAndGlyphs">-40</text>
<line x1="286.6" y1="127.8" x2="286.6" y2="130.8" stroke="#1a1a1a" stroke-width="1.3" />
<text x="280.3" y="140.8" font-size="9.286" font-weight="bold" font-style="normal" fill="#000" textLength="12.75" lengthAdjust="spacingAndGlyphs">-20</text>
<text x="154.6" y="153" font-size="10.857" font-weight="bold" font-style="normal" fill="#000" textLength="135.21" lengthAdjust="spacingAndGlyphs">Test/ Holding Potential (mV)</text>
<text transform="translate(120.3,107.88) rotate(-90)" x="0" y="0" font-size="11.571" font-weight="bold" font-style="normal" fill="#000" textLength="67.22" lengthAdjust="spacingAndGlyphs">Normalized G</text>
<text x="147.9" y="23.6" font-size="10.714" font-weight="normal" font-style="normal" fill="#222" textLength="56.74" lengthAdjust="spacingAndGlyphs">inactivation</text>
<text x="253.19" y="94" font-size="10.143" font-weight="normal" font-style="normal" fill="#222" textLength="47.66" lengthAdjust="spacingAndGlyphs">activation</text>
<path d="M141.6,32.66 L142.32,32.69 L143.05,32.72 L143.78,32.76 L144.5,32.79 L145.22,32.83 L145.95,32.88 L146.67,32.92 L147.4,32.97 L148.12,33.02 L148.85,33.08 L149.57,33.14 L150.3,33.2 L151.03,33.27 L151.75,33.34 L152.47,33.42 L153.2,33.51 L153.92,33.6 L154.65,33.69 L155.38,33.8 L156.1,33.91 L156.82,34.03 L157.55,34.15 L158.28,34.29 L159,34.43 L159.72,34.59 L160.45,34.75 L161.17,34.93 L161.9,35.12 L162.62,35.32 L163.35,35.54 L164.07,35.77 L164.8,36.01 L165.53,36.27 L166.25,36.55 L166.97,36.85 L167.7,37.17 L168.42,37.5 L169.15,37.86 L169.88,38.24 L170.6,38.65 L171.32,39.08 L172.05,39.54 L172.78,40.02 L173.5,40.53 L174.22,41.08 L174.95,41.65 L175.67,42.26 L176.4,42.9 L177.12,43.58 L177.85,44.29 L178.57,45.04 L179.3,45.82 L180.02,46.65 L180.75,47.52 L181.47,48.42 L182.2,49.37 L182.92,50.36 L183.65,51.39 L184.38,52.47 L185.1,53.58 L185.82,54.74 L186.55,55.93 L187.27,57.16 L188,58.44 L188.72,59.74 L189.45,61.09 L190.17,62.46 L190.9,63.87 L191.62,65.3 L192.35,66.75 L193.07,68.23 L193.8,69.73 L194.52,71.24 L195.25,72.76 L195.97,74.29 L196.7,75.83 L197.42,77.36 L198.15,78.89 L198.88,80.41 L199.6,81.92 L200.32,83.42 L201.05,84.9 L201.77,86.35 L202.5,87.78 L203.22,89.19 L203.95,90.56 L204.67,91.91 L205.4,93.21 L206.12,94.49 L206.85,95.72 L207.57,96.91 L208.3,98.07 L209.02,99.18 L209.75,100.26 L210.47,101.29 L211.2,102.28 L211.93,103.23 L212.65,104.13 L213.38,105 L214.1,105.83 L214.82,106.61 L215.55,107.36 L216.27,108.07 L217,108.75 L217.72,109.39 L218.45,110 L219.18,110.57 L219.9,111.12 L220.62,111.63 L221.35,112.11 L222.07,112.57 L222.8,113 L223.52,113.41 L224.25,113.79 L224.97,114.15 L225.7,114.48 L226.43,114.8 L227.15,115.1 L227.88,115.38 L228.6,115.64 L229.32,115.88 L230.05,116.11 L230.77,116.33 L231.5,116.53 L232.22,116.72 L232.95,116.9 L233.68,117.06 L234.4,117.22 L235.12,117.36 L235.85,117.5 L236.57,117.62 L237.3,117.74 L238.02,117.85 L238.75,117.96 L239.47,118.05 L240.2,118.14 L240.93,118.23 L241.65,118.31 L242.38,118.38 L243.1,118.45 L243.82,118.51 L244.55,118.57 L245.27,118.63 L246,118.68 L246.72,118.73 L247.45,118.77 L248.18,118.82 L248.9,118.86 L249.62,118.89 L250.35,118.93 L251.07,118.96 L251.8,118.99 L252.52,119.02 L253.25,119.04 L253.97,119.07 L254.7,119.09 L255.43,119.11 L256.15,119.13 L256.88,119.15 L257.6,119.17 L258.32,119.18 L259.05,119.2 L259.77,119.21 L260.5,119.22 L261.23,119.24 L261.95,119.25 L262.68,119.26 L263.4,119.27 L264.12,119.28 L264.85,119.28 L265.57,119.29 L266.3,119.3 L267.02,119.31 L267.75,119.31 L268.48,119.32 L269.2,119.32 L269.92,119.33 L270.65,119.33 L271.38,119.34 L272.1,119.34 L272.82,119.35 L273.55,119.35 L274.27,119.35 L275,119.36 L275.73,119.36 L276.45,119.36 L277.17,119.36 L277.9,119.37 L278.62,119.37 L279.35,119.37 L280.07,119.37 L280.8,119.38 L281.52,119.38 L282.25,119.38 L282.98,119.38 L283.7,119.38 L284.42,119.38 L285.15,119.38 L285.88,119.38 L286.6,119.39 L287.32,119.39 L288.05,119.39 L288.77,119.39 L289.5,119.39 L290.23,119.39 L290.95,119.39 L291.67,119.39 L292.4,119.39 L293.12,119.39 L293.85,119.39 L294.57,119.39 L295.3,119.39 L296.02,119.39 L296.75,119.39 L297.48,119.4 L298.2,119.4 L298.92,119.4 L299.65,119.4 L300.38,119.4 L301.1,119.4" fill="none" stroke="#E35C12" stroke-width="1.5"/>
<path d="M141.6,119.4 L142.32,119.4 L143.05,119.4 L143.78,119.4 L144.5,119.4 L145.22,119.4 L145.95,119.4 L146.67,119.4 L147.4,119.4 L148.12,119.4 L148.85,119.4 L149.57,119.4 L150.3,119.4 L151.03,119.4 L151.75,119.4 L152.47,119.4 L153.2,119.4 L153.92,119.4 L154.65,119.4 L155.38,119.4 L156.1,119.4 L156.82,119.4 L157.55,119.4 L158.28,119.4 L159,119.4 L159.72,119.4 L160.45,119.4 L161.17,119.4 L161.9,119.4 L162.62,119.4 L163.35,119.4 L164.07,119.4 L164.8,119.4 L165.53,119.4 L166.25,119.4 L166.97,119.4 L167.7,119.4 L168.42,119.4 L169.15,119.4 L169.88,119.4 L170.6,119.4 L171.32,119.4 L172.05,119.4 L172.78,119.4 L173.5,119.4 L174.22,119.4 L174.95,119.4 L175.67,119.4 L176.4,119.4 L177.12,119.4 L177.85,119.4 L178.57,119.4 L179.3,119.4 L180.02,119.4 L180.75,119.4 L181.47,119.4 L182.2,119.4 L182.92,119.4 L183.65,119.4 L184.38,119.4 L185.1,119.4 L185.82,119.4 L186.55,119.4 L187.27,119.4 L188,119.4 L188.72,119.4 L189.45,119.4 L190.17,119.4 L190.9,119.39 L191.62,119.39 L192.35,119.39 L193.07,119.39 L193.8,119.39 L194.52,119.39 L195.25,119.39 L195.97,119.39 L196.7,119.39 L197.42,119.38 L198.15,119.38 L198.88,119.38 L199.6,119.38 L200.32,119.38 L201.05,119.37 L201.77,119.37 L202.5,119.37 L203.22,119.36 L203.95,119.36 L204.67,119.35 L205.4,119.35 L206.12,119.34 L206.85,119.33 L207.57,119.32 L208.3,119.31 L209.02,119.3 L209.75,119.29 L210.47,119.28 L211.2,119.26 L211.93,119.24 L212.65,119.23 L213.38,119.2 L214.1,119.18 L214.82,119.15 L215.55,119.12 L216.27,119.09 L217,119.05 L217.72,119.01 L218.45,118.96 L219.18,118.9 L219.9,118.84 L220.62,118.77 L221.35,118.7 L222.07,118.61 L222.8,118.52 L223.52,118.41 L224.25,118.29 L224.97,118.15 L225.7,118 L226.43,117.83 L227.15,117.64 L227.88,117.43 L228.6,117.19 L229.32,116.93 L230.05,116.64 L230.77,116.31 L231.5,115.94 L232.22,115.53 L232.95,115.08 L233.68,114.58 L234.4,114.02 L235.12,113.4 L235.85,112.72 L236.57,111.96 L237.3,111.13 L238.02,110.22 L238.75,109.22 L239.47,108.13 L240.2,106.94 L240.93,105.64 L241.65,104.24 L242.38,102.73 L243.1,101.11 L243.82,99.37 L244.55,97.52 L245.27,95.56 L246,93.5 L246.72,91.33 L247.45,89.07 L248.18,86.74 L248.9,84.33 L249.62,81.87 L250.35,79.36 L251.07,76.84 L251.8,74.31 L252.52,71.78 L253.25,69.29 L253.97,66.84 L254.7,64.44 L255.43,62.12 L256.15,59.88 L256.88,57.73 L257.6,55.69 L258.32,53.75 L259.05,51.92 L259.77,50.21 L260.5,48.61 L261.23,47.12 L261.95,45.74 L262.68,44.47 L263.4,43.29 L264.12,42.22 L264.85,41.24 L265.57,40.34 L266.3,39.53 L267.02,38.79 L267.75,38.12 L268.48,37.52 L269.2,36.97 L269.92,36.48 L270.65,36.03 L271.38,35.63 L272.1,35.27 L272.82,34.95 L273.55,34.66 L274.27,34.41 L275,34.17 L275.73,33.97 L276.45,33.78 L277.17,33.62 L277.9,33.47 L278.62,33.34 L279.35,33.22 L280.07,33.11 L280.8,33.02 L281.52,32.94 L282.25,32.86 L282.98,32.79 L283.7,32.73 L284.42,32.68 L285.15,32.63 L285.88,32.59 L286.6,32.56 L287.32,32.52 L288.05,32.49 L288.77,32.47 L289.5,32.44 L290.23,32.42 L290.95,32.4 L291.67,32.39 L292.4,32.37 L293.12,32.36 L293.85,32.35 L294.57,32.34 L295.3,32.33 L296.02,32.32 L296.75,32.31 L297.48,32.3 L298.2,32.3 L298.92,32.29 L299.65,32.29 L300.38,32.28 L301.1,32.28" fill="none" stroke="#E35C12" stroke-width="1.5"/>
<path d="M141.6,29.7 L144.15,32.25 L141.6,34.8 L139.05,32.25 Z" fill="#fff" stroke="#E35C12" stroke-width="1.25"/><path d="M141.6,116.85 L144.15,119.4 L141.6,121.95 L139.05,119.4 Z" fill="#fff" stroke="#E35C12" stroke-width="1.25"/><path d="M148.85,30.57 L151.4,33.12 L148.85,35.67 L146.3,33.12 Z" fill="#fff" stroke="#E35C12" stroke-width="1.25"/><path d="M148.85,116.85 L151.4,119.4 L148.85,121.95 L146.3,119.4 Z" fill="#fff" stroke="#E35C12" stroke-width="1.25"/><path d="M156.1,31.88 L158.65,34.43 L156.1,36.98 L153.55,34.43 Z" fill="#fff" stroke="#E35C12" stroke-width="1.25"/><path d="M156.1,116.85 L158.65,119.4 L156.1,121.95 L153.55,119.4 Z" fill="#fff" stroke="#E35C12" stroke-width="1.25"/><path d="M163.35,31.88 L165.9,34.43 L163.35,36.98 L160.8,34.43 Z" fill="#fff" stroke="#E35C12" stroke-width="1.25"/><path d="M163.35,116.85 L165.9,119.4 L163.35,121.95 L160.8,119.4 Z" fill="#fff" stroke="#E35C12" stroke-width="1.25"/><path d="M170.6,34.93 L173.15,37.48 L170.6,40.03 L168.05,37.48 Z" fill="#fff" stroke="#E35C12" stroke-width="1.25"/><path d="M170.6,116.85 L173.15,119.4 L170.6,121.95 L168.05,119.4 Z" fill="#fff" stroke="#E35C12" stroke-width="1.25"/><path d="M177.85,41.9 L180.4,44.45 L177.85,47 L175.3,44.45 Z" fill="#fff" stroke="#E35C12" stroke-width="1.25"/><path d="M177.85,116.85 L180.4,119.4 L177.85,121.95 L175.3,119.4 Z" fill="#fff" stroke="#E35C12" stroke-width="1.25"/><path d="M185.1,52.36 L187.65,54.91 L185.1,57.46 L182.55,54.91 Z" fill="#fff" stroke="#E35C12" stroke-width="1.25"/><path d="M185.1,116.85 L187.65,119.4 L185.1,121.95 L182.55,119.4 Z" fill="#fff" stroke="#E35C12" stroke-width="1.25"/><path d="M192.35,63.69 L194.9,66.24 L192.35,68.79 L189.8,66.24 Z" fill="#fff" stroke="#E35C12" stroke-width="1.25"/><path d="M192.35,116.85 L194.9,119.4 L192.35,121.95 L189.8,119.4 Z" fill="#fff" stroke="#E35C12" stroke-width="1.25"/><path d="M199.6,79.64 L202.15,82.19 L199.6,84.74 L197.05,82.19 Z" fill="#fff" stroke="#E35C12" stroke-width="1.25"/><path d="M199.6,116.85 L202.15,119.4 L199.6,121.95 L197.05,119.4 Z" fill="#fff" stroke="#E35C12" stroke-width="1.25"/><path d="M206.85,92.62 L209.4,95.17 L206.85,97.72 L204.3,95.17 Z" fill="#fff" stroke="#E35C12" stroke-width="1.25"/><path d="M206.85,116.85 L209.4,119.4 L206.85,121.95 L204.3,119.4 Z" fill="#fff" stroke="#E35C12" stroke-width="1.25"/><path d="M214.1,102.47 L216.65,105.02 L214.1,107.57 L211.55,105.02 Z" fill="#fff" stroke="#E35C12" stroke-width="1.25"/><path d="M214.1,116.85 L216.65,119.4 L214.1,121.95 L211.55,119.4 Z" fill="#fff" stroke="#E35C12" stroke-width="1.25"/><path d="M221.35,109.36 L223.9,111.91 L221.35,114.46 L218.8,111.91 Z" fill="#fff" stroke="#E35C12" stroke-width="1.25"/><path d="M221.35,116.85 L223.9,119.4 L221.35,121.95 L218.8,119.4 Z" fill="#fff" stroke="#E35C12" stroke-width="1.25"/><path d="M228.6,113.71 L231.15,116.26 L228.6,118.81 L226.05,116.26 Z" fill="#fff" stroke="#E35C12" stroke-width="1.25"/><path d="M228.6,116.85 L231.15,119.4 L228.6,121.95 L226.05,119.4 Z" fill="#fff" stroke="#E35C12" stroke-width="1.25"/><path d="M235.85,116.85 L238.4,119.4 L235.85,121.95 L233.3,119.4 Z" fill="#fff" stroke="#E35C12" stroke-width="1.25"/><path d="M235.85,111.62 L238.4,114.17 L235.85,116.72 L233.3,114.17 Z" fill="#fff" stroke="#E35C12" stroke-width="1.25"/><path d="M243.1,116.85 L245.65,119.4 L243.1,121.95 L240.55,119.4 Z" fill="#fff" stroke="#E35C12" stroke-width="1.25"/><path d="M243.1,98.11 L245.65,100.66 L243.1,103.21 L240.55,100.66 Z" fill="#fff" stroke="#E35C12" stroke-width="1.25"/><path d="M250.35,116.85 L252.9,119.4 L250.35,121.95 L247.8,119.4 Z" fill="#fff" stroke="#E35C12" stroke-width="1.25"/><path d="M250.35,75.02 L252.9,77.57 L250.35,80.12 L247.8,77.57 Z" fill="#fff" stroke="#E35C12" stroke-width="1.25"/><path d="M257.6,116.85 L260.15,119.4 L257.6,121.95 L255.05,119.4 Z" fill="#fff" stroke="#E35C12" stroke-width="1.25"/><path d="M257.6,54.1 L260.15,56.65 L257.6,59.2 L255.05,56.65 Z" fill="#fff" stroke="#E35C12" stroke-width="1.25"/><path d="M264.85,116.85 L267.4,119.4 L264.85,121.95 L262.3,119.4 Z" fill="#fff" stroke="#E35C12" stroke-width="1.25"/><path d="M264.85,41.03 L267.4,43.58 L264.85,46.13 L262.3,43.58 Z" fill="#fff" stroke="#E35C12" stroke-width="1.25"/><path d="M272.1,116.85 L274.65,119.4 L272.1,121.95 L269.55,119.4 Z" fill="#fff" stroke="#E35C12" stroke-width="1.25"/><path d="M272.1,31.88 L274.65,34.43 L272.1,36.98 L269.55,34.43 Z" fill="#fff" stroke="#E35C12" stroke-width="1.25"/><path d="M279.35,116.85 L281.9,119.4 L279.35,121.95 L276.8,119.4 Z" fill="#fff" stroke="#E35C12" stroke-width="1.25"/><path d="M279.35,29.7 L281.9,32.25 L279.35,34.8 L276.8,32.25 Z" fill="#fff" stroke="#E35C12" stroke-width="1.25"/><path d="M286.6,116.85 L289.15,119.4 L286.6,121.95 L284.05,119.4 Z" fill="#fff" stroke="#E35C12" stroke-width="1.25"/><path d="M286.6,27.96 L289.15,30.51 L286.6,33.06 L284.05,30.51 Z" fill="#fff" stroke="#E35C12" stroke-width="1.25"/><path d="M293.85,116.85 L296.4,119.4 L293.85,121.95 L291.3,119.4 Z" fill="#fff" stroke="#E35C12" stroke-width="1.25"/><path d="M293.85,29.7 L296.4,32.25 L293.85,34.8 L291.3,32.25 Z" fill="#fff" stroke="#E35C12" stroke-width="1.25"/><path d="M301.1,116.85 L303.65,119.4 L301.1,121.95 L298.55,119.4 Z" fill="#fff" stroke="#E35C12" stroke-width="1.25"/><path d="M301.1,32.31 L303.65,34.86 L301.1,37.41 L298.55,34.86 Z" fill="#fff" stroke="#E35C12" stroke-width="1.25"/>
<circle cx="141.6" cy="32.25" r="2.1" fill="#d0d0d0" stroke="#999" stroke-width="1.1"/><circle cx="141.6" cy="119.4" r="2.1" fill="#d0d0d0" stroke="#999" stroke-width="1.1"/><circle cx="148.85" cy="32.25" r="2.1" fill="#d0d0d0" stroke="#999" stroke-width="1.1"/><circle cx="148.85" cy="119.4" r="2.1" fill="#d0d0d0" stroke="#999" stroke-width="1.1"/><circle cx="156.1" cy="32.25" r="2.1" fill="#d0d0d0" stroke="#999" stroke-width="1.1"/><circle cx="156.1" cy="119.4" r="2.1" fill="#d0d0d0" stroke="#999" stroke-width="1.1"/><circle cx="163.35" cy="33.12" r="2.1" fill="#d0d0d0" stroke="#999" stroke-width="1.1"/><circle cx="163.35" cy="119.4" r="2.1" fill="#d0d0d0" stroke="#999" stroke-width="1.1"/><path d="M169.3,29.79 H171.9 M170.6,29.79 V33.99" stroke="#999" stroke-width="0.8" fill="none"/><circle cx="170.6" cy="33.99" r="2.1" fill="#d0d0d0" stroke="#999" stroke-width="1.1"/><circle cx="170.6" cy="119.4" r="2.1" fill="#d0d0d0" stroke="#999" stroke-width="1.1"/><path d="M176.55,32.84 H179.15 M177.85,32.84 V37.04" stroke="#999" stroke-width="0.8" fill="none"/><circle cx="177.85" cy="37.04" r="2.1" fill="#d0d0d0" stroke="#999" stroke-width="1.1"/><circle cx="177.85" cy="119.4" r="2.1" fill="#d0d0d0" stroke="#999" stroke-width="1.1"/><path d="M183.8,37.64 H186.4 M185.1,37.64 V41.84" stroke="#999" stroke-width="0.8" fill="none"/><circle cx="185.1" cy="41.84" r="2.1" fill="#d0d0d0" stroke="#999" stroke-width="1.1"/><circle cx="185.1" cy="119.4" r="2.1" fill="#d0d0d0" stroke="#999" stroke-width="1.1"/><path d="M191.05,45.48 H193.65 M192.35,45.48 V49.68" stroke="#999" stroke-width="0.8" fill="none"/><circle cx="192.35" cy="49.68" r="2.1" fill="#d0d0d0" stroke="#999" stroke-width="1.1"/><circle cx="192.35" cy="119.4" r="2.1" fill="#d0d0d0" stroke="#999" stroke-width="1.1"/><path d="M198.3,55.59 H200.9 M199.6,55.59 V59.79" stroke="#999" stroke-width="0.8" fill="none"/><circle cx="199.6" cy="59.79" r="2.1" fill="#d0d0d0" stroke="#999" stroke-width="1.1"/><circle cx="199.6" cy="119.4" r="2.1" fill="#d0d0d0" stroke="#999" stroke-width="1.1"/><path d="M205.55,66.4 H208.15 M206.85,66.4 V70.6" stroke="#999" stroke-width="0.8" fill="none"/><circle cx="206.85" cy="70.6" r="2.1" fill="#d0d0d0" stroke="#999" stroke-width="1.1"/><circle cx="206.85" cy="119.4" r="2.1" fill="#d0d0d0" stroke="#999" stroke-width="1.1"/><path d="M212.8,79.47 H215.4 M214.1,79.47 V83.67" stroke="#999" stroke-width="0.8" fill="none"/><circle cx="214.1" cy="83.67" r="2.1" fill="#d0d0d0" stroke="#999" stroke-width="1.1"/><circle cx="214.1" cy="119.4" r="2.1" fill="#d0d0d0" stroke="#999" stroke-width="1.1"/><path d="M220.05,91.23 H222.65 M221.35,91.23 V95.43" stroke="#999" stroke-width="0.8" fill="none"/><circle cx="221.35" cy="95.43" r="2.1" fill="#d0d0d0" stroke="#999" stroke-width="1.1"/><circle cx="221.35" cy="119.4" r="2.1" fill="#d0d0d0" stroke="#999" stroke-width="1.1"/><path d="M227.3,102.3 H229.9 M228.6,102.3 V106.5" stroke="#999" stroke-width="0.8" fill="none"/><circle cx="228.6" cy="106.5" r="2.1" fill="#d0d0d0" stroke="#999" stroke-width="1.1"/><circle cx="228.6" cy="119.4" r="2.1" fill="#d0d0d0" stroke="#999" stroke-width="1.1"/><path d="M234.55,107.1 H237.15 M235.85,107.1 V111.3" stroke="#999" stroke-width="0.8" fill="none"/><circle cx="235.85" cy="111.3" r="2.1" fill="#d0d0d0" stroke="#999" stroke-width="1.1"/><path d="M234.55,109.1 H237.15 M235.85,109.1 V113.3" stroke="#999" stroke-width="0.8" fill="none"/><circle cx="235.85" cy="113.3" r="2.1" fill="#d0d0d0" stroke="#999" stroke-width="1.1"/><circle cx="243.1" cy="117.66" r="2.1" fill="#d0d0d0" stroke="#999" stroke-width="1.1"/><path d="M241.8,96.03 H244.4 M243.1,96.03 V100.23" stroke="#999" stroke-width="0.8" fill="none"/><circle cx="243.1" cy="100.23" r="2.1" fill="#d0d0d0" stroke="#999" stroke-width="1.1"/><circle cx="250.35" cy="118.96" r="2.1" fill="#d0d0d0" stroke="#999" stroke-width="1.1"/><path d="M249.05,71.62 H251.65 M250.35,71.62 V75.83" stroke="#999" stroke-width="0.8" fill="none"/><circle cx="250.35" cy="75.83" r="2.1" fill="#d0d0d0" stroke="#999" stroke-width="1.1"/><circle cx="257.6" cy="119.4" r="2.1" fill="#d0d0d0" stroke="#999" stroke-width="1.1"/><path d="M256.3,51.58 H258.9 M257.6,51.58 V55.78" stroke="#999" stroke-width="0.8" fill="none"/><circle cx="257.6" cy="55.78" r="2.1" fill="#d0d0d0" stroke="#999" stroke-width="1.1"/><circle cx="264.85" cy="119.4" r="2.1" fill="#d0d0d0" stroke="#999" stroke-width="1.1"/><path d="M263.55,38.51 H266.15 M264.85,38.51 V42.71" stroke="#999" stroke-width="0.8" fill="none"/><circle cx="264.85" cy="42.71" r="2.1" fill="#d0d0d0" stroke="#999" stroke-width="1.1"/><circle cx="272.1" cy="119.4" r="2.1" fill="#d0d0d0" stroke="#999" stroke-width="1.1"/><path d="M270.8,30.66 H273.4 M272.1,30.66 V34.86" stroke="#999" stroke-width="0.8" fill="none"/><circle cx="272.1" cy="34.86" r="2.1" fill="#d0d0d0" stroke="#999" stroke-width="1.1"/><circle cx="279.35" cy="119.4" r="2.1" fill="#d0d0d0" stroke="#999" stroke-width="1.1"/><circle cx="279.35" cy="33.12" r="2.1" fill="#d0d0d0" stroke="#999" stroke-width="1.1"/><circle cx="286.6" cy="119.4" r="2.1" fill="#d0d0d0" stroke="#999" stroke-width="1.1"/><circle cx="286.6" cy="33.12" r="2.1" fill="#d0d0d0" stroke="#999" stroke-width="1.1"/><circle cx="293.85" cy="119.4" r="2.1" fill="#d0d0d0" stroke="#999" stroke-width="1.1"/><path d="M292.55,30.66 H295.15 M293.85,30.66 V34.86" stroke="#999" stroke-width="0.8" fill="none"/><circle cx="293.85" cy="34.86" r="2.1" fill="#d0d0d0" stroke="#999" stroke-width="1.1"/><circle cx="301.1" cy="119.4" r="2.1" fill="#d0d0d0" stroke="#999" stroke-width="1.1"/><path d="M299.8,36.77 H302.4 M301.1,36.77 V40.97" stroke="#999" stroke-width="0.8" fill="none"/><circle cx="301.1" cy="40.97" r="2.1" fill="#d0d0d0" stroke="#999" stroke-width="1.1"/>
<path d="M141.6,32.49 L142.32,32.5 L143.05,32.52 L143.78,32.53 L144.5,32.55 L145.22,32.57 L145.95,32.59 L146.67,32.62 L147.4,32.64 L148.12,32.67 L148.85,32.69 L149.57,32.72 L150.3,32.75 L151.03,32.78 L151.75,32.82 L152.47,32.86 L153.2,32.89 L153.92,32.94 L154.65,32.98 L155.38,33.03 L156.1,33.08 L156.82,33.13 L157.55,33.19 L158.28,33.25 L159,33.31 L159.72,33.38 L160.45,33.46 L161.17,33.53 L161.9,33.62 L162.62,33.7 L163.35,33.8 L164.07,33.9 L164.8,34 L165.53,34.11 L166.25,34.23 L166.97,34.36 L167.7,34.49 L168.42,34.64 L169.15,34.79 L169.88,34.95 L170.6,35.12 L171.32,35.3 L172.05,35.49 L172.78,35.7 L173.5,35.91 L174.22,36.14 L174.95,36.38 L175.67,36.64 L176.4,36.91 L177.12,37.2 L177.85,37.5 L178.57,37.82 L179.3,38.16 L180.02,38.52 L180.75,38.9 L181.47,39.3 L182.2,39.72 L182.92,40.16 L183.65,40.63 L184.38,41.12 L185.1,41.64 L185.82,42.18 L186.55,42.75 L187.27,43.35 L188,43.98 L188.72,44.64 L189.45,45.33 L190.17,46.05 L190.9,46.8 L191.62,47.58 L192.35,48.4 L193.07,49.25 L193.8,50.13 L194.52,51.04 L195.25,51.99 L195.97,52.98 L196.7,53.99 L197.42,55.04 L198.15,56.12 L198.88,57.24 L199.6,58.38 L200.32,59.55 L201.05,60.75 L201.77,61.98 L202.5,63.23 L203.22,64.51 L203.95,65.8 L204.67,67.12 L205.4,68.45 L206.12,69.8 L206.85,71.15 L207.57,72.52 L208.3,73.9 L209.02,75.27 L209.75,76.65 L210.47,78.03 L211.2,79.4 L211.93,80.77 L212.65,82.12 L213.38,83.47 L214.1,84.8 L214.82,86.11 L215.55,87.4 L216.27,88.67 L217,89.92 L217.72,91.14 L218.45,92.33 L219.18,93.5 L219.9,94.64 L220.62,95.74 L221.35,96.82 L222.07,97.86 L222.8,98.87 L223.52,99.85 L224.25,100.79 L224.97,101.7 L225.7,102.58 L226.43,103.42 L227.15,104.23 L227.88,105.01 L228.6,105.75 L229.32,106.46 L230.05,107.14 L230.77,107.8 L231.5,108.42 L232.22,109.01 L232.95,109.58 L233.68,110.12 L234.4,110.63 L235.12,111.11 L235.85,111.58 L236.57,112.02 L237.3,112.43 L238.02,112.83 L238.75,113.2 L239.47,113.56 L240.2,113.89 L240.93,114.21 L241.65,114.51 L242.38,114.79 L243.1,115.06 L243.82,115.32 L244.55,115.56 L245.27,115.78 L246,116 L246.72,116.2 L247.45,116.39 L248.18,116.56 L248.9,116.73 L249.62,116.89 L250.35,117.04 L251.07,117.18 L251.8,117.32 L252.52,117.44 L253.25,117.56 L253.97,117.67 L254.7,117.77 L255.43,117.87 L256.15,117.96 L256.88,118.05 L257.6,118.13 L258.32,118.21 L259.05,118.28 L259.77,118.35 L260.5,118.41 L261.23,118.47 L261.95,118.53 L262.68,118.58 L263.4,118.63 L264.12,118.68 L264.85,118.72 L265.57,118.76 L266.3,118.8 L267.02,118.84 L267.75,118.87 L268.48,118.9 L269.2,118.93 L269.92,118.96 L270.65,118.99 L271.38,119.02 L272.1,119.04 L272.82,119.06 L273.55,119.08 L274.27,119.1 L275,119.12 L275.73,119.14 L276.45,119.15 L277.17,119.17 L277.9,119.18 L278.62,119.2 L279.35,119.21 L280.07,119.22 L280.8,119.23 L281.52,119.24 L282.25,119.25 L282.98,119.26 L283.7,119.27 L284.42,119.28 L285.15,119.28 L285.88,119.29 L286.6,119.3 L287.32,119.3 L288.05,119.31 L288.77,119.32 L289.5,119.32 L290.23,119.33 L290.95,119.33 L291.67,119.33 L292.4,119.34 L293.12,119.34 L293.85,119.35 L294.57,119.35 L295.3,119.35 L296.02,119.36 L296.75,119.36 L297.48,119.36 L298.2,119.36 L298.92,119.37 L299.65,119.37 L300.38,119.37 L301.1,119.37" fill="none" stroke="#000" stroke-width="1.5"/>
<path d="M141.6,119.4 L142.32,119.4 L143.05,119.4 L143.78,119.4 L144.5,119.4 L145.22,119.4 L145.95,119.4 L146.67,119.4 L147.4,119.4 L148.12,119.4 L148.85,119.4 L149.57,119.4 L150.3,119.4 L151.03,119.4 L151.75,119.4 L152.47,119.4 L153.2,119.4 L153.92,119.4 L154.65,119.4 L155.38,119.4 L156.1,119.4 L156.82,119.4 L157.55,119.4 L158.28,119.4 L159,119.4 L159.72,119.4 L160.45,119.4 L161.17,119.4 L161.9,119.4 L162.62,119.4 L163.35,119.4 L164.07,119.4 L164.8,119.4 L165.53,119.4 L166.25,119.4 L166.97,119.4 L167.7,119.4 L168.42,119.4 L169.15,119.4 L169.88,119.4 L170.6,119.4 L171.32,119.4 L172.05,119.4 L172.78,119.4 L173.5,119.4 L174.22,119.4 L174.95,119.4 L175.67,119.4 L176.4,119.4 L177.12,119.4 L177.85,119.4 L178.57,119.4 L179.3,119.4 L180.02,119.4 L180.75,119.4 L181.47,119.4 L182.2,119.4 L182.92,119.4 L183.65,119.4 L184.38,119.4 L185.1,119.4 L185.82,119.4 L186.55,119.4 L187.27,119.4 L188,119.4 L188.72,119.4 L189.45,119.39 L190.17,119.39 L190.9,119.39 L191.62,119.39 L192.35,119.39 L193.07,119.39 L193.8,119.39 L194.52,119.39 L195.25,119.39 L195.97,119.38 L196.7,119.38 L197.42,119.38 L198.15,119.38 L198.88,119.38 L199.6,119.37 L200.32,119.37 L201.05,119.36 L201.77,119.36 L202.5,119.36 L203.22,119.35 L203.95,119.34 L204.67,119.34 L205.4,119.33 L206.12,119.32 L206.85,119.31 L207.57,119.3 L208.3,119.28 L209.02,119.27 L209.75,119.25 L210.47,119.23 L211.2,119.21 L211.93,119.19 L212.65,119.16 L213.38,119.13 L214.1,119.1 L214.82,119.06 L215.55,119.02 L216.27,118.97 L217,118.92 L217.72,118.86 L218.45,118.79 L219.18,118.71 L219.9,118.63 L220.62,118.53 L221.35,118.42 L222.07,118.3 L222.8,118.16 L223.52,118.01 L224.25,117.83 L224.97,117.64 L225.7,117.42 L226.43,117.18 L227.15,116.9 L227.88,116.6 L228.6,116.26 L229.32,115.88 L230.05,115.45 L230.77,114.98 L231.5,114.45 L232.22,113.86 L232.95,113.21 L233.68,112.49 L234.4,111.7 L235.12,110.82 L235.85,109.85 L236.57,108.79 L237.3,107.63 L238.02,106.37 L238.75,104.99 L239.47,103.5 L240.2,101.9 L240.93,100.17 L241.65,98.33 L242.38,96.37 L243.1,94.29 L243.82,92.11 L244.55,89.83 L245.27,87.47 L246,85.02 L246.72,82.52 L247.45,79.96 L248.18,77.38 L248.9,74.79 L249.62,72.2 L250.35,69.64 L251.07,67.12 L251.8,64.67 L252.52,62.28 L253.25,59.98 L253.97,57.78 L254.7,55.69 L255.43,53.71 L256.15,51.84 L256.88,50.09 L257.6,48.46 L258.32,46.95 L259.05,45.55 L259.77,44.26 L260.5,43.08 L261.23,42 L261.95,41.02 L262.68,40.12 L263.4,39.31 L264.12,38.58 L264.85,37.91 L265.57,37.31 L266.3,36.77 L267.02,36.29 L267.75,35.86 L268.48,35.47 L269.2,35.12 L269.92,34.8 L270.65,34.53 L271.38,34.28 L272.1,34.05 L272.82,33.85 L273.55,33.68 L274.27,33.52 L275,33.38 L275.73,33.38 L276.45,33.4 L277.17,33.43 L277.9,33.47 L278.62,33.53 L279.35,33.59 L280.07,33.65 L280.8,33.73 L281.52,33.81 L282.25,33.9 L282.98,33.99 L283.7,34.09 L284.42,34.19 L285.15,34.29 L285.88,34.4 L286.6,34.51 L287.32,34.62 L288.05,34.73 L288.77,34.85 L289.5,34.97 L290.23,35.09 L290.95,35.21 L291.67,35.33 L292.4,35.45 L293.12,35.57 L293.85,35.7 L294.57,35.82 L295.3,35.95 L296.02,36.08 L296.75,36.2 L297.48,36.33 L298.2,36.46 L298.92,36.59 L299.65,36.71 L300.38,36.84 L301.1,36.97" fill="none" stroke="#000" stroke-width="1.5"/>
<circle cx="141.6" cy="32.25" r="1.95" fill="none" stroke="#000" stroke-width="1.2"/><circle cx="141.6" cy="119.4" r="1.95" fill="none" stroke="#000" stroke-width="1.2"/><circle cx="148.85" cy="32.25" r="1.95" fill="none" stroke="#000" stroke-width="1.2"/><circle cx="148.85" cy="119.4" r="1.95" fill="none" stroke="#000" stroke-width="1.2"/><circle cx="156.1" cy="32.25" r="1.95" fill="none" stroke="#000" stroke-width="1.2"/><circle cx="156.1" cy="119.4" r="1.95" fill="none" stroke="#000" stroke-width="1.2"/><circle cx="163.35" cy="33.12" r="1.95" fill="none" stroke="#000" stroke-width="1.2"/><circle cx="163.35" cy="119.4" r="1.95" fill="none" stroke="#000" stroke-width="1.2"/><circle cx="170.6" cy="33.99" r="1.95" fill="none" stroke="#000" stroke-width="1.2"/><circle cx="170.6" cy="119.4" r="1.95" fill="none" stroke="#000" stroke-width="1.2"/><circle cx="177.85" cy="37.04" r="1.95" fill="none" stroke="#000" stroke-width="1.2"/><circle cx="177.85" cy="119.4" r="1.95" fill="none" stroke="#000" stroke-width="1.2"/><circle cx="185.1" cy="41.84" r="1.95" fill="none" stroke="#000" stroke-width="1.2"/><circle cx="185.1" cy="119.4" r="1.95" fill="none" stroke="#000" stroke-width="1.2"/><circle cx="192.35" cy="49.68" r="1.95" fill="none" stroke="#000" stroke-width="1.2"/><circle cx="192.35" cy="119.4" r="1.95" fill="none" stroke="#000" stroke-width="1.2"/><circle cx="199.6" cy="59.79" r="1.95" fill="none" stroke="#000" stroke-width="1.2"/><circle cx="199.6" cy="119.4" r="1.95" fill="none" stroke="#000" stroke-width="1.2"/><circle cx="206.85" cy="70.6" r="1.95" fill="none" stroke="#000" stroke-width="1.2"/><circle cx="206.85" cy="119.4" r="1.95" fill="none" stroke="#000" stroke-width="1.2"/><circle cx="214.1" cy="83.67" r="1.95" fill="none" stroke="#000" stroke-width="1.2"/><circle cx="214.1" cy="119.4" r="1.95" fill="none" stroke="#000" stroke-width="1.2"/><circle cx="221.35" cy="95.43" r="1.95" fill="none" stroke="#000" stroke-width="1.2"/><circle cx="221.35" cy="119.4" r="1.95" fill="none" stroke="#000" stroke-width="1.2"/><circle cx="228.6" cy="106.5" r="1.95" fill="none" stroke="#000" stroke-width="1.2"/><circle cx="228.6" cy="117.66" r="1.95" fill="none" stroke="#000" stroke-width="1.2"/><circle cx="235.85" cy="111.3" r="1.95" fill="none" stroke="#000" stroke-width="1.2"/><circle cx="235.85" cy="110.69" r="1.95" fill="none" stroke="#000" stroke-width="1.2"/><circle cx="243.1" cy="117.66" r="1.95" fill="none" stroke="#000" stroke-width="1.2"/><circle cx="243.1" cy="94.13" r="1.95" fill="none" stroke="#000" stroke-width="1.2"/><circle cx="250.35" cy="118.96" r="1.95" fill="none" stroke="#000" stroke-width="1.2"/><circle cx="250.35" cy="68.85" r="1.95" fill="none" stroke="#000" stroke-width="1.2"/><circle cx="257.6" cy="119.4" r="1.95" fill="none" stroke="#000" stroke-width="1.2"/><circle cx="257.6" cy="49.68" r="1.95" fill="none" stroke="#000" stroke-width="1.2"/><circle cx="264.85" cy="119.4" r="1.95" fill="none" stroke="#000" stroke-width="1.2"/><circle cx="264.85" cy="38.35" r="1.95" fill="none" stroke="#000" stroke-width="1.2"/><circle cx="272.1" cy="119.4" r="1.95" fill="none" stroke="#000" stroke-width="1.2"/><circle cx="272.1" cy="33.12" r="1.95" fill="none" stroke="#000" stroke-width="1.2"/><circle cx="279.35" cy="119.4" r="1.95" fill="none" stroke="#000" stroke-width="1.2"/><circle cx="279.35" cy="32.25" r="1.95" fill="none" stroke="#000" stroke-width="1.2"/><circle cx="286.6" cy="119.4" r="1.95" fill="none" stroke="#000" stroke-width="1.2"/><circle cx="286.6" cy="32.25" r="1.95" fill="none" stroke="#000" stroke-width="1.2"/><circle cx="293.85" cy="119.4" r="1.95" fill="none" stroke="#000" stroke-width="1.2"/><circle cx="293.85" cy="33.99" r="1.95" fill="none" stroke="#000" stroke-width="1.2"/><circle cx="301.1" cy="119.4" r="1.95" fill="none" stroke="#000" stroke-width="1.2"/><circle cx="301.1" cy="36.61" r="1.95" fill="none" stroke="#000" stroke-width="1.2"/>
<path d="M347.6,20 V131.2 M347.6,126.4 H490" fill="none" stroke="#1a1a1a" stroke-width="1.4"/>
<path d="M490,129.4 L494.5,124.4 M496.3,129.4 L501.3,124.4 M501.3,126.4 H507 V130.8" fill="none" stroke="#1a1a1a" stroke-width="1.4"/>
<line x1="343.4" y1="126.7" x2="347.7" y2="126.7" stroke="#1a1a1a" stroke-width="1.3" />
<text x="329.7" y="130.05" font-size="9.571" font-weight="bold" font-style="normal" fill="#000" textLength="12.77" lengthAdjust="spacingAndGlyphs">0.0</text>
<line x1="343.4" y1="78.55" x2="347.7" y2="78.55" stroke="#1a1a1a" stroke-width="1.3" />
<text x="329.7" y="81.9" font-size="9.571" font-weight="bold" font-style="normal" fill="#000" textLength="12.77" lengthAdjust="spacingAndGlyphs">0.5</text>
<line x1="343.4" y1="30.4" x2="347.7" y2="30.4" stroke="#1a1a1a" stroke-width="1.3" />
<text x="329.7" y="33.75" font-size="9.571" font-weight="bold" font-style="normal" fill="#000" textLength="12.77" lengthAdjust="spacingAndGlyphs">1.0</text>
<text x="345.66" y="141.1" font-size="9.286" font-weight="bold" font-style="normal" fill="#000" textLength="4.91" lengthAdjust="spacingAndGlyphs">0</text>
<line x1="405" y1="126.4" x2="405" y2="130.8" stroke="#1a1a1a" stroke-width="1.3" />
<text x="397.7" y="141.1" font-size="9.286" font-weight="bold" font-style="normal" fill="#000" textLength="14.72" lengthAdjust="spacingAndGlyphs">100</text>
<line x1="462.5" y1="126.4" x2="462.5" y2="130.8" stroke="#1a1a1a" stroke-width="1.3" />
<text x="455.42" y="141.1" font-size="9.286" font-weight="bold" font-style="normal" fill="#000" textLength="14.72" lengthAdjust="spacingAndGlyphs">200</text>
<line x1="507" y1="126.4" x2="507" y2="130.8" stroke="#1a1a1a" stroke-width="1.3" />
<text x="499.92" y="141.1" font-size="9.286" font-weight="bold" font-style="normal" fill="#000" textLength="14.72" lengthAdjust="spacingAndGlyphs">500</text>
<text x="369.23" y="156.25" font-size="10.714" font-weight="bold" font-style="normal" fill="#000" textLength="114.98" lengthAdjust="spacingAndGlyphs">Recovery duration (ms)</text>
<text transform="translate(326,120.8) rotate(-90)" x="0" y="0" font-size="11.429" font-weight="bold" font-style="normal" fill="#000" textLength="95.77" lengthAdjust="spacingAndGlyphs">Fraction recovered</text>
<path d="M348,126.7 L348.12,123.82 L348.23,121.01 L348.35,118.29 L348.46,115.65 L348.58,113.09 L348.69,110.59 L348.81,108.14 L348.92,105.78 L349.04,103.54 L349.15,101.46 L349.27,99.5 L349.38,97.64 L349.5,95.88 L349.61,94.25 L349.73,92.78 L349.84,91.39 L349.96,90.02 L350.07,88.69 L350.19,87.39 L350.3,86.13 L350.42,84.91 L350.53,83.75 L350.65,82.64 L350.76,81.59 L350.88,80.61 L350.99,79.69 L351.11,78.85 L351.22,78.08 L351.34,77.39 L351.45,76.74 L351.57,76.09 L351.68,75.46 L351.8,74.84 L351.92,74.23 L352.03,73.63 L352.15,73.04 L352.26,72.47 L352.38,71.91 L352.49,71.36 L352.61,70.82 L352.72,70.29 L352.84,69.77 L352.95,69.27 L353.07,68.78 L353.18,68.29 L353.3,67.83 L353.41,67.37 L353.53,66.92 L353.64,66.49 L353.76,66.07 L353.87,65.66 L353.99,65.26 L354.1,64.87 L354.22,64.5 L354.33,64.14 L354.45,63.79 L354.56,63.45 L354.68,63.12 L354.79,62.8 L354.91,62.5 L355.02,62.21 L355.14,61.93 L355.25,61.66 L355.37,61.41 L355.48,61.16 L355.6,60.93 L355.72,60.71 L355.83,60.51 L355.95,60.31 L356.06,60.12 L356.18,59.94 L356.29,59.76 L356.41,59.59 L356.52,59.42 L356.64,59.25 L356.75,59.09 L356.87,58.93 L356.98,58.77 L357.1,58.62 L357.21,58.47 L357.33,58.32 L357.44,58.17 L357.56,58.03 L357.67,57.89 L357.79,57.76 L357.9,57.62 L358.02,57.49 L358.13,57.36 L358.25,57.24 L358.36,57.11 L358.48,56.99 L358.59,56.87 L358.71,56.75 L358.82,56.64 L358.94,56.53 L359.05,56.42 L359.17,56.31 L359.28,56.2 L359.4,56.1 L359.69,55.84 L360.78,54.95 L361.87,54.13 L362.97,53.33 L364.06,52.48 L365.16,51.53 L366.25,50.5 L367.35,49.5 L368.44,48.59 L369.54,47.75 L370.63,46.98 L371.72,46.25 L372.82,45.51 L373.91,44.82 L375.01,44.19 L376.1,43.66 L377.2,43.23 L378.29,42.84 L379.39,42.48 L380.48,42.14 L381.57,41.82 L382.67,41.53 L383.76,41.25 L384.86,40.98 L385.95,40.73 L387.05,40.49 L388.14,40.26 L389.24,40.04 L390.33,39.82 L391.43,39.61 L392.52,39.4 L393.61,39.19 L394.71,39 L395.8,38.8 L396.9,38.62 L397.99,38.44 L399.09,38.27 L400.18,38.1 L401.28,37.95 L402.37,37.81 L403.46,37.69 L404.56,37.57 L405.65,37.46 L406.75,37.37 L407.84,37.27 L408.94,37.18 L410.03,37.09 L411.13,37.01 L412.22,36.93 L413.32,36.85 L414.41,36.78 L415.5,36.7 L416.6,36.63 L417.69,36.57 L418.79,36.5 L419.88,36.44 L420.98,36.37 L422.07,36.31 L423.17,36.25 L424.26,36.19 L425.35,36.14 L426.45,36.08 L427.54,36.02 L428.64,35.96 L429.73,35.9 L430.83,35.84 L431.92,35.78 L433.02,35.72 L434.11,35.66 L435.21,35.6 L436.3,35.54 L437.39,35.47 L438.49,35.41 L439.58,35.35 L440.68,35.29 L441.77,35.23 L442.87,35.16 L443.96,35.1 L445.06,35.04 L446.15,34.98 L447.24,34.92 L448.34,34.87 L449.43,34.81 L450.53,34.75 L451.62,34.7 L452.72,34.65 L453.81,34.59 L454.91,34.54 L456,34.49 L457.1,34.44 L458.19,34.4 L459.28,34.35 L460.38,34.31 L461.47,34.27 L462.57,34.23 L463.66,34.19 L464.76,34.16 L465.85,34.12 L466.95,34.08 L468.04,34.05 L469.13,34.01 L470.23,33.98 L471.32,33.94 L472.42,33.91 L473.51,33.87 L474.61,33.84 L475.7,33.81 L476.8,33.78 L477.89,33.75 L478.99,33.72 L480.08,33.69 L481.17,33.67 L482.27,33.64 L483.36,33.62 L484.46,33.59 L485.55,33.57 L486.65,33.55 L487.74,33.53 L488.84,33.51 L489.93,33.49 M501.3,32.81 L507,31.84" fill="none" stroke="#000" stroke-width="1.4"/><circle cx="348" cy="126.7" r="1.85" fill="#fff" stroke="#000" stroke-width="1.2"/><circle cx="348.57" cy="113.22" r="1.85" fill="#fff" stroke="#000" stroke-width="1.2"/><circle cx="349.14" cy="101.66" r="1.85" fill="#fff" stroke="#000" stroke-width="1.2"/><circle cx="349.71" cy="93" r="1.85" fill="#fff" stroke="#000" stroke-width="1.2"/><circle cx="350.28" cy="86.38" r="1.85" fill="#fff" stroke="#000" stroke-width="1.2"/><circle cx="350.85" cy="80.85" r="1.85" fill="#fff" stroke="#000" stroke-width="1.2"/><circle cx="351.42" cy="76.93" r="1.85" fill="#fff" stroke="#000" stroke-width="1.2"/><circle cx="351.99" cy="73.84" r="1.85" fill="#fff" stroke="#000" stroke-width="1.2"/><circle cx="352.56" cy="71.03" r="1.85" fill="#fff" stroke="#000" stroke-width="1.2"/><circle cx="353.13" cy="68.51" r="1.85" fill="#fff" stroke="#000" stroke-width="1.2"/><circle cx="353.7" cy="66.28" r="1.85" fill="#fff" stroke="#000" stroke-width="1.2"/><circle cx="354.84" cy="62.68" r="1.85" fill="#fff" stroke="#000" stroke-width="1.2"/><circle cx="355.98" cy="60.25" r="1.85" fill="#fff" stroke="#000" stroke-width="1.2"/><circle cx="357.12" cy="58.59" r="1.85" fill="#fff" stroke="#000" stroke-width="1.2"/><circle cx="358.26" cy="57.22" r="1.85" fill="#fff" stroke="#000" stroke-width="1.2"/><circle cx="359.4" cy="56.1" r="1.85" fill="#fff" stroke="#000" stroke-width="1.2"/><circle cx="362.25" cy="53.86" r="1.85" fill="#fff" stroke="#000" stroke-width="1.2"/><circle cx="365.1" cy="51.59" r="1.85" fill="#fff" stroke="#000" stroke-width="1.2"/><circle cx="367.95" cy="48.99" r="1.85" fill="#fff" stroke="#000" stroke-width="1.2"/><circle cx="370.8" cy="46.87" r="1.85" fill="#fff" stroke="#000" stroke-width="1.2"/><circle cx="376.5" cy="43.5" r="1.85" fill="#fff" stroke="#000" stroke-width="1.2"/><circle cx="390.75" cy="39.74" r="1.85" fill="#fff" stroke="#000" stroke-width="1.2"/><circle cx="405" cy="37.53" r="1.85" fill="#fff" stroke="#000" stroke-width="1.2"/><circle cx="433.5" cy="35.7" r="1.85" fill="#fff" stroke="#000" stroke-width="1.2"/><circle cx="462" cy="34.25" r="1.85" fill="#fff" stroke="#000" stroke-width="1.2"/><circle cx="507" cy="31.36" r="1.95" fill="#fff" stroke="#000" stroke-width="1.2"/><path d="M348,126.7 L348.12,124.6 L348.23,122.57 L348.35,120.62 L348.46,118.76 L348.58,116.98 L348.69,115.3 L348.81,113.71 L348.92,112.17 L349.04,110.68 L349.15,109.22 L349.27,107.79 L349.38,106.4 L349.5,105.05 L349.61,103.72 L349.73,102.43 L349.84,101.13 L349.96,99.79 L350.07,98.44 L350.19,97.09 L350.3,95.74 L350.42,94.41 L350.53,93.12 L350.65,91.87 L350.76,90.68 L350.88,89.57 L350.99,88.53 L351.11,87.6 L351.22,86.77 L351.34,86.06 L351.45,85.39 L351.57,84.74 L351.68,84.1 L351.8,83.48 L351.92,82.88 L352.03,82.29 L352.15,81.71 L352.26,81.15 L352.38,80.6 L352.49,80.07 L352.61,79.54 L352.72,79.04 L352.84,78.54 L352.95,78.06 L353.07,77.59 L353.18,77.13 L353.3,76.68 L353.41,76.24 L353.53,75.82 L353.64,75.41 L353.76,75 L353.87,74.61 L353.99,74.23 L354.1,73.85 L354.22,73.49 L354.33,73.14 L354.45,72.79 L354.56,72.45 L354.68,72.13 L354.79,71.81 L354.91,71.49 L355.02,71.19 L355.14,70.89 L355.25,70.6 L355.37,70.32 L355.48,70.04 L355.6,69.77 L355.72,69.51 L355.83,69.25 L355.95,68.99 L356.06,68.75 L356.18,68.5 L356.29,68.26 L356.41,68.02 L356.52,67.79 L356.64,67.55 L356.75,67.32 L356.87,67.1 L356.98,66.88 L357.1,66.66 L357.21,66.44 L357.33,66.22 L357.44,66.01 L357.56,65.8 L357.67,65.6 L357.79,65.39 L357.9,65.19 L358.02,65 L358.13,64.8 L358.25,64.61 L358.36,64.42 L358.48,64.23 L358.59,64.04 L358.71,63.86 L358.82,63.68 L358.94,63.5 L359.05,63.32 L359.17,63.15 L359.28,62.98 L359.4,62.8 L359.69,62.39 L360.78,60.9 L361.87,59.55 L362.97,58.28 L364.06,57.06 L365.16,55.86 L366.25,54.69 L367.35,53.6 L368.44,52.59 L369.54,51.64 L370.63,50.75 L371.72,49.9 L372.82,49.06 L373.91,48.26 L375.01,47.57 L376.1,47.02 L377.2,46.63 L378.29,46.3 L379.39,46 L380.48,45.73 L381.57,45.49 L382.67,45.27 L383.76,45.07 L384.86,44.87 L385.95,44.69 L387.05,44.5 L388.14,44.3 L389.24,44.1 L390.33,43.88 L391.43,43.64 L392.52,43.39 L393.61,43.13 L394.71,42.87 L395.8,42.6 L396.9,42.34 L397.99,42.08 L399.09,41.82 L400.18,41.57 L401.28,41.33 L402.37,41.1 L403.46,40.88 L404.56,40.68 L405.65,40.5 L406.75,40.32 L407.84,40.14 L408.94,39.97 L410.03,39.8 L411.13,39.64 L412.22,39.48 L413.32,39.32 L414.41,39.17 L415.5,39.02 L416.6,38.87 L417.69,38.72 L418.79,38.58 L419.88,38.45 L420.98,38.31 L422.07,38.18 L423.17,38.05 L424.26,37.92 L425.35,37.8 L426.45,37.68 L427.54,37.56 L428.64,37.44 L429.73,37.33 L430.83,37.21 L431.92,37.1 L433.02,37 L434.11,36.89 L435.21,36.78 L436.3,36.68 L437.39,36.58 L438.49,36.47 L439.58,36.37 L440.68,36.27 L441.77,36.17 L442.87,36.08 L443.96,35.98 L445.06,35.89 L446.15,35.79 L447.24,35.7 L448.34,35.62 L449.43,35.53 L450.53,35.45 L451.62,35.37 L452.72,35.29 L453.81,35.21 L454.91,35.14 L456,35.07 L457.1,35 L458.19,34.93 L459.28,34.87 L460.38,34.81 L461.47,34.76 L462.57,34.71 L463.66,34.66 L464.76,34.61 L465.85,34.56 L466.95,34.51 L468.04,34.46 L469.13,34.41 L470.23,34.36 L471.32,34.32 L472.42,34.27 L473.51,34.23 L474.61,34.19 L475.7,34.15 L476.8,34.11 L477.89,34.07 L478.99,34.03 L480.08,34 L481.17,33.97 L482.27,33.93 L483.36,33.91 L484.46,33.88 L485.55,33.85 L486.65,33.83 L487.74,33.81 L488.84,33.79 L489.93,33.78 M501.3,33.1 L507,31.84" fill="none" stroke="#E35C12" stroke-width="1.4"/><path d="M348,124.35 L350.35,126.7 L348,129.05 L345.65,126.7 Z" fill="#fff" stroke="#E35C12" stroke-width="1.25"/><path d="M348.57,114.72 L350.92,117.07 L348.57,119.42 L346.22,117.07 Z" fill="#fff" stroke="#E35C12" stroke-width="1.25"/><path d="M349.14,107.02 L351.49,109.37 L349.14,111.72 L346.79,109.37 Z" fill="#fff" stroke="#E35C12" stroke-width="1.25"/><path d="M349.71,100.28 L352.06,102.62 L349.71,104.97 L347.36,102.62 Z" fill="#fff" stroke="#E35C12" stroke-width="1.25"/><path d="M350.28,93.66 L352.63,96.01 L350.28,98.36 L347.93,96.01 Z" fill="#fff" stroke="#E35C12" stroke-width="1.25"/><path d="M350.85,87.49 L353.2,89.84 L350.85,92.19 L348.5,89.84 Z" fill="#fff" stroke="#E35C12" stroke-width="1.25"/><path d="M351.42,83.24 L353.77,85.59 L351.42,87.94 L349.07,85.59 Z" fill="#fff" stroke="#E35C12" stroke-width="1.25"/><path d="M351.99,80.14 L354.34,82.49 L351.99,84.84 L349.64,82.49 Z" fill="#fff" stroke="#E35C12" stroke-width="1.25"/><path d="M352.56,77.4 L354.91,79.75 L352.56,82.1 L350.21,79.75 Z" fill="#fff" stroke="#E35C12" stroke-width="1.25"/><path d="M353.13,74.98 L355.48,77.33 L353.13,79.68 L350.78,77.33 Z" fill="#fff" stroke="#E35C12" stroke-width="1.25"/><path d="M353.7,72.85 L356.05,75.2 L353.7,77.55 L351.35,75.2 Z" fill="#fff" stroke="#E35C12" stroke-width="1.25"/><path d="M354.84,69.33 L357.19,71.68 L354.84,74.03 L352.49,71.68 Z" fill="#fff" stroke="#E35C12" stroke-width="1.25"/><path d="M355.98,66.57 L358.33,68.92 L355.98,71.27 L353.63,68.92 Z" fill="#fff" stroke="#E35C12" stroke-width="1.25"/><path d="M357.12,64.26 L359.47,66.61 L357.12,68.96 L354.77,66.61 Z" fill="#fff" stroke="#E35C12" stroke-width="1.25"/><path d="M358.26,62.24 L360.61,64.59 L358.26,66.94 L355.91,64.59 Z" fill="#fff" stroke="#E35C12" stroke-width="1.25"/><path d="M359.4,60.45 L361.75,62.8 L359.4,65.15 L357.05,62.8 Z" fill="#fff" stroke="#E35C12" stroke-width="1.25"/><path d="M362.25,56.75 L364.6,59.1 L362.25,61.45 L359.9,59.1 Z" fill="#fff" stroke="#E35C12" stroke-width="1.25"/><path d="M365.1,53.57 L367.45,55.92 L365.1,58.27 L362.75,55.92 Z" fill="#fff" stroke="#E35C12" stroke-width="1.25"/><path d="M367.95,50.68 L370.3,53.03 L367.95,55.38 L365.6,53.03 Z" fill="#fff" stroke="#E35C12" stroke-width="1.25"/><path d="M370.8,48.27 L373.15,50.62 L370.8,52.97 L368.45,50.62 Z" fill="#fff" stroke="#E35C12" stroke-width="1.25"/><path d="M376.5,44.52 L378.85,46.87 L376.5,49.22 L374.15,46.87 Z" fill="#fff" stroke="#E35C12" stroke-width="1.25"/><path d="M390.75,41.44 L393.1,43.79 L390.75,46.14 L388.4,43.79 Z" fill="#fff" stroke="#E35C12" stroke-width="1.25"/><path d="M405,38.26 L407.35,40.61 L405,42.96 L402.65,40.61 Z" fill="#fff" stroke="#E35C12" stroke-width="1.25"/><path d="M433.5,34.6 L435.85,36.95 L433.5,39.3 L431.15,36.95 Z" fill="#fff" stroke="#E35C12" stroke-width="1.25"/><path d="M462,32.38 L464.35,34.73 L462,37.08 L459.65,34.73 Z" fill="#fff" stroke="#E35C12" stroke-width="1.25"/><path d="M507,27.85 L509.55,30.4 L507,32.95 L504.45,30.4 Z" fill="#fff" stroke="#E35C12" stroke-width="1.25"/>
<rect x="434.6" y="68.5" width="83" height="46.7" fill="#fff" stroke="#555" stroke-width="1"/>
<line x1="441.1" y1="76.8" x2="454" y2="76.8" stroke="#000" stroke-width="1.2" />
<circle cx="447.5" cy="76.8" r="1.95" fill="#fff" stroke="#000" stroke-width="1.2"/>
<line x1="441.1" y1="90.6" x2="454" y2="90.6" stroke="#8c8c8c" stroke-width="1.2" />
<circle cx="447.5" cy="90.6" r="1.95" fill="#c8c8c8" stroke="#8c8c8c" stroke-width="1.2"/>
<line x1="441.1" y1="107.3" x2="454" y2="107.3" stroke="#E35C12" stroke-width="1.2" />
<path d="M447.5,104.75 L450.05,107.3 L447.5,109.85 L444.95,107.3 Z" fill="#fff" stroke="#E35C12" stroke-width="1.25"/>
<text x="460.6" y="80.5" font-size="9.857" font-weight="normal" font-style="normal" fill="#111" textLength="16.21" lengthAdjust="spacingAndGlyphs">WT</text>
<text x="459.76" y="94.25" font-size="9.786" font-weight="normal" font-style="italic" fill="#111" textLength="53.78" lengthAdjust="spacingAndGlyphs">Fgf13 floxed</text>
<text x="461" y="110.6" font-size="9.786" font-weight="normal" font-style="italic" fill="#111" textLength="44.87" lengthAdjust="spacingAndGlyphs">cFgf13KO</text>
<path d="M61.6,204 V317 M61.6,312.9 H225.2" fill="none" stroke="#1a1a1a" stroke-width="1.4"/>
<line x1="57.5" y1="312.9" x2="61.5" y2="312.9" stroke="#1a1a1a" stroke-width="1.3" />
<text x="50.59" y="316.5" font-size="9.643" font-weight="bold" font-style="normal" fill="#000" textLength="5.10" lengthAdjust="spacingAndGlyphs">0</text>
<line x1="57.5" y1="285.78" x2="61.5" y2="285.78" stroke="#1a1a1a" stroke-width="1.3" />
<text x="50.59" y="289.38" font-size="9.643" font-weight="bold" font-style="normal" fill="#000" textLength="5.10" lengthAdjust="spacingAndGlyphs">2</text>
<line x1="57.5" y1="258.66" x2="61.5" y2="258.66" stroke="#1a1a1a" stroke-width="1.3" />
<text x="50.36" y="262.26" font-size="9.643" font-weight="bold" font-style="normal" fill="#000" textLength="5.10" lengthAdjust="spacingAndGlyphs">4</text>
<line x1="57.5" y1="231.54" x2="61.5" y2="231.54" stroke="#1a1a1a" stroke-width="1.3" />
<text x="50.59" y="235.14" font-size="9.643" font-weight="bold" font-style="normal" fill="#000" textLength="5.10" lengthAdjust="spacingAndGlyphs">6</text>
<line x1="57.5" y1="204.42" x2="61.5" y2="204.42" stroke="#1a1a1a" stroke-width="1.3" />
<text x="50.59" y="208.02" font-size="9.643" font-weight="bold" font-style="normal" fill="#000" textLength="5.10" lengthAdjust="spacingAndGlyphs">8</text>
<line x1="116.3" y1="312.9" x2="116.3" y2="317" stroke="#1a1a1a" stroke-width="1.3" />
<line x1="171.1" y1="312.9" x2="171.1" y2="317" stroke="#1a1a1a" stroke-width="1.3" />
<line x1="225.9" y1="312.9" x2="225.9" y2="317" stroke="#1a1a1a" stroke-width="1.3" />
<line x1="88.9" y1="312.9" x2="88.9" y2="315.4" stroke="#1a1a1a" stroke-width="1.2" />
<line x1="143.7" y1="312.9" x2="143.7" y2="315.4" stroke="#1a1a1a" stroke-width="1.2" />
<line x1="198.5" y1="312.9" x2="198.5" y2="315.4" stroke="#1a1a1a" stroke-width="1.2" />
<text x="54.61" y="327.8" font-size="9.714" font-weight="bold" font-style="normal" fill="#000" textLength="13.34" lengthAdjust="spacingAndGlyphs">-40</text>
<text x="109.41" y="327.8" font-size="9.714" font-weight="bold" font-style="normal" fill="#000" textLength="13.34" lengthAdjust="spacingAndGlyphs">-20</text>
<text x="168.25" y="327.8" font-size="9.714" font-weight="bold" font-style="normal" fill="#000" textLength="5.13" lengthAdjust="spacingAndGlyphs">0</text>
<text x="220.62" y="327.8" font-size="9.714" font-weight="bold" font-style="normal" fill="#000" textLength="10.27" lengthAdjust="spacingAndGlyphs">20</text>
<text x="111.25" y="341.25" font-size="9.643" font-weight="bold" font-style="normal" fill="#000" textLength="64.15" lengthAdjust="spacingAndGlyphs">Voltage (mV)</text>
<text transform="translate(33.2,300.5) rotate(-90)" x="0" y="0" font-size="10.286" font-weight="bold" font-style="normal" fill="#000" textLength="86.47" lengthAdjust="spacingAndGlyphs">Inactivation Time</text>
<text transform="translate(45.1,293.02) rotate(-90)" x="0" y="0" font-size="10.143" font-weight="bold" font-style="normal" fill="#000" textLength="70.11" lengthAdjust="spacingAndGlyphs">Constant (ms)</text>
<line x1="67" y1="204.6" x2="101.8" y2="204.6" stroke="#000" stroke-width="1.2" />
<text x="66.61" y="200.5" font-size="11.429" font-weight="normal" font-style="normal" fill="#111" textLength="32.42" lengthAdjust="spacingAndGlyphs">10 ms</text>
<path d="M66.5,211.3 L66.8,241.3 L67.7,256.3 L68.7,260.8 L69.4,261.3 L69.56,259.6 L69.71,257.96 L69.87,256.38 L70.03,254.86 L70.19,253.38 L70.34,251.97 L70.5,250.6 L70.66,249.28 L70.81,248 L70.97,246.77 L71.13,245.59 L71.29,244.44 L71.44,243.34 L71.6,242.27 L71.7,241.62 L72.32,237.88 L72.93,234.62 L73.55,231.79 L74.17,229.33 L74.78,227.19 L75.4,225.33 L76.02,223.71 L76.63,222.29 L77.25,221.06 L77.87,219.98 L78.48,219.04 L79.1,218.22 L79.72,217.5 L80.33,216.87 L80.95,216.31 L81.56,215.83 L82.18,215.4 L82.8,215.02 L83.41,214.69 L84.03,214.4 L84.65,214.14 L85.26,213.91 L85.88,213.71 L86.5,213.53 L87.11,213.36 L87.73,213.22 L88.35,213.09 L88.96,212.97 L89.58,212.87 L90.2,212.77 L90.81,212.68 L91.43,212.61 L92.05,212.53 L92.66,212.47 L93.28,212.41 L93.9,212.35 L94.51,212.3 L95.13,212.26 L95.75,212.21 L96.36,212.17 L96.98,212.13 L97.59,212.1 L98.21,212.06 L98.83,212.03 L99.44,212 L100.06,211.97 L100.68,211.95 L101.29,211.92 L101.91,211.9 L102.53,211.88 L103.14,211.86 L103.76,211.83 L104.38,211.82 L104.99,211.8 L105.61,211.78 L106.23,211.76 L106.84,211.74 L107.46,211.73 L108.08,211.71 L108.69,211.7 L109.31,211.69 L109.93,211.67 L110.54,211.66 L111.16,211.65 L111.78,211.63 L112.39,211.62 L113.01,211.61 L113.63,211.6 L114.24,211.59 L114.86,211.58 L115.47,211.57 L116.09,211.56 L116.71,211.55 L117.32,211.54 L117.94,211.54 L118.56,211.53 L119.17,211.52 L119.79,211.51 L120.41,211.51 L121.02,211.5 L121.64,211.49 L122.26,211.49 L122.87,211.48 L123.49,211.47 L124.11,211.47 L124.72,211.46 L125.34,211.46 L125.96,211.45 L126.57,211.45 L127.19,211.44 L127.81,211.44 L128.42,211.43 L129.04,211.43 L129.66,211.42 L130.27,211.42 L130.89,211.41 L131.51,211.41 L132.12,211.41 L132.74,211.4 L133.35,211.4 L133.97,211.4 L134.59,211.39 L135.2,211.39 L135.82,211.39 L136.44,211.38 L137.05,211.38 L137.67,211.38 L138.29,211.38 L138.9,211.37 L139.52,211.37 L140.14,211.37 L140.75,211.37 L141.37,211.36 L141.99,211.36 L142.6,211.36 L143.22,211.36 L143.84,211.36 L144.45,211.35 L145.07,211.35 L145.69,211.35 L146.3,211.35 L146.92,211.35 L147.54,211.35 L148.15,211.34 L148.77,211.34 L149.38,211.34 L150,211.34 L150.62,211.34 L151.23,211.34 L151.85,211.34 L152.47,211.33 L153.08,211.33 L153.7,211.33 L154.32,211.33 L154.93,211.33 L155.55,211.33 L156.17,211.33 L156.78,211.33 L157.4,211.33" fill="none" stroke="#000" stroke-width="1.5" stroke-opacity="1.0" stroke-linejoin="round"/>
<path d="M66.3,209.4 L66.6,240.54 L67.5,256.11 L68.5,260.78 L69.2,261.3 L69.36,258.95 L69.51,256.7 L69.67,254.57 L69.83,252.53 L69.99,250.59 L70.14,248.75 L70.3,246.98 L70.46,245.31 L70.61,243.71 L70.77,242.19 L70.93,240.73 L71.09,239.35 L71.24,238.03 L71.4,236.77 L71.5,236.01 L72.12,231.75 L72.73,228.22 L73.35,225.3 L73.97,222.87 L74.58,220.85 L75.2,219.17 L75.82,217.77 L76.43,216.6 L77.05,215.63 L77.67,214.81 L78.28,214.12 L78.9,213.55 L79.52,213.06 L80.13,212.65 L80.75,212.3 L81.36,212 L81.98,211.75 L82.6,211.53 L83.21,211.34 L83.83,211.18 L84.45,211.03 L85.06,210.91 L85.68,210.8 L86.3,210.7 L86.91,210.62 L87.53,210.54 L88.15,210.47 L88.76,210.41 L89.38,210.35 L90,210.3 L90.61,210.25 L91.23,210.2 L91.85,210.16 L92.46,210.12 L93.08,210.09 L93.7,210.05 L94.31,210.02 L94.93,209.99 L95.55,209.97 L96.16,209.94 L96.78,209.92 L97.39,209.89 L98.01,209.87 L98.63,209.85 L99.24,209.83 L99.86,209.81 L100.48,209.79 L101.09,209.77 L101.71,209.76 L102.33,209.74 L102.94,209.73 L103.56,209.71 L104.18,209.7 L104.79,209.69 L105.41,209.67 L106.03,209.66 L106.64,209.65 L107.26,209.64 L107.88,209.63 L108.49,209.62 L109.11,209.61 L109.73,209.6 L110.34,209.59 L110.96,209.58 L111.58,209.58 L112.19,209.57 L112.81,209.56 L113.43,209.55 L114.04,209.55 L114.66,209.54 L115.27,209.54 L115.89,209.53 L116.51,209.52 L117.12,209.52 L117.74,209.51 L118.36,209.51 L118.97,209.5 L119.59,209.5 L120.21,209.5 L120.82,209.49 L121.44,209.49 L122.06,209.48 L122.67,209.48 L123.29,209.48 L123.91,209.47 L124.52,209.47 L125.14,209.47 L125.76,209.46 L126.37,209.46 L126.99,209.46 L127.61,209.46 L128.22,209.45 L128.84,209.45 L129.46,209.45 L130.07,209.45 L130.69,209.44 L131.31,209.44 L131.92,209.44 L132.54,209.44 L133.15,209.44 L133.77,209.44 L134.39,209.43 L135,209.43 L135.62,209.43 L136.24,209.43 L136.85,209.43 L137.47,209.43 L138.09,209.43 L138.7,209.43 L139.32,209.42 L139.94,209.42 L140.55,209.42 L141.17,209.42 L141.79,209.42 L142.4,209.42 L143.02,209.42 L143.64,209.42 L144.25,209.42 L144.87,209.42 L145.49,209.42 L146.1,209.41 L146.72,209.41 L147.34,209.41 L147.95,209.41 L148.57,209.41 L149.18,209.41 L149.8,209.41 L150.42,209.41 L151.03,209.41 L151.65,209.41 L152.27,209.41 L152.88,209.41 L153.5,209.41 L154.12,209.41 L154.73,209.41 L155.35,209.41 L155.97,209.41 L156.58,209.41 L157.2,209.41" fill="none" stroke="#DA7B3A" stroke-width="1.2" stroke-opacity="1.0" stroke-linejoin="round"/>
<path d="M87,236 H90.8 M87,245.2 H90.8 M88.9,236 V245.2" stroke="#666" stroke-width="0.85" fill="none"/><path d="M87,219.8 H90.8 M87,228.2 H90.8 M88.9,219.8 V228.2" stroke="#555" stroke-width="0.9" fill="none"/><path d="M100.7,246.9 H104.5 M100.7,253.9 H104.5 M102.6,246.9 V253.9" stroke="#666" stroke-width="0.85" fill="none"/><path d="M100.7,233.1 H104.5 M100.7,239.7 H104.5 M102.6,233.1 V239.7" stroke="#555" stroke-width="0.9" fill="none"/><path d="M114.4,251.7 H118.2 M114.4,257.7 H118.2 M116.3,251.7 V257.7" stroke="#666" stroke-width="0.85" fill="none"/><path d="M114.4,240.6 H118.2 M114.4,247.2 H118.2 M116.3,240.6 V247.2" stroke="#555" stroke-width="0.9" fill="none"/><path d="M128.1,252.2 H131.9 M128.1,258.2 H131.9 M130,252.2 V258.2" stroke="#666" stroke-width="0.85" fill="none"/><path d="M128.1,246.5 H131.9 M128.1,253.1 H131.9 M130,246.5 V253.1" stroke="#555" stroke-width="0.9" fill="none"/><path d="M141.8,249.4 H145.6 M141.8,255.4 H145.6 M143.7,249.4 V255.4" stroke="#666" stroke-width="0.85" fill="none"/><path d="M141.8,251.7 H145.6 M141.8,258.3 H145.6 M143.7,251.7 V258.3" stroke="#555" stroke-width="0.9" fill="none"/><path d="M155.5,251.6 H159.3 M155.5,257.6 H159.3 M157.4,251.6 V257.6" stroke="#666" stroke-width="0.85" fill="none"/><path d="M155.5,250.3 H159.3 M155.5,257.9 H159.3 M157.4,250.3 V257.9" stroke="#555" stroke-width="0.9" fill="none"/><path d="M169.2,239.5 H173 M169.2,250.5 H173 M171.1,239.5 V250.5" stroke="#666" stroke-width="0.85" fill="none"/><path d="M169.2,251 H173 M169.2,258.8 H173 M171.1,251 V258.8" stroke="#555" stroke-width="0.9" fill="none"/><path d="M182.9,235.2 H186.7 M182.9,244.8 H186.7 M184.8,235.2 V244.8" stroke="#666" stroke-width="0.85" fill="none"/><path d="M182.9,245.8 H186.7 M182.9,253.2 H186.7 M184.8,245.8 V253.2" stroke="#555" stroke-width="0.9" fill="none"/><path d="M196.6,237.5 H200.4 M196.6,246.3 H200.4 M198.5,237.5 V246.3" stroke="#666" stroke-width="0.85" fill="none"/><path d="M196.6,245.3 H200.4 M196.6,252.3 H200.4 M198.5,245.3 V252.3" stroke="#555" stroke-width="0.9" fill="none"/><path d="M88.9,238.45 L91.05,240.6 L88.9,242.75 L86.75,240.6 Z" fill="#E35C12" stroke="#E35C12" stroke-width="0.6"/><path d="M102.6,248.25 L104.75,250.4 L102.6,252.55 L100.45,250.4 Z" fill="#E35C12" stroke="#E35C12" stroke-width="0.6"/><path d="M116.3,252.55 L118.45,254.7 L116.3,256.85 L114.15,254.7 Z" fill="#E35C12" stroke="#E35C12" stroke-width="0.6"/><path d="M130,253.05 L132.15,255.2 L130,257.35 L127.85,255.2 Z" fill="#E35C12" stroke="#E35C12" stroke-width="0.6"/><path d="M143.7,250.25 L145.85,252.4 L143.7,254.55 L141.55,252.4 Z" fill="#E35C12" stroke="#E35C12" stroke-width="0.6"/><path d="M157.4,252.45 L159.55,254.6 L157.4,256.75 L155.25,254.6 Z" fill="#E35C12" stroke="#E35C12" stroke-width="0.6"/><path d="M171.1,242.85 L173.25,245 L171.1,247.15 L168.95,245 Z" fill="#E35C12" stroke="#E35C12" stroke-width="0.6"/><path d="M184.8,237.85 L186.95,240 L184.8,242.15 L182.65,240 Z" fill="#E35C12" stroke="#E35C12" stroke-width="0.6"/><path d="M198.5,239.75 L200.65,241.9 L198.5,244.05 L196.35,241.9 Z" fill="#E35C12" stroke="#E35C12" stroke-width="0.6"/><circle cx="88.9" cy="224" r="2.3" fill="#000" stroke="#000" stroke-width="0.4"/><circle cx="102.6" cy="236.4" r="2.3" fill="#000" stroke="#000" stroke-width="0.4"/><circle cx="116.3" cy="243.9" r="2.3" fill="#000" stroke="#000" stroke-width="0.4"/><circle cx="130" cy="249.8" r="2.3" fill="#000" stroke="#000" stroke-width="0.4"/><circle cx="143.7" cy="255" r="2.3" fill="#000" stroke="#000" stroke-width="0.4"/><circle cx="157.4" cy="254.1" r="2.3" fill="#000" stroke="#000" stroke-width="0.4"/><circle cx="171.1" cy="254.9" r="2.3" fill="#000" stroke="#000" stroke-width="0.4"/><circle cx="184.8" cy="249.5" r="2.3" fill="#000" stroke="#000" stroke-width="0.4"/><circle cx="198.5" cy="248.8" r="2.3" fill="#000" stroke="#000" stroke-width="0.4"/><path d="M88.9,296.95 L91.2,299.25 L88.9,301.55 L86.6,299.25 Z" fill="#fff" stroke="#E35C12" stroke-width="1.3"/><path d="M102.6,298.45 L104.9,300.75 L102.6,303.05 L100.3,300.75 Z" fill="#fff" stroke="#E35C12" stroke-width="1.3"/><path d="M116.3,299.45 L118.6,301.75 L116.3,304.05 L114,301.75 Z" fill="#fff" stroke="#E35C12" stroke-width="1.3"/><path d="M130,299.7 L132.3,302 L130,304.3 L127.7,302 Z" fill="#fff" stroke="#E35C12" stroke-width="1.3"/><path d="M143.7,300.4 L146,302.7 L143.7,305 L141.4,302.7 Z" fill="#fff" stroke="#E35C12" stroke-width="1.3"/><path d="M157.4,300.9 L159.7,303.2 L157.4,305.5 L155.1,303.2 Z" fill="#fff" stroke="#E35C12" stroke-width="1.3"/><path d="M171.1,301.8 L173.4,304.1 L171.1,306.4 L168.8,304.1 Z" fill="#fff" stroke="#E35C12" stroke-width="1.3"/><path d="M184.8,302.3 L187.1,304.6 L184.8,306.9 L182.5,304.6 Z" fill="#fff" stroke="#E35C12" stroke-width="1.3"/><path d="M198.5,302.6 L200.8,304.9 L198.5,307.2 L196.2,304.9 Z" fill="#fff" stroke="#E35C12" stroke-width="1.3"/><circle cx="88.9" cy="293.4" r="2.1" fill="#fff" stroke="#000" stroke-width="1.25"/><circle cx="102.6" cy="295.15" r="2.1" fill="#fff" stroke="#000" stroke-width="1.25"/><circle cx="116.3" cy="296.8" r="2.1" fill="#fff" stroke="#000" stroke-width="1.25"/><circle cx="130" cy="297.7" r="2.1" fill="#fff" stroke="#000" stroke-width="1.25"/><circle cx="143.7" cy="298.6" r="2.1" fill="#fff" stroke="#000" stroke-width="1.25"/><circle cx="157.4" cy="299.3" r="2.1" fill="#fff" stroke="#000" stroke-width="1.25"/><circle cx="171.1" cy="300.1" r="2.1" fill="#fff" stroke="#000" stroke-width="1.25"/><circle cx="184.8" cy="300.3" r="2.1" fill="#fff" stroke="#000" stroke-width="1.25"/><circle cx="198.5" cy="301" r="2.1" fill="#fff" stroke="#000" stroke-width="1.25"/>
<rect x="225.9" y="242" width="82.6" height="60.3" fill="#fff" stroke="#555" stroke-width="1"/>
<circle cx="235.5" cy="251" r="2.0" fill="#fff" stroke="#000" stroke-width="1.1"/>
<path d="M235.5,263.1 L237.8,265.4 L235.5,267.7 L233.2,265.4 Z" fill="#fff" stroke="#E35C12" stroke-width="1.25"/>
<circle cx="235.5" cy="280.2" r="2.0" fill="#000" stroke="#000" stroke-width="0.5"/>
<path d="M235.5,293.3 L237.5,295.3 L235.5,297.3 L233.5,295.3 Z" fill="#E35C12" stroke="#E35C12" stroke-width="0.5"/>
<text x="247.88" y="253.25" font-size="8.571" font-weight="normal" font-style="normal" fill="#111" textLength="5.31" lengthAdjust="spacingAndGlyphs">T</text>
<text x="252.9" y="255.25" font-size="6.4" font-weight="normal" font-style="normal" text-anchor="start" fill="#111" >f</text>
<text x="257.5" y="253.25" font-size="8.571" font-weight="normal" font-style="normal" fill="#111" textLength="13.36" lengthAdjust="spacingAndGlyphs">WT</text>
<text x="247.88" y="267.6" font-size="8.571" font-weight="normal" font-style="normal" fill="#111" textLength="5.31" lengthAdjust="spacingAndGlyphs">T</text>
<text x="252.9" y="269.6" font-size="6.4" font-weight="normal" font-style="normal" text-anchor="start" fill="#111" >f</text>
<text x="257.27" y="267.6" font-size="8.571" font-weight="normal" font-style="italic" fill="#111" textLength="41.07" lengthAdjust="spacingAndGlyphs">cFgf13KO</text>
<text x="247.88" y="282" font-size="8.571" font-weight="normal" font-style="normal" fill="#111" textLength="5.31" lengthAdjust="spacingAndGlyphs">T</text>
<text x="252.9" y="284" font-size="6.4" font-weight="normal" font-style="normal" text-anchor="start" fill="#111" >s</text>
<text x="259.4" y="282" font-size="8.571" font-weight="normal" font-style="normal" fill="#111" textLength="12.74" lengthAdjust="spacingAndGlyphs">WT</text>
<text x="247.88" y="297.2" font-size="8.571" font-weight="normal" font-style="normal" fill="#111" textLength="5.31" lengthAdjust="spacingAndGlyphs">T</text>
<text x="252.9" y="299.2" font-size="6.4" font-weight="normal" font-style="normal" text-anchor="start" fill="#111" >s</text>
<text x="259.97" y="297.2" font-size="8.571" font-weight="normal" font-style="italic" fill="#111" textLength="41.07" lengthAdjust="spacingAndGlyphs">cFgf13KO</text>
<path d="M352.2,204 V317 M352.2,312.9 H515.2" fill="none" stroke="#1a1a1a" stroke-width="1.4"/>
<line x1="347.6" y1="312.9" x2="352.2" y2="312.9" stroke="#1a1a1a" stroke-width="1.3" />
<text x="341.62" y="316" font-size="9.286" font-weight="bold" font-style="normal" fill="#000" textLength="4.75" lengthAdjust="spacingAndGlyphs">0</text>
<line x1="347.6" y1="276.65" x2="352.2" y2="276.65" stroke="#1a1a1a" stroke-width="1.3" />
<text x="341.62" y="279.75" font-size="9.286" font-weight="bold" font-style="normal" fill="#000" textLength="4.75" lengthAdjust="spacingAndGlyphs">5</text>
<line x1="347.6" y1="240.4" x2="352.2" y2="240.4" stroke="#1a1a1a" stroke-width="1.3" />
<text x="336.92" y="243.5" font-size="9.286" font-weight="bold" font-style="normal" fill="#000" textLength="9.50" lengthAdjust="spacingAndGlyphs">10</text>
<line x1="347.6" y1="204.15" x2="352.2" y2="204.15" stroke="#1a1a1a" stroke-width="1.3" />
<text x="336.92" y="207.25" font-size="9.286" font-weight="bold" font-style="normal" fill="#000" textLength="9.50" lengthAdjust="spacingAndGlyphs">15</text>
<line x1="349.4" y1="294.77" x2="352.2" y2="294.77" stroke="#1a1a1a" stroke-width="1.0" />
<line x1="349.4" y1="258.52" x2="352.2" y2="258.52" stroke="#1a1a1a" stroke-width="1.0" />
<line x1="349.4" y1="222.27" x2="352.2" y2="222.27" stroke="#1a1a1a" stroke-width="1.0" />
<line x1="406.5" y1="312.9" x2="406.5" y2="317" stroke="#1a1a1a" stroke-width="1.3" />
<line x1="460.8" y1="312.9" x2="460.8" y2="317" stroke="#1a1a1a" stroke-width="1.3" />
<line x1="515.1" y1="312.9" x2="515.1" y2="317" stroke="#1a1a1a" stroke-width="1.3" />
<line x1="379.35" y1="312.9" x2="379.35" y2="315.2" stroke="#1a1a1a" stroke-width="1.0" />
<line x1="433.65" y1="312.9" x2="433.65" y2="315.2" stroke="#1a1a1a" stroke-width="1.0" />
<line x1="487.95" y1="312.9" x2="487.95" y2="315.2" stroke="#1a1a1a" stroke-width="1.0" />
<text x="346.26" y="326.8" font-size="8.571" font-weight="bold" font-style="normal" fill="#000" textLength="11.65" lengthAdjust="spacingAndGlyphs">-40</text>
<text x="400.56" y="326.8" font-size="8.571" font-weight="bold" font-style="normal" fill="#000" textLength="11.65" lengthAdjust="spacingAndGlyphs">-20</text>
<text x="458.38" y="326.8" font-size="8.571" font-weight="bold" font-style="normal" fill="#000" textLength="4.48" lengthAdjust="spacingAndGlyphs">0</text>
<text x="510.57" y="326.8" font-size="8.571" font-weight="bold" font-style="normal" fill="#000" textLength="8.96" lengthAdjust="spacingAndGlyphs">20</text>
<text x="397.5" y="342.5" font-size="12.500" font-weight="bold" font-style="normal" fill="#000" textLength="72.96" lengthAdjust="spacingAndGlyphs">Voltage (mV)</text>
<text transform="translate(329.3,257.5) rotate(-90)" x="0" y="0" font-size="10.5" font-weight="bold" text-anchor="middle" fill="#000">%A<tspan font-size="7.6" dy="1.5">slow</tspan></text>
<path d="M377.15,275.3 H381.55 M377.15,284.1 H381.55 M379.35,275.3 V284.1" stroke="#E9A070" stroke-width="0.9" fill="none"/><path d="M390.72,274 H395.12 M390.72,282 H395.12 M392.92,274 V282" stroke="#E9A070" stroke-width="0.9" fill="none"/><path d="M404.3,276.9 H408.7 M404.3,283.5 H408.7 M406.5,276.9 V283.5" stroke="#E9A070" stroke-width="0.9" fill="none"/><path d="M417.88,284.4 H422.27 M417.88,289.8 H422.27 M420.07,284.4 V289.8" stroke="#E9A070" stroke-width="0.9" fill="none"/><path d="M431.45,290.6 H435.85 M431.45,295.8 H435.85 M433.65,290.6 V295.8" stroke="#E9A070" stroke-width="0.9" fill="none"/><path d="M445.02,295 H449.42 M445.02,299 H449.42 M447.22,295 V299" stroke="#E9A070" stroke-width="0.9" fill="none"/><path d="M458.6,298.9 H463 M458.6,301.9 H463 M460.8,298.9 V301.9" stroke="#E9A070" stroke-width="0.9" fill="none"/><path d="M472.18,302.3 H476.57 M472.18,303.9 H476.57 M474.38,302.3 V303.9" stroke="#E9A070" stroke-width="0.9" fill="none"/><path d="M485.75,301.8 H490.15 M485.75,303.4 H490.15 M487.95,301.8 V303.4" stroke="#E9A070" stroke-width="0.9" fill="none"/><path d="M376.75,215.4 H381.95 M376.75,229.4 H381.95 M379.35,215.4 V229.4" stroke="#444" stroke-width="1.0" fill="none"/><path d="M390.32,218 H395.52 M390.32,229.6 H395.52 M392.92,218 V229.6" stroke="#444" stroke-width="1.0" fill="none"/><path d="M403.9,222.4 H409.1 M403.9,236.2 H409.1 M406.5,222.4 V236.2" stroke="#444" stroke-width="1.0" fill="none"/><path d="M417.47,232.3 H422.68 M417.47,245.5 H422.68 M420.07,232.3 V245.5" stroke="#444" stroke-width="1.0" fill="none"/><path d="M431.05,243.5 H436.25 M431.05,255.3 H436.25 M433.65,243.5 V255.3" stroke="#444" stroke-width="1.0" fill="none"/><path d="M444.62,257.4 H449.82 M444.62,270 H449.82 M447.22,257.4 V270" stroke="#444" stroke-width="1.0" fill="none"/><path d="M458.2,263.3 H463.4 M458.2,276.3 H463.4 M460.8,263.3 V276.3" stroke="#444" stroke-width="1.0" fill="none"/><path d="M471.77,276.7 H476.98 M471.77,289.3 H476.98 M474.38,276.7 V289.3" stroke="#444" stroke-width="1.0" fill="none"/><path d="M485.35,281.1 H490.55 M485.35,290.5 H490.55 M487.95,281.1 V290.5" stroke="#444" stroke-width="1.0" fill="none"/><path d="M379.35,277.6 L381.45,279.7 L379.35,281.8 L377.25,279.7 Z" fill="#E35C12" stroke="#E35C12" stroke-width="0.6"/><path d="M392.92,275.9 L395.02,278 L392.92,280.1 L390.82,278 Z" fill="#E35C12" stroke="#E35C12" stroke-width="0.6"/><path d="M406.5,278.1 L408.6,280.2 L406.5,282.3 L404.4,280.2 Z" fill="#E35C12" stroke="#E35C12" stroke-width="0.6"/><path d="M420.07,285 L422.18,287.1 L420.07,289.2 L417.97,287.1 Z" fill="#E35C12" stroke="#E35C12" stroke-width="0.6"/><path d="M433.65,291.1 L435.75,293.2 L433.65,295.3 L431.55,293.2 Z" fill="#E35C12" stroke="#E35C12" stroke-width="0.6"/><path d="M447.22,294.9 L449.32,297 L447.22,299.1 L445.12,297 Z" fill="#E35C12" stroke="#E35C12" stroke-width="0.6"/><path d="M460.8,298.3 L462.9,300.4 L460.8,302.5 L458.7,300.4 Z" fill="#E35C12" stroke="#E35C12" stroke-width="0.6"/><path d="M474.38,301 L476.48,303.1 L474.38,305.2 L472.27,303.1 Z" fill="#E35C12" stroke="#E35C12" stroke-width="0.6"/><path d="M487.95,300.5 L490.05,302.6 L487.95,304.7 L485.85,302.6 Z" fill="#E35C12" stroke="#E35C12" stroke-width="0.6"/><circle cx="379.35" cy="222.4" r="2.75" fill="#000" stroke="#000" stroke-width="0.4"/><circle cx="392.92" cy="223.8" r="2.75" fill="#000" stroke="#000" stroke-width="0.4"/><circle cx="406.5" cy="229.3" r="2.75" fill="#000" stroke="#000" stroke-width="0.4"/><circle cx="420.07" cy="238.9" r="2.75" fill="#000" stroke="#000" stroke-width="0.4"/><circle cx="433.65" cy="249.4" r="2.75" fill="#000" stroke="#000" stroke-width="0.4"/><circle cx="447.22" cy="263.7" r="2.75" fill="#000" stroke="#000" stroke-width="0.4"/><circle cx="460.8" cy="269.8" r="2.75" fill="#000" stroke="#000" stroke-width="0.4"/><circle cx="474.38" cy="283" r="2.75" fill="#000" stroke="#000" stroke-width="0.4"/><circle cx="487.95" cy="285.8" r="2.75" fill="#000" stroke="#000" stroke-width="0.4"/></svg>
</body></html>
